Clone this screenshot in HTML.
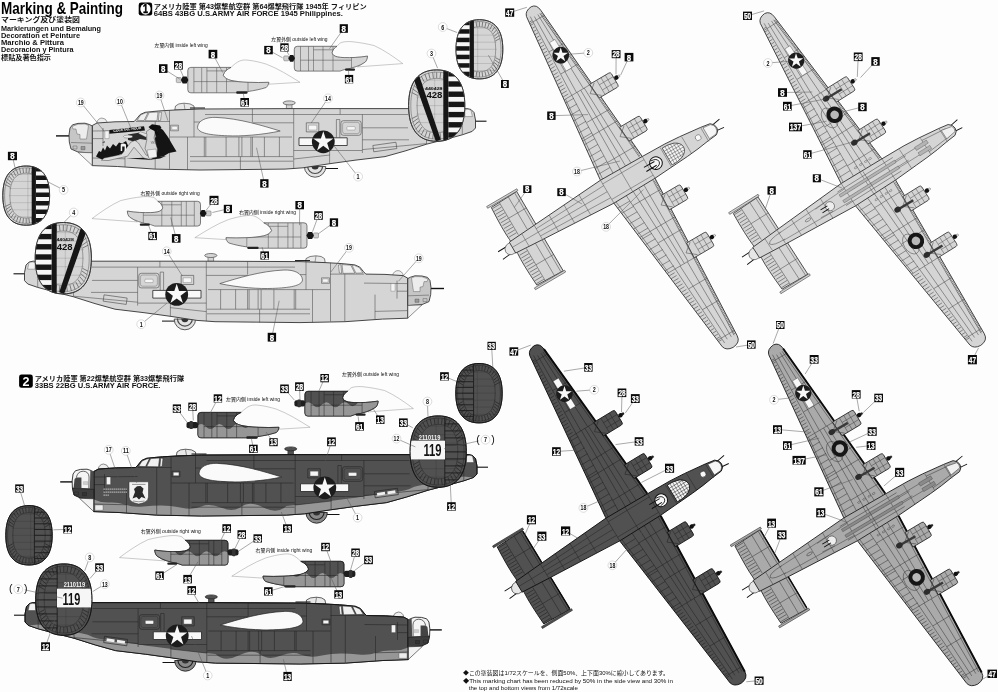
<!DOCTYPE html>
<html><head><meta charset="utf-8"><title>Marking &amp; Painting</title>
<style>html,body{margin:0;padding:0;background:#fdfdfd}svg{display:block;will-change:transform;filter:grayscale(1)}text{font-family:"Liberation Sans","Noto Sans CJK JP",sans-serif}</style>
</head><body>
<svg width="998" height="692" viewBox="0 0 998 692">
<rect width="998" height="692" fill="#fdfdfd"/>
<g transform="matrix(0.86251,-0.50603,0.50603,0.86251,633.10,176.50)" stroke-linejoin="round">
<path d="M94,-4.2L103.5,-5.8M94,2.6L103.3,3.6" stroke="#111" stroke-width="0.9" fill="none"/>
<path d="M-143,-3.6L-154.5,-3.4M-143,4.6L-154.2,5.6" stroke="#111" stroke-width="0.9" fill="none"/>
<path d="M-108,-46 L-108,46 L-138,45 Q-139.5,20 -138.5,8 L-138.5,-8 Q-139.5,-20 -138,-45 Z" fill="#d5d5d3" stroke="#3a3a3a" stroke-width="0.8"/>
<path d="M-141.5,-46.2 L-106.5,-46.2 L-106.5,-48.2 L-141.5,-48.2 Z" fill="#d5d5d3" stroke="#4a4a4a" stroke-width="0.6"/>
<path d="M-141.5,46.2 L-106.5,46.2 L-106.5,48.2 L-141.5,48.2 Z" fill="#d5d5d3" stroke="#4a4a4a" stroke-width="0.6"/>
<path d="M-138,-5.6 L-144,-5 Q-148,-3 -148,0.5 Q-148,4.5 -144,6 L-138,6.4 Z" fill="#e6e6e6" stroke="#4a4a4a" stroke-width="0.6"/>
<path d="M18.0,-13 L4.5,-190 Q4.0,-197.5 -2,-198 Q-9.5,-197.5 -11.0,-192 L-30.0,-14 L-30.0,14 L-9.2,192 Q-7.7,197.5 -0.2,198 Q8.8,197.5 9.2,190 L18.0,13 Z" fill="#d5d5d3" stroke="#3a3a3a" stroke-width="0.85"/>
<path d="M5.0,-13.0L2.6,-101.0M-1.2,-13.0L-1.5,-101.0M-7.5,-13.0L-5.7,-101.0M1.7,-101.0L-0.2,-188.0M-6.3,-101.0L-4.2,-188.0M-15.6,-13.0L-11.8,-101.0M-11.8,-101.0L-7.8,-190.0M-27.6,-13.0L-19.1,-101.0M15.3,-13.0L2.2,-188.0M14.7,-56.0L-25.5,-56.0M11.3,-101.0L-20.7,-101.0M5.0,-184.0L-11.9,-184.0M17.1,-25.0L-15.1,-25.0M13.7,-70.0L-12.7,-70.0M9.5,-125.0L-10.4,-125.0M7.5,-150.0L-9.7,-150.0M-15.3,-19.5L-29.4,-19.5M-15.0,-26.0L-28.7,-26.0M-14.7,-32.5L-28.0,-32.5M-14.3,-39.0L-27.3,-39.0M-14.0,-45.5L-26.6,-45.5M-13.7,-52.0L-25.9,-52.0M-13.3,-58.5L-25.3,-58.5M-13.0,-65.0L-24.6,-65.0M-12.6,-71.5L-23.9,-71.5M-12.3,-78.0L-23.2,-78.0M-12.0,-84.5L-22.5,-84.5M-11.6,-91.0L-21.8,-91.0M-11.3,-97.5L-21.1,-97.5M-118.0,-8.0L-118.0,-45.5M-128.5,-8.0L-128.5,-45.5M-110.5,-8.0L-110.5,-45.5M-108.0,-27.0L-128.5,-27.0M5.0,13.0L4.6,101.0M-1.2,13.0L0.2,101.0M-7.5,13.0L-4.1,101.0M3.6,101.0L3.6,188.0M-4.8,101.0L-1.1,188.0M-15.6,13.0L-10.5,101.0M-10.5,101.0L-5.3,190.0M-27.6,13.0L-18.1,101.0M15.3,13.0L6.8,188.0M15.8,56.0L-25.1,56.0M13.6,101.0L-19.8,101.0M9.4,184.0L-10.1,184.0M17.4,25.0L-14.9,25.0M15.2,70.0L-11.9,70.0M12.4,125.0L-8.8,125.0M11.1,150.0L-7.8,150.0M-15.2,19.5L-29.4,19.5M-14.8,26.0L-28.6,26.0M-14.4,32.5L-27.8,32.5M-13.9,39.0L-27.1,39.0M-13.5,45.5L-26.3,45.5M-13.1,52.0L-25.6,52.0M-12.6,58.5L-24.8,58.5M-12.2,65.0L-24.0,65.0M-11.8,71.5L-23.3,71.5M-11.3,78.0L-22.5,78.0M-10.9,84.5L-21.8,84.5M-10.5,91.0L-21.0,91.0M-10.0,97.5L-20.2,97.5M-118.0,8.0L-118.0,45.5M-128.5,8.0L-128.5,45.5M-110.5,8.0L-110.5,45.5M-108.0,27.0L-128.5,27.0" fill="none" stroke="#4a4a4a" stroke-width="0.5"/>
<path d="M-14.1,-104.0L-20.1,-104.0M-13.9,-107.4L-19.7,-107.4M-13.6,-110.8L-19.4,-110.8M-13.4,-114.2L-19.0,-114.2M-13.2,-117.6L-18.6,-117.6M-12.9,-121.0L-18.3,-121.0M-12.7,-124.4L-17.9,-124.4M-12.4,-127.8L-17.6,-127.8M-12.2,-131.2L-17.2,-131.2M-12.0,-134.6L-16.8,-134.6M-11.7,-138.0L-16.5,-138.0M-11.5,-141.4L-16.1,-141.4M-11.2,-144.8L-15.7,-144.8M-11.0,-148.2L-15.4,-148.2M-10.8,-151.6L-15.0,-151.6M-10.5,-155.0L-14.7,-155.0M-10.3,-158.4L-14.3,-158.4M-10.1,-161.8L-13.9,-161.8M-9.8,-165.2L-13.6,-165.2M-9.6,-168.6L-13.2,-168.6M-9.3,-172.0L-12.8,-172.0M-9.1,-175.4L-12.5,-175.4M-8.9,-178.8L-12.1,-178.8M-8.6,-182.2L-11.8,-182.2M-8.4,-185.6L-11.4,-185.6M17.5,-15.0L15.3,-15.0M17.4,-16.7L15.2,-16.7M17.3,-18.4L15.1,-18.4M17.2,-20.1L15.0,-20.1M17.0,-21.8L14.8,-21.8M16.9,-23.5L14.7,-23.5M16.8,-25.2L14.6,-25.2M16.6,-26.9L14.4,-26.9M16.5,-28.6L14.3,-28.6M16.4,-30.3L14.2,-30.3M16.3,-32.0L14.1,-32.0M16.1,-33.7L13.9,-33.7M16.0,-35.4L13.8,-35.4M15.9,-37.1L13.7,-37.1M15.7,-38.8L13.5,-38.8M15.6,-40.5L13.4,-40.5M15.5,-42.2L13.3,-42.2M15.3,-43.9L13.1,-43.9M15.2,-45.6L13.0,-45.6M15.1,-47.3L12.9,-47.3M15.0,-49.0L12.8,-49.0M14.8,-50.7L12.6,-50.7M14.7,-52.4L12.5,-52.4M14.6,-54.1L12.4,-54.1M14.4,-55.8L12.2,-55.8M14.3,-57.5L12.1,-57.5M14.2,-59.2L12.0,-59.2M14.0,-60.9L11.8,-60.9M13.9,-62.6L11.7,-62.6M13.8,-64.3L11.6,-64.3M13.7,-66.0L11.5,-66.0M13.5,-67.7L11.3,-67.7M13.4,-69.4L11.2,-69.4M13.3,-71.1L11.1,-71.1M13.1,-72.8L10.9,-72.8M13.0,-74.5L10.8,-74.5M12.9,-76.2L10.7,-76.2M12.7,-77.9L10.5,-77.9M12.6,-79.6L10.4,-79.6M12.5,-81.3L10.3,-81.3M12.4,-83.0L10.2,-83.0M12.2,-84.7L10.0,-84.7M12.1,-86.4L9.9,-86.4M12.0,-88.1L9.8,-88.1M11.8,-89.8L9.6,-89.8M11.7,-91.5L9.5,-91.5M11.6,-93.2L9.4,-93.2M11.5,-94.9L9.3,-94.9M11.3,-96.6L9.1,-96.6M11.2,-98.3L9.0,-98.3M11.1,-100.0L8.9,-100.0M10.9,-101.7L8.7,-101.7M10.8,-103.4L8.6,-103.4M10.7,-105.1L8.5,-105.1M10.5,-106.8L8.3,-106.8M10.4,-108.5L8.2,-108.5M10.3,-110.2L8.1,-110.2M10.2,-111.9L8.0,-111.9M10.0,-113.6L7.8,-113.6M9.9,-115.3L7.7,-115.3M9.8,-117.0L7.6,-117.0M9.6,-118.7L7.4,-118.7M9.5,-120.4L7.3,-120.4M9.4,-122.1L7.2,-122.1M9.2,-123.8L7.0,-123.8M9.1,-125.5L6.9,-125.5M9.0,-127.2L6.8,-127.2M8.9,-128.9L6.7,-128.9M8.7,-130.6L6.5,-130.6M8.6,-132.3L6.4,-132.3M8.5,-134.0L6.3,-134.0M8.3,-135.7L6.1,-135.7M8.2,-137.4L6.0,-137.4M8.1,-139.1L5.9,-139.1M7.9,-140.8L5.7,-140.8M7.8,-142.5L5.6,-142.5M7.7,-144.2L5.5,-144.2M7.6,-145.9L5.4,-145.9M7.4,-147.6L5.2,-147.6M7.3,-149.3L5.1,-149.3M7.2,-151.0L5.0,-151.0M7.0,-152.7L4.8,-152.7M6.9,-154.4L4.7,-154.4M6.8,-156.1L4.6,-156.1M6.7,-157.8L4.5,-157.8M6.5,-159.5L4.3,-159.5M6.4,-161.2L4.2,-161.2M6.3,-162.9L4.1,-162.9M6.1,-164.6L3.9,-164.6M6.0,-166.3L3.8,-166.3M5.9,-168.0L3.7,-168.0M5.7,-169.7L3.5,-169.7M5.6,-171.4L3.4,-171.4M5.5,-173.1L3.3,-173.1M5.4,-174.8L3.2,-174.8M5.2,-176.5L3.0,-176.5M5.1,-178.2L2.9,-178.2M5.0,-179.9L2.8,-179.9M4.8,-181.6L2.6,-181.6M4.7,-183.3L2.5,-183.3M4.6,-185.0L2.4,-185.0M4.4,-186.7L2.2,-186.7M-129.0,-10.5L-137.6,-10.5M-129.0,-13.8L-137.6,-13.8M-129.0,-17.1L-137.6,-17.1M-129.0,-20.4L-137.6,-20.4M-129.0,-23.7L-137.6,-23.7M-129.0,-27.0L-137.6,-27.0M-129.0,-30.3L-137.6,-30.3M-129.0,-33.6L-137.6,-33.6M-129.0,-36.9L-137.6,-36.9M-129.0,-40.2L-137.6,-40.2M-129.0,-43.5L-137.6,-43.5M-12.9,104.0L-19.2,104.0M-12.6,107.4L-18.8,107.4M-12.3,110.8L-18.4,110.8M-12.0,114.2L-18.0,114.2M-11.7,117.6L-17.6,117.6M-11.5,121.0L-17.2,121.0M-11.2,124.4L-16.8,124.4M-10.9,127.8L-16.4,127.8M-10.6,131.2L-16.0,131.2M-10.3,134.6L-15.6,134.6M-10.0,138.0L-15.2,138.0M-9.8,141.4L-14.8,141.4M-9.5,144.8L-14.4,144.8M-9.2,148.2L-14.0,148.2M-8.9,151.6L-13.6,151.6M-8.6,155.0L-13.2,155.0M-8.3,158.4L-12.8,158.4M-8.1,161.8L-12.4,161.8M-7.8,165.2L-12.0,165.2M-7.5,168.6L-11.6,168.6M-7.2,172.0L-11.2,172.0M-6.9,175.4L-10.8,175.4M-6.6,178.8L-10.4,178.8M-6.3,182.2L-10.0,182.2M-6.1,185.6L-9.6,185.6M17.6,15.0L15.4,15.0M17.5,16.7L15.3,16.7M17.4,18.4L15.2,18.4M17.3,20.1L15.1,20.1M17.3,21.8L15.1,21.8M17.2,23.5L15.0,23.5M17.1,25.2L14.9,25.2M17.0,26.9L14.8,26.9M16.9,28.6L14.7,28.6M16.8,30.3L14.6,30.3M16.8,32.0L14.6,32.0M16.7,33.7L14.5,33.7M16.6,35.4L14.4,35.4M16.5,37.1L14.3,37.1M16.4,38.8L14.2,38.8M16.3,40.5L14.1,40.5M16.2,42.2L14.0,42.2M16.2,43.9L14.0,43.9M16.1,45.6L13.9,45.6M16.0,47.3L13.8,47.3M15.9,49.0L13.7,49.0M15.8,50.7L13.6,50.7M15.7,52.4L13.5,52.4M15.6,54.1L13.4,54.1M15.6,55.8L13.4,55.8M15.5,57.5L13.3,57.5M15.4,59.2L13.2,59.2M15.3,60.9L13.1,60.9M15.2,62.6L13.0,62.6M15.1,64.3L12.9,64.3M15.0,66.0L12.8,66.0M15.0,67.7L12.8,67.7M14.9,69.4L12.7,69.4M14.8,71.1L12.6,71.1M14.7,72.8L12.5,72.8M14.6,74.5L12.4,74.5M14.5,76.2L12.3,76.2M14.5,77.9L12.3,77.9M14.4,79.6L12.2,79.6M14.3,81.3L12.1,81.3M14.2,83.0L12.0,83.0M14.1,84.7L11.9,84.7M14.0,86.4L11.8,86.4M13.9,88.1L11.7,88.1M13.9,89.8L11.7,89.8M13.8,91.5L11.6,91.5M13.7,93.2L11.5,93.2M13.6,94.9L11.4,94.9M13.5,96.6L11.3,96.6M13.4,98.3L11.2,98.3M13.3,100.0L11.1,100.0M13.3,101.7L11.1,101.7M13.2,103.4L11.0,103.4M13.1,105.1L10.9,105.1M13.0,106.8L10.8,106.8M12.9,108.5L10.7,108.5M12.8,110.2L10.6,110.2M12.8,111.9L10.6,111.9M12.7,113.6L10.5,113.6M12.6,115.3L10.4,115.3M12.5,117.0L10.3,117.0M12.4,118.7L10.2,118.7M12.3,120.4L10.1,120.4M12.2,122.1L10.0,122.1M12.2,123.8L10.0,123.8M12.1,125.5L9.9,125.5M12.0,127.2L9.8,127.2M11.9,128.9L9.7,128.9M11.8,130.6L9.6,130.6M11.7,132.3L9.5,132.3M11.6,134.0L9.4,134.0M11.6,135.7L9.4,135.7M11.5,137.4L9.3,137.4M11.4,139.1L9.2,139.1M11.3,140.8L9.1,140.8M11.2,142.5L9.0,142.5M11.1,144.2L8.9,144.2M11.1,145.9L8.9,145.9M11.0,147.6L8.8,147.6M10.9,149.3L8.7,149.3M10.8,151.0L8.6,151.0M10.7,152.7L8.5,152.7M10.6,154.4L8.4,154.4M10.5,156.1L8.3,156.1M10.5,157.8L8.3,157.8M10.4,159.5L8.2,159.5M10.3,161.2L8.1,161.2M10.2,162.9L8.0,162.9M10.1,164.6L7.9,164.6M10.0,166.3L7.8,166.3M10.0,168.0L7.8,168.0M9.9,169.7L7.7,169.7M9.8,171.4L7.6,171.4M9.7,173.1L7.5,173.1M9.6,174.8L7.4,174.8M9.5,176.5L7.3,176.5M9.4,178.2L7.2,178.2M9.4,179.9L7.2,179.9M9.3,181.6L7.1,181.6M9.2,183.3L7.0,183.3M9.1,185.0L6.9,185.0M9.0,186.7L6.8,186.7M-129.0,10.5L-137.6,10.5M-129.0,13.8L-137.6,13.8M-129.0,17.1L-137.6,17.1M-129.0,20.4L-137.6,20.4M-129.0,23.7L-137.6,23.7M-129.0,27.0L-137.6,27.0M-129.0,30.3L-137.6,30.3M-129.0,33.6L-137.6,33.6M-129.0,36.9L-137.6,36.9M-129.0,40.2L-137.6,40.2M-129.0,43.5L-137.6,43.5" fill="none" stroke="#4a4a4a" stroke-width="0.55"/>
<path d="M9.2,-101.5 L31.3,-101.5 Q33.3,-101.5 33.3,-99.5 L33.3,-86.9 Q33.3,-84.9 31.3,-84.9 L10.5,-84.9 Z" fill="#d5d5d3" stroke="#3a3a3a" stroke-width="0.8"/>
<path d="M27.3,-101.5L27.3,-84.9M22.3,-101.5L22.3,-84.9M17.3,-101.5L17.3,-84.9M17.3,-96.2L33.3,-96.2M17.3,-90.2L33.3,-90.2" fill="none" stroke="#4a4a4a" stroke-width="0.45"/>
<path d="M13.9,-100.5 L4.9,-93.2 L13.9,-85.9" fill="none" stroke="#4a4a4a" stroke-width="0.5"/>
<path d="M35.8,-95.1 L39.3,-94.7 Q40.3,-93.8 39.3,-92.9 L35.8,-92.5Z" fill="#e8e8e8" stroke="#4a4a4a" stroke-width="0.4"/>
<circle cx="35.6" cy="-93.8" r="2.2" fill="#111"/>
<path d="M13.2,-49.3 L34.3,-49.3 Q36.3,-49.3 36.3,-47.3 L36.3,-34.7 Q36.3,-32.7 34.3,-32.7 L14.5,-32.7 Z" fill="#d5d5d3" stroke="#3a3a3a" stroke-width="0.8"/>
<path d="M30.3,-49.3L30.3,-32.7M25.3,-49.3L25.3,-32.7M20.3,-49.3L20.3,-32.7M20.3,-44.0L36.3,-44.0M20.3,-38.0L36.3,-38.0" fill="none" stroke="#4a4a4a" stroke-width="0.45"/>
<path d="M17.9,-48.3 L8.9,-41.0 L17.9,-33.7" fill="none" stroke="#4a4a4a" stroke-width="0.5"/>
<path d="M38.8,-42.9 L42.3,-42.5 Q43.3,-41.6 42.3,-40.7 L38.8,-40.3Z" fill="#e8e8e8" stroke="#4a4a4a" stroke-width="0.4"/>
<circle cx="38.6" cy="-41.6" r="2.2" fill="#111"/>
<path d="M15.1,30.5 L34.5,30.5 Q36.5,30.5 36.5,32.5 L36.5,45.1 Q36.5,47.1 34.5,47.1 L14.3,47.1 Z" fill="#d5d5d3" stroke="#3a3a3a" stroke-width="0.8"/>
<path d="M30.5,30.5L30.5,47.1M25.5,30.5L25.5,47.1M20.5,30.5L20.5,47.1M20.5,35.8L36.5,35.8M20.5,41.8L36.5,41.8" fill="none" stroke="#4a4a4a" stroke-width="0.45"/>
<path d="M18.7,31.5 L9.7,38.8 L18.7,46.1" fill="none" stroke="#4a4a4a" stroke-width="0.5"/>
<path d="M39.0,36.9 L42.5,37.3 Q43.5,38.2 42.5,39.1 L39.0,39.5Z" fill="#e8e8e8" stroke="#4a4a4a" stroke-width="0.4"/>
<circle cx="38.8" cy="38.2" r="2.2" fill="#111"/>
<path d="M12.4,84.4 L33.0,84.4 Q35.0,84.4 35.0,86.4 L35.0,99.0 Q35.0,101.0 33.0,101.0 L11.6,101.0 Z" fill="#d5d5d3" stroke="#3a3a3a" stroke-width="0.8"/>
<path d="M29.0,84.4L29.0,101.0M24.0,84.4L24.0,101.0M19.0,84.4L19.0,101.0M19.0,89.7L35.0,89.7M19.0,95.7L35.0,95.7" fill="none" stroke="#4a4a4a" stroke-width="0.45"/>
<path d="M16.0,85.4 L7.0,92.7 L16.0,100.0" fill="none" stroke="#4a4a4a" stroke-width="0.5"/>
<path d="M37.5,90.8 L41.0,91.2 Q42.0,92.1 41.0,93.0 L37.5,93.4Z" fill="#e8e8e8" stroke="#4a4a4a" stroke-width="0.4"/>
<circle cx="37.3" cy="92.1" r="2.2" fill="#111"/>
<path d="M-140,-6 L-110,-8 L-30,-13.3 L18,-12.6 L44,-12 L60,-10.8 L83,-8.2 L93,-6.6 Q97,-4 97,0 Q97,4 93,6.2 L83,7.2 L70,9 L57,10.2 L44,11 L18,12.6 L-30,13.3 L-110,8.6 L-140,6.6 Z" fill="#d5d5d3" stroke="#3a3a3a" stroke-width="0.85"/>
<path d="M-140.0,0.0L-30.0,0.0M-110.0,-4.0L-30.0,-7.0M-110.0,4.4L-30.0,7.0M-125.0,-7.0L-125.0,7.0M-110.0,-8.0L-110.0,8.0M-92.0,-9.2L-92.0,9.2M-74.0,-10.4L-74.0,10.4M-56.0,-11.6L-56.0,11.6M-30.0,-13.3L-30.0,13.3M-8.0,-13.3L-8.0,13.3M18.0,-13.3L18.0,13.3M38.0,-11.2L38.0,11.2M62.0,-9.6L62.0,9.6M83.0,-8.2L83.0,8.2M-30.0,-9.0L18.0,-9.0M-30.0,9.0L18.0,9.0" fill="none" stroke="#4a4a4a" stroke-width="0.45"/>
<path d="M39.5,-9.8 L39.5,9.8 Q46,10.2 52,8.2 Q58.5,5 58.5,0 Q58.5,-5 52,-8.2 Q46,-10.2 39.5,-9.8 Z" fill="#f4f4f4" stroke="#4a4a4a" stroke-width="0.8"/>
<path d="M42.5,-9.8L42.5,9.8M45.5,-9.9L45.5,9.9M48.5,-9.4L48.5,9.4M51.5,-8.4L51.5,8.4M54.5,-6.6L54.5,6.6M39.5,-6L55.2,-6M39.5,-3L57.6,-3M39.5,0L58.5,0M39.5,3L57.6,3M39.5,6L55.2,6" fill="none" stroke="#4a4a4a" stroke-width="0.45"/>
<circle cx="26.5" cy="0" r="6.4" fill="#f8f8f8" stroke="#111" stroke-width="1"/>
<path d="M26,-2.2L14,-2.4M26,2.2L14,2.4" stroke="#111" stroke-width="1" fill="none"/>
<path d="M23,-4.5Q30,-4 30,0Q30,4 23,4.5" stroke="#111" stroke-width="0.8" fill="none"/>
<circle cx="75.8" cy="-0.6" r="2.9" fill="#fafafa" stroke="#4a4a4a" stroke-width="0.5"/>
<path d="M85,-6.6 L93,-5.6 Q96,-3.5 96,0 Q96,3.5 93,5.4 L85,6 Z" fill="#f6f6f6" stroke="#4a4a4a" stroke-width="0.5"/>
<rect x="-4.4" y="-157.8" width="6.4" height="33" fill="#f8f8f8" stroke="#4a4a4a" stroke-width="0.4"/>
<circle cx="-1" cy="-141.3" r="8.4" fill="#1c1c1c"/>
<polygon points="2.90,-147.94 1.70,-142.48 6.52,-139.65 0.95,-139.10 -0.25,-133.64 -2.49,-138.76 -8.06,-138.22 -3.87,-141.93 -6.11,-147.06 -1.29,-144.23" fill="#f8f8f8"/>
</g>
<g transform="matrix(0.83980,-0.52490,0.54200,0.84040,873.60,178.90)" stroke-linejoin="round">
<path d="M94,-4.2L103.5,-5.8M94,2.6L103.3,3.6" stroke="#111" stroke-width="0.9" fill="none"/>
<path d="M-143,-3.6L-154.5,-3.4M-143,4.6L-154.2,5.6" stroke="#111" stroke-width="0.9" fill="none"/>
<path d="M-108,-46 L-108,46 L-138,45 Q-139.5,20 -138.5,8 L-138.5,-8 Q-139.5,-20 -138,-45 Z" fill="#d5d5d3" stroke="#3a3a3a" stroke-width="0.8"/>
<path d="M-141.5,-46.2 L-106.5,-46.2 L-106.5,-48.2 L-141.5,-48.2 Z" fill="#d5d5d3" stroke="#4a4a4a" stroke-width="0.6"/>
<path d="M-141.5,46.2 L-106.5,46.2 L-106.5,48.2 L-141.5,48.2 Z" fill="#d5d5d3" stroke="#4a4a4a" stroke-width="0.6"/>
<path d="M-138,-5.6 L-144,-5 Q-148,-3 -148,0.5 Q-148,4.5 -144,6 L-138,6.4 Z" fill="#e6e6e6" stroke="#4a4a4a" stroke-width="0.6"/>
<path d="M18.0,-13 L4.5,-190 Q4.0,-197.5 -2,-198 Q-9.5,-197.5 -11.0,-192 L-30.0,-14 L-30.0,14 L-9.2,192 Q-7.7,197.5 -0.2,198 Q8.8,197.5 9.2,190 L18.0,13 Z" fill="#d5d5d3" stroke="#3a3a3a" stroke-width="0.85"/>
<path d="M5.0,-13.0L2.6,-101.0M-1.2,-13.0L-1.5,-101.0M-7.5,-13.0L-5.7,-101.0M1.7,-101.0L-0.2,-188.0M-6.3,-101.0L-4.2,-188.0M-15.6,-13.0L-11.8,-101.0M-11.8,-101.0L-7.8,-190.0M-27.6,-13.0L-19.1,-101.0M15.3,-13.0L2.2,-188.0M14.7,-56.0L-25.5,-56.0M11.3,-101.0L-20.7,-101.0M5.0,-184.0L-11.9,-184.0M17.1,-25.0L-15.1,-25.0M13.7,-70.0L-12.7,-70.0M9.5,-125.0L-10.4,-125.0M7.5,-150.0L-9.7,-150.0M-15.3,-19.5L-29.4,-19.5M-15.0,-26.0L-28.7,-26.0M-14.7,-32.5L-28.0,-32.5M-14.3,-39.0L-27.3,-39.0M-14.0,-45.5L-26.6,-45.5M-13.7,-52.0L-25.9,-52.0M-13.3,-58.5L-25.3,-58.5M-13.0,-65.0L-24.6,-65.0M-12.6,-71.5L-23.9,-71.5M-12.3,-78.0L-23.2,-78.0M-12.0,-84.5L-22.5,-84.5M-11.6,-91.0L-21.8,-91.0M-11.3,-97.5L-21.1,-97.5M-118.0,-8.0L-118.0,-45.5M-128.5,-8.0L-128.5,-45.5M-110.5,-8.0L-110.5,-45.5M-108.0,-27.0L-128.5,-27.0M5.0,13.0L4.6,101.0M-1.2,13.0L0.2,101.0M-7.5,13.0L-4.1,101.0M3.6,101.0L3.6,188.0M-4.8,101.0L-1.1,188.0M-15.6,13.0L-10.5,101.0M-10.5,101.0L-5.3,190.0M-27.6,13.0L-18.1,101.0M15.3,13.0L6.8,188.0M15.8,56.0L-25.1,56.0M13.6,101.0L-19.8,101.0M9.4,184.0L-10.1,184.0M17.4,25.0L-14.9,25.0M15.2,70.0L-11.9,70.0M12.4,125.0L-8.8,125.0M11.1,150.0L-7.8,150.0M-15.2,19.5L-29.4,19.5M-14.8,26.0L-28.6,26.0M-14.4,32.5L-27.8,32.5M-13.9,39.0L-27.1,39.0M-13.5,45.5L-26.3,45.5M-13.1,52.0L-25.6,52.0M-12.6,58.5L-24.8,58.5M-12.2,65.0L-24.0,65.0M-11.8,71.5L-23.3,71.5M-11.3,78.0L-22.5,78.0M-10.9,84.5L-21.8,84.5M-10.5,91.0L-21.0,91.0M-10.0,97.5L-20.2,97.5M-118.0,8.0L-118.0,45.5M-128.5,8.0L-128.5,45.5M-110.5,8.0L-110.5,45.5M-108.0,27.0L-128.5,27.0" fill="none" stroke="#4a4a4a" stroke-width="0.5"/>
<path d="M-14.1,-104.0L-20.1,-104.0M-13.9,-107.4L-19.7,-107.4M-13.6,-110.8L-19.4,-110.8M-13.4,-114.2L-19.0,-114.2M-13.2,-117.6L-18.6,-117.6M-12.9,-121.0L-18.3,-121.0M-12.7,-124.4L-17.9,-124.4M-12.4,-127.8L-17.6,-127.8M-12.2,-131.2L-17.2,-131.2M-12.0,-134.6L-16.8,-134.6M-11.7,-138.0L-16.5,-138.0M-11.5,-141.4L-16.1,-141.4M-11.2,-144.8L-15.7,-144.8M-11.0,-148.2L-15.4,-148.2M-10.8,-151.6L-15.0,-151.6M-10.5,-155.0L-14.7,-155.0M-10.3,-158.4L-14.3,-158.4M-10.1,-161.8L-13.9,-161.8M-9.8,-165.2L-13.6,-165.2M-9.6,-168.6L-13.2,-168.6M-9.3,-172.0L-12.8,-172.0M-9.1,-175.4L-12.5,-175.4M-8.9,-178.8L-12.1,-178.8M-8.6,-182.2L-11.8,-182.2M-8.4,-185.6L-11.4,-185.6M17.5,-15.0L15.3,-15.0M17.4,-16.7L15.2,-16.7M17.3,-18.4L15.1,-18.4M17.2,-20.1L15.0,-20.1M17.0,-21.8L14.8,-21.8M16.9,-23.5L14.7,-23.5M16.8,-25.2L14.6,-25.2M16.6,-26.9L14.4,-26.9M16.5,-28.6L14.3,-28.6M16.4,-30.3L14.2,-30.3M16.3,-32.0L14.1,-32.0M16.1,-33.7L13.9,-33.7M16.0,-35.4L13.8,-35.4M15.9,-37.1L13.7,-37.1M15.7,-38.8L13.5,-38.8M15.6,-40.5L13.4,-40.5M15.5,-42.2L13.3,-42.2M15.3,-43.9L13.1,-43.9M15.2,-45.6L13.0,-45.6M15.1,-47.3L12.9,-47.3M15.0,-49.0L12.8,-49.0M14.8,-50.7L12.6,-50.7M14.7,-52.4L12.5,-52.4M14.6,-54.1L12.4,-54.1M14.4,-55.8L12.2,-55.8M14.3,-57.5L12.1,-57.5M14.2,-59.2L12.0,-59.2M14.0,-60.9L11.8,-60.9M13.9,-62.6L11.7,-62.6M13.8,-64.3L11.6,-64.3M13.7,-66.0L11.5,-66.0M13.5,-67.7L11.3,-67.7M13.4,-69.4L11.2,-69.4M13.3,-71.1L11.1,-71.1M13.1,-72.8L10.9,-72.8M13.0,-74.5L10.8,-74.5M12.9,-76.2L10.7,-76.2M12.7,-77.9L10.5,-77.9M12.6,-79.6L10.4,-79.6M12.5,-81.3L10.3,-81.3M12.4,-83.0L10.2,-83.0M12.2,-84.7L10.0,-84.7M12.1,-86.4L9.9,-86.4M12.0,-88.1L9.8,-88.1M11.8,-89.8L9.6,-89.8M11.7,-91.5L9.5,-91.5M11.6,-93.2L9.4,-93.2M11.5,-94.9L9.3,-94.9M11.3,-96.6L9.1,-96.6M11.2,-98.3L9.0,-98.3M11.1,-100.0L8.9,-100.0M10.9,-101.7L8.7,-101.7M10.8,-103.4L8.6,-103.4M10.7,-105.1L8.5,-105.1M10.5,-106.8L8.3,-106.8M10.4,-108.5L8.2,-108.5M10.3,-110.2L8.1,-110.2M10.2,-111.9L8.0,-111.9M10.0,-113.6L7.8,-113.6M9.9,-115.3L7.7,-115.3M9.8,-117.0L7.6,-117.0M9.6,-118.7L7.4,-118.7M9.5,-120.4L7.3,-120.4M9.4,-122.1L7.2,-122.1M9.2,-123.8L7.0,-123.8M9.1,-125.5L6.9,-125.5M9.0,-127.2L6.8,-127.2M8.9,-128.9L6.7,-128.9M8.7,-130.6L6.5,-130.6M8.6,-132.3L6.4,-132.3M8.5,-134.0L6.3,-134.0M8.3,-135.7L6.1,-135.7M8.2,-137.4L6.0,-137.4M8.1,-139.1L5.9,-139.1M7.9,-140.8L5.7,-140.8M7.8,-142.5L5.6,-142.5M7.7,-144.2L5.5,-144.2M7.6,-145.9L5.4,-145.9M7.4,-147.6L5.2,-147.6M7.3,-149.3L5.1,-149.3M7.2,-151.0L5.0,-151.0M7.0,-152.7L4.8,-152.7M6.9,-154.4L4.7,-154.4M6.8,-156.1L4.6,-156.1M6.7,-157.8L4.5,-157.8M6.5,-159.5L4.3,-159.5M6.4,-161.2L4.2,-161.2M6.3,-162.9L4.1,-162.9M6.1,-164.6L3.9,-164.6M6.0,-166.3L3.8,-166.3M5.9,-168.0L3.7,-168.0M5.7,-169.7L3.5,-169.7M5.6,-171.4L3.4,-171.4M5.5,-173.1L3.3,-173.1M5.4,-174.8L3.2,-174.8M5.2,-176.5L3.0,-176.5M5.1,-178.2L2.9,-178.2M5.0,-179.9L2.8,-179.9M4.8,-181.6L2.6,-181.6M4.7,-183.3L2.5,-183.3M4.6,-185.0L2.4,-185.0M4.4,-186.7L2.2,-186.7M-129.0,-10.5L-137.6,-10.5M-129.0,-13.8L-137.6,-13.8M-129.0,-17.1L-137.6,-17.1M-129.0,-20.4L-137.6,-20.4M-129.0,-23.7L-137.6,-23.7M-129.0,-27.0L-137.6,-27.0M-129.0,-30.3L-137.6,-30.3M-129.0,-33.6L-137.6,-33.6M-129.0,-36.9L-137.6,-36.9M-129.0,-40.2L-137.6,-40.2M-129.0,-43.5L-137.6,-43.5M-12.9,104.0L-19.2,104.0M-12.6,107.4L-18.8,107.4M-12.3,110.8L-18.4,110.8M-12.0,114.2L-18.0,114.2M-11.7,117.6L-17.6,117.6M-11.5,121.0L-17.2,121.0M-11.2,124.4L-16.8,124.4M-10.9,127.8L-16.4,127.8M-10.6,131.2L-16.0,131.2M-10.3,134.6L-15.6,134.6M-10.0,138.0L-15.2,138.0M-9.8,141.4L-14.8,141.4M-9.5,144.8L-14.4,144.8M-9.2,148.2L-14.0,148.2M-8.9,151.6L-13.6,151.6M-8.6,155.0L-13.2,155.0M-8.3,158.4L-12.8,158.4M-8.1,161.8L-12.4,161.8M-7.8,165.2L-12.0,165.2M-7.5,168.6L-11.6,168.6M-7.2,172.0L-11.2,172.0M-6.9,175.4L-10.8,175.4M-6.6,178.8L-10.4,178.8M-6.3,182.2L-10.0,182.2M-6.1,185.6L-9.6,185.6M17.6,15.0L15.4,15.0M17.5,16.7L15.3,16.7M17.4,18.4L15.2,18.4M17.3,20.1L15.1,20.1M17.3,21.8L15.1,21.8M17.2,23.5L15.0,23.5M17.1,25.2L14.9,25.2M17.0,26.9L14.8,26.9M16.9,28.6L14.7,28.6M16.8,30.3L14.6,30.3M16.8,32.0L14.6,32.0M16.7,33.7L14.5,33.7M16.6,35.4L14.4,35.4M16.5,37.1L14.3,37.1M16.4,38.8L14.2,38.8M16.3,40.5L14.1,40.5M16.2,42.2L14.0,42.2M16.2,43.9L14.0,43.9M16.1,45.6L13.9,45.6M16.0,47.3L13.8,47.3M15.9,49.0L13.7,49.0M15.8,50.7L13.6,50.7M15.7,52.4L13.5,52.4M15.6,54.1L13.4,54.1M15.6,55.8L13.4,55.8M15.5,57.5L13.3,57.5M15.4,59.2L13.2,59.2M15.3,60.9L13.1,60.9M15.2,62.6L13.0,62.6M15.1,64.3L12.9,64.3M15.0,66.0L12.8,66.0M15.0,67.7L12.8,67.7M14.9,69.4L12.7,69.4M14.8,71.1L12.6,71.1M14.7,72.8L12.5,72.8M14.6,74.5L12.4,74.5M14.5,76.2L12.3,76.2M14.5,77.9L12.3,77.9M14.4,79.6L12.2,79.6M14.3,81.3L12.1,81.3M14.2,83.0L12.0,83.0M14.1,84.7L11.9,84.7M14.0,86.4L11.8,86.4M13.9,88.1L11.7,88.1M13.9,89.8L11.7,89.8M13.8,91.5L11.6,91.5M13.7,93.2L11.5,93.2M13.6,94.9L11.4,94.9M13.5,96.6L11.3,96.6M13.4,98.3L11.2,98.3M13.3,100.0L11.1,100.0M13.3,101.7L11.1,101.7M13.2,103.4L11.0,103.4M13.1,105.1L10.9,105.1M13.0,106.8L10.8,106.8M12.9,108.5L10.7,108.5M12.8,110.2L10.6,110.2M12.8,111.9L10.6,111.9M12.7,113.6L10.5,113.6M12.6,115.3L10.4,115.3M12.5,117.0L10.3,117.0M12.4,118.7L10.2,118.7M12.3,120.4L10.1,120.4M12.2,122.1L10.0,122.1M12.2,123.8L10.0,123.8M12.1,125.5L9.9,125.5M12.0,127.2L9.8,127.2M11.9,128.9L9.7,128.9M11.8,130.6L9.6,130.6M11.7,132.3L9.5,132.3M11.6,134.0L9.4,134.0M11.6,135.7L9.4,135.7M11.5,137.4L9.3,137.4M11.4,139.1L9.2,139.1M11.3,140.8L9.1,140.8M11.2,142.5L9.0,142.5M11.1,144.2L8.9,144.2M11.1,145.9L8.9,145.9M11.0,147.6L8.8,147.6M10.9,149.3L8.7,149.3M10.8,151.0L8.6,151.0M10.7,152.7L8.5,152.7M10.6,154.4L8.4,154.4M10.5,156.1L8.3,156.1M10.5,157.8L8.3,157.8M10.4,159.5L8.2,159.5M10.3,161.2L8.1,161.2M10.2,162.9L8.0,162.9M10.1,164.6L7.9,164.6M10.0,166.3L7.8,166.3M10.0,168.0L7.8,168.0M9.9,169.7L7.7,169.7M9.8,171.4L7.6,171.4M9.7,173.1L7.5,173.1M9.6,174.8L7.4,174.8M9.5,176.5L7.3,176.5M9.4,178.2L7.2,178.2M9.4,179.9L7.2,179.9M9.3,181.6L7.1,181.6M9.2,183.3L7.0,183.3M9.1,185.0L6.9,185.0M9.0,186.7L6.8,186.7M-129.0,10.5L-137.6,10.5M-129.0,13.8L-137.6,13.8M-129.0,17.1L-137.6,17.1M-129.0,20.4L-137.6,20.4M-129.0,23.7L-137.6,23.7M-129.0,27.0L-137.6,27.0M-129.0,30.3L-137.6,30.3M-129.0,33.6L-137.6,33.6M-129.0,36.9L-137.6,36.9M-129.0,40.2L-137.6,40.2M-129.0,43.5L-137.6,43.5" fill="none" stroke="#4a4a4a" stroke-width="0.55"/>
<path d="M9.2,-101.5 L31.3,-101.5 Q33.3,-101.5 33.3,-99.5 L33.3,-86.9 Q33.3,-84.9 31.3,-84.9 L10.5,-84.9 Z" fill="#d5d5d3" stroke="#3a3a3a" stroke-width="0.8"/>
<path d="M27.3,-101.5L27.3,-84.9M22.3,-101.5L22.3,-84.9M17.3,-101.5L17.3,-84.9M17.3,-96.2L33.3,-96.2M17.3,-90.2L33.3,-90.2" fill="none" stroke="#4a4a4a" stroke-width="0.45"/>
<path d="M13.9,-100.5 L4.9,-93.2 L13.9,-85.9" fill="none" stroke="#4a4a4a" stroke-width="0.5"/>
<path d="M35.8,-95.1 L39.3,-94.7 Q40.3,-93.8 39.3,-92.9 L35.8,-92.5Z" fill="#e8e8e8" stroke="#4a4a4a" stroke-width="0.4"/>
<circle cx="35.6" cy="-93.8" r="2.2" fill="#111"/>
<path d="M13.2,-49.3 L34.3,-49.3 Q36.3,-49.3 36.3,-47.3 L36.3,-34.7 Q36.3,-32.7 34.3,-32.7 L14.5,-32.7 Z" fill="#d5d5d3" stroke="#3a3a3a" stroke-width="0.8"/>
<path d="M30.3,-49.3L30.3,-32.7M25.3,-49.3L25.3,-32.7M20.3,-49.3L20.3,-32.7M20.3,-44.0L36.3,-44.0M20.3,-38.0L36.3,-38.0" fill="none" stroke="#4a4a4a" stroke-width="0.45"/>
<path d="M17.9,-48.3 L8.9,-41.0 L17.9,-33.7" fill="none" stroke="#4a4a4a" stroke-width="0.5"/>
<path d="M38.8,-42.9 L42.3,-42.5 Q43.3,-41.6 42.3,-40.7 L38.8,-40.3Z" fill="#e8e8e8" stroke="#4a4a4a" stroke-width="0.4"/>
<circle cx="38.6" cy="-41.6" r="2.2" fill="#111"/>
<path d="M15.1,30.5 L34.5,30.5 Q36.5,30.5 36.5,32.5 L36.5,45.1 Q36.5,47.1 34.5,47.1 L14.3,47.1 Z" fill="#d5d5d3" stroke="#3a3a3a" stroke-width="0.8"/>
<path d="M30.5,30.5L30.5,47.1M25.5,30.5L25.5,47.1M20.5,30.5L20.5,47.1M20.5,35.8L36.5,35.8M20.5,41.8L36.5,41.8" fill="none" stroke="#4a4a4a" stroke-width="0.45"/>
<path d="M18.7,31.5 L9.7,38.8 L18.7,46.1" fill="none" stroke="#4a4a4a" stroke-width="0.5"/>
<path d="M39.0,36.9 L42.5,37.3 Q43.5,38.2 42.5,39.1 L39.0,39.5Z" fill="#e8e8e8" stroke="#4a4a4a" stroke-width="0.4"/>
<circle cx="38.8" cy="38.2" r="2.2" fill="#111"/>
<path d="M12.4,84.4 L33.0,84.4 Q35.0,84.4 35.0,86.4 L35.0,99.0 Q35.0,101.0 33.0,101.0 L11.6,101.0 Z" fill="#d5d5d3" stroke="#3a3a3a" stroke-width="0.8"/>
<path d="M29.0,84.4L29.0,101.0M24.0,84.4L24.0,101.0M19.0,84.4L19.0,101.0M19.0,89.7L35.0,89.7M19.0,95.7L35.0,95.7" fill="none" stroke="#4a4a4a" stroke-width="0.45"/>
<path d="M16.0,85.4 L7.0,92.7 L16.0,100.0" fill="none" stroke="#4a4a4a" stroke-width="0.5"/>
<path d="M37.5,90.8 L41.0,91.2 Q42.0,92.1 41.0,93.0 L37.5,93.4Z" fill="#e8e8e8" stroke="#4a4a4a" stroke-width="0.4"/>
<circle cx="37.3" cy="92.1" r="2.2" fill="#111"/>
<path d="M-140,-6 L-110,-8 L-30,-13.3 L18,-12.6 L44,-12 L60,-10.8 L83,-8.2 L93,-6.6 Q97,-4 97,0 Q97,4 93,6.2 L83,7.2 L70,9 L57,10.2 L44,11 L18,12.6 L-30,13.3 L-110,8.6 L-140,6.6 Z" fill="#d5d5d3" stroke="#3a3a3a" stroke-width="0.85"/>
<path d="M-110.0,-4.0L-30.0,-7.0M-110.0,4.4L-30.0,7.0M-125.0,-7.0L-125.0,7.0M-110.0,-8.0L-110.0,8.0M-92.0,-9.2L-92.0,9.2M-74.0,-10.4L-74.0,10.4M-56.0,-11.6L-56.0,11.6M-30.0,-13.3L-30.0,13.3M-8.0,-13.3L-8.0,13.3M18.0,-13.3L18.0,13.3M38.0,-11.2L38.0,11.2M62.0,-9.6L62.0,9.6M83.0,-8.2L83.0,8.2M-28.0,-4.0L60.0,-4.0M-28.0,4.0L60.0,4.0M-28.0,-2.6L40.0,-2.6M-28.0,2.6L40.0,2.6" fill="none" stroke="#4a4a4a" stroke-width="0.45"/>
<rect x="-4.2" y="-157.3" width="6.2" height="32" fill="#f8f8f8" stroke="#4a4a4a" stroke-width="0.4"/>
<circle cx="-1" cy="-141.3" r="8.2" fill="#1c1c1c"/>
<polygon points="2.91,-147.70 1.64,-142.40 6.30,-139.56 0.86,-139.12 -0.40,-133.82 -2.49,-138.85 -7.92,-138.42 -3.79,-141.96 -5.88,-146.99 -1.23,-144.16" fill="#f8f8f8"/>
<ellipse cx="-4" cy="-75" rx="7" ry="11" fill="none" stroke="#4a4a4a" stroke-width="0.5"/>
<circle cx="2" cy="-75" r="8.3" fill="#161616"/>
<circle cx="2" cy="-75" r="4.3" fill="#b8b8b8"/>
<ellipse cx="-4" cy="75" rx="7" ry="11" fill="none" stroke="#4a4a4a" stroke-width="0.5"/>
<circle cx="2" cy="75" r="8.3" fill="#161616"/>
<circle cx="2" cy="75" r="4.3" fill="#b8b8b8"/>
<path d="M4,-94.3 L22,-94.10000000000001 L22,-91.7 L4,-91.9Z" fill="#3a3a3a"/>
<ellipse cx="3.5" cy="-93.2" rx="3.4" ry="2.8" fill="#2c2c2c"/>
<path d="M4,-42.1 L22,-41.9 L22,-39.5 L4,-39.7Z" fill="#3a3a3a"/>
<ellipse cx="3.5" cy="-41" rx="3.4" ry="2.8" fill="#2c2c2c"/>
<path d="M4,37.699999999999996 L22,37.9 L22,40.3 L4,40.099999999999994Z" fill="#3a3a3a"/>
<ellipse cx="3.5" cy="38.8" rx="3.4" ry="2.8" fill="#2c2c2c"/>
<path d="M4,91.60000000000001 L22,91.8 L22,94.2 L4,94.0Z" fill="#3a3a3a"/>
<ellipse cx="3.5" cy="92.7" rx="3.4" ry="2.8" fill="#2c2c2c"/>
<rect x="-38" y="-4.8" width="66" height="2.8" fill="#b4b4b2" stroke="#4a4a4a" stroke-width="0.35"/>
<rect x="52" y="-5" width="14" height="3.6" fill="#b4b4b2" stroke="#4a4a4a" stroke-width="0.35"/>
<rect x="-38" y="2" width="66" height="2.8" fill="#b4b4b2" stroke="#4a4a4a" stroke-width="0.35"/>
<rect x="52" y="1.4" width="14" height="3.6" fill="#b4b4b2" stroke="#4a4a4a" stroke-width="0.35"/>
<path d="M-38,-8 L28,-8 M-38,8 L28,8 M-5,-12 L-5,12" fill="none" stroke="#4a4a4a" stroke-width="0.5"/>
<ellipse cx="-78" cy="0" rx="3.2" ry="1.2" fill="none" stroke="#4a4a4a" stroke-width="0.5"/>
<path d="M-108,-4 Q-122,-4 -124,0 Q-122,4 -108,4" fill="none" stroke="#4a4a4a" stroke-width="0.5"/>
<path d="M-52,-6 L-66,-5 M-52,6 L-66,5" fill="none" stroke="#4a4a4a" stroke-width="0.45"/>
<ellipse cx="8" cy="-19" rx="1.5" ry="0.9" fill="none" stroke="#4a4a4a" stroke-width="0.4"/>
<ellipse cx="3" cy="-19" rx="1.5" ry="0.9" fill="none" stroke="#4a4a4a" stroke-width="0.4"/>
<ellipse cx="-3" cy="-19" rx="1.5" ry="0.9" fill="none" stroke="#4a4a4a" stroke-width="0.4"/>
<ellipse cx="-9" cy="-19" rx="1.5" ry="0.9" fill="none" stroke="#4a4a4a" stroke-width="0.4"/>
<ellipse cx="8" cy="19" rx="1.5" ry="0.9" fill="none" stroke="#4a4a4a" stroke-width="0.4"/>
<ellipse cx="3" cy="19" rx="1.5" ry="0.9" fill="none" stroke="#4a4a4a" stroke-width="0.4"/>
<ellipse cx="-3" cy="19" rx="1.5" ry="0.9" fill="none" stroke="#4a4a4a" stroke-width="0.4"/>
<ellipse cx="-9" cy="19" rx="1.5" ry="0.9" fill="none" stroke="#4a4a4a" stroke-width="0.4"/>
<circle cx="-52" cy="0" r="4.6" fill="#eee" stroke="#4a4a4a" stroke-width="0.6"/>
<path d="M-54,-1.6L-62,-1.8M-54,1.6L-62,1.8" stroke="#111" stroke-width="0.9"/>
<path d="M62,-7 L88,-4.5 Q92,0 88,4 L62,6.5" fill="none" stroke="#4a4a4a" stroke-width="0.5"/>
<path d="M84,-5.2 L95,-3 Q97,0 95,3 L84,4.8 Z" fill="#f0f0f0" stroke="#4a4a4a" stroke-width="0.5"/>
</g>
<g transform="matrix(0.85536,-0.51803,0.51803,0.85536,638.55,513.95)" stroke-linejoin="round">
<path d="M94,-4.2L103.5,-5.8M94,2.6L103.3,3.6" stroke="#111" stroke-width="0.9" fill="none"/>
<path d="M-143,-3.6L-154.5,-3.4M-143,4.6L-154.2,5.6" stroke="#111" stroke-width="0.9" fill="none"/>
<path d="M-108,-46 L-108,46 L-138,45 Q-139.5,20 -138.5,8 L-138.5,-8 Q-139.5,-20 -138,-45 Z" fill="#51514e" stroke="#111" stroke-width="0.8"/>
<path d="M-141.5,-46.2 L-106.5,-46.2 L-106.5,-48.2 L-141.5,-48.2 Z" fill="#51514e" stroke="#222" stroke-width="0.6"/>
<path d="M-141.5,46.2 L-106.5,46.2 L-106.5,48.2 L-141.5,48.2 Z" fill="#51514e" stroke="#222" stroke-width="0.6"/>
<path d="M-138,-5.6 L-144,-5 Q-148,-3 -148,0.5 Q-148,4.5 -144,6 L-138,6.4 Z" fill="#e6e6e6" stroke="#222" stroke-width="0.6"/>
<path d="M18.0,-13 L4.5,-190 Q4.0,-197.5 -2,-198 Q-9.5,-197.5 -11.0,-192 L-30.0,-14 L-30.0,14 L-9.2,192 Q-7.7,197.5 -0.2,198 Q8.8,197.5 9.2,190 L18.0,13 Z" fill="#51514e" stroke="#111" stroke-width="0.85"/>
<path d="M5.0,-13.0L2.6,-101.0M-1.2,-13.0L-1.5,-101.0M-7.5,-13.0L-5.7,-101.0M1.7,-101.0L-0.2,-188.0M-6.3,-101.0L-4.2,-188.0M-15.6,-13.0L-11.8,-101.0M-11.8,-101.0L-7.8,-190.0M-27.6,-13.0L-19.1,-101.0M15.3,-13.0L2.2,-188.0M14.7,-56.0L-25.5,-56.0M11.3,-101.0L-20.7,-101.0M5.0,-184.0L-11.9,-184.0M17.1,-25.0L-15.1,-25.0M13.7,-70.0L-12.7,-70.0M9.5,-125.0L-10.4,-125.0M7.5,-150.0L-9.7,-150.0M-15.3,-19.5L-29.4,-19.5M-15.0,-26.0L-28.7,-26.0M-14.7,-32.5L-28.0,-32.5M-14.3,-39.0L-27.3,-39.0M-14.0,-45.5L-26.6,-45.5M-13.7,-52.0L-25.9,-52.0M-13.3,-58.5L-25.3,-58.5M-13.0,-65.0L-24.6,-65.0M-12.6,-71.5L-23.9,-71.5M-12.3,-78.0L-23.2,-78.0M-12.0,-84.5L-22.5,-84.5M-11.6,-91.0L-21.8,-91.0M-11.3,-97.5L-21.1,-97.5M-118.0,-8.0L-118.0,-45.5M-128.5,-8.0L-128.5,-45.5M-110.5,-8.0L-110.5,-45.5M-108.0,-27.0L-128.5,-27.0M5.0,13.0L4.6,101.0M-1.2,13.0L0.2,101.0M-7.5,13.0L-4.1,101.0M3.6,101.0L3.6,188.0M-4.8,101.0L-1.1,188.0M-15.6,13.0L-10.5,101.0M-10.5,101.0L-5.3,190.0M-27.6,13.0L-18.1,101.0M15.3,13.0L6.8,188.0M15.8,56.0L-25.1,56.0M13.6,101.0L-19.8,101.0M9.4,184.0L-10.1,184.0M17.4,25.0L-14.9,25.0M15.2,70.0L-11.9,70.0M12.4,125.0L-8.8,125.0M11.1,150.0L-7.8,150.0M-15.2,19.5L-29.4,19.5M-14.8,26.0L-28.6,26.0M-14.4,32.5L-27.8,32.5M-13.9,39.0L-27.1,39.0M-13.5,45.5L-26.3,45.5M-13.1,52.0L-25.6,52.0M-12.6,58.5L-24.8,58.5M-12.2,65.0L-24.0,65.0M-11.8,71.5L-23.3,71.5M-11.3,78.0L-22.5,78.0M-10.9,84.5L-21.8,84.5M-10.5,91.0L-21.0,91.0M-10.0,97.5L-20.2,97.5M-118.0,8.0L-118.0,45.5M-128.5,8.0L-128.5,45.5M-110.5,8.0L-110.5,45.5M-108.0,27.0L-128.5,27.0" fill="none" stroke="#222" stroke-width="0.5"/>
<path d="M-14.1,-104.0L-20.1,-104.0M-13.9,-107.4L-19.7,-107.4M-13.6,-110.8L-19.4,-110.8M-13.4,-114.2L-19.0,-114.2M-13.2,-117.6L-18.6,-117.6M-12.9,-121.0L-18.3,-121.0M-12.7,-124.4L-17.9,-124.4M-12.4,-127.8L-17.6,-127.8M-12.2,-131.2L-17.2,-131.2M-12.0,-134.6L-16.8,-134.6M-11.7,-138.0L-16.5,-138.0M-11.5,-141.4L-16.1,-141.4M-11.2,-144.8L-15.7,-144.8M-11.0,-148.2L-15.4,-148.2M-10.8,-151.6L-15.0,-151.6M-10.5,-155.0L-14.7,-155.0M-10.3,-158.4L-14.3,-158.4M-10.1,-161.8L-13.9,-161.8M-9.8,-165.2L-13.6,-165.2M-9.6,-168.6L-13.2,-168.6M-9.3,-172.0L-12.8,-172.0M-9.1,-175.4L-12.5,-175.4M-8.9,-178.8L-12.1,-178.8M-8.6,-182.2L-11.8,-182.2M-8.4,-185.6L-11.4,-185.6M-129.0,-10.5L-137.6,-10.5M-129.0,-13.8L-137.6,-13.8M-129.0,-17.1L-137.6,-17.1M-129.0,-20.4L-137.6,-20.4M-129.0,-23.7L-137.6,-23.7M-129.0,-27.0L-137.6,-27.0M-129.0,-30.3L-137.6,-30.3M-129.0,-33.6L-137.6,-33.6M-129.0,-36.9L-137.6,-36.9M-129.0,-40.2L-137.6,-40.2M-129.0,-43.5L-137.6,-43.5M-12.9,104.0L-19.2,104.0M-12.6,107.4L-18.8,107.4M-12.3,110.8L-18.4,110.8M-12.0,114.2L-18.0,114.2M-11.7,117.6L-17.6,117.6M-11.5,121.0L-17.2,121.0M-11.2,124.4L-16.8,124.4M-10.9,127.8L-16.4,127.8M-10.6,131.2L-16.0,131.2M-10.3,134.6L-15.6,134.6M-10.0,138.0L-15.2,138.0M-9.8,141.4L-14.8,141.4M-9.5,144.8L-14.4,144.8M-9.2,148.2L-14.0,148.2M-8.9,151.6L-13.6,151.6M-8.6,155.0L-13.2,155.0M-8.3,158.4L-12.8,158.4M-8.1,161.8L-12.4,161.8M-7.8,165.2L-12.0,165.2M-7.5,168.6L-11.6,168.6M-7.2,172.0L-11.2,172.0M-6.9,175.4L-10.8,175.4M-6.6,178.8L-10.4,178.8M-6.3,182.2L-10.0,182.2M-6.1,185.6L-9.6,185.6M-129.0,10.5L-137.6,10.5M-129.0,13.8L-137.6,13.8M-129.0,17.1L-137.6,17.1M-129.0,20.4L-137.6,20.4M-129.0,23.7L-137.6,23.7M-129.0,27.0L-137.6,27.0M-129.0,30.3L-137.6,30.3M-129.0,33.6L-137.6,33.6M-129.0,36.9L-137.6,36.9M-129.0,40.2L-137.6,40.2M-129.0,43.5L-137.6,43.5" fill="none" stroke="#222" stroke-width="0.55"/>
<path d="M18.0,-13 L4.5,-190 M18.0,13 L9.2,190" stroke="#0c0c0c" stroke-width="1.9" fill="none"/>
<path d="M-108,-45 L-108,-9 M-108,9 L-108,45" stroke="#0c0c0c" stroke-width="1.4" fill="none"/>
<path d="M9.2,-101.5 L31.3,-101.5 Q33.3,-101.5 33.3,-99.5 L33.3,-86.9 Q33.3,-84.9 31.3,-84.9 L10.5,-84.9 Z" fill="#51514e" stroke="#111" stroke-width="0.8"/>
<path d="M27.3,-101.5L27.3,-84.9M22.3,-101.5L22.3,-84.9M17.3,-101.5L17.3,-84.9M17.3,-96.2L33.3,-96.2M17.3,-90.2L33.3,-90.2" fill="none" stroke="#222" stroke-width="0.45"/>
<path d="M13.9,-100.5 L4.9,-93.2 L13.9,-85.9" fill="none" stroke="#222" stroke-width="0.5"/>
<path d="M35.8,-95.1 L39.3,-94.7 Q40.3,-93.8 39.3,-92.9 L35.8,-92.5Z" fill="#222" stroke="#222" stroke-width="0.4"/>
<circle cx="35.6" cy="-93.8" r="2.2" fill="#111"/>
<path d="M13.2,-49.3 L34.3,-49.3 Q36.3,-49.3 36.3,-47.3 L36.3,-34.7 Q36.3,-32.7 34.3,-32.7 L14.5,-32.7 Z" fill="#51514e" stroke="#111" stroke-width="0.8"/>
<path d="M30.3,-49.3L30.3,-32.7M25.3,-49.3L25.3,-32.7M20.3,-49.3L20.3,-32.7M20.3,-44.0L36.3,-44.0M20.3,-38.0L36.3,-38.0" fill="none" stroke="#222" stroke-width="0.45"/>
<path d="M17.9,-48.3 L8.9,-41.0 L17.9,-33.7" fill="none" stroke="#222" stroke-width="0.5"/>
<path d="M38.8,-42.9 L42.3,-42.5 Q43.3,-41.6 42.3,-40.7 L38.8,-40.3Z" fill="#222" stroke="#222" stroke-width="0.4"/>
<circle cx="38.6" cy="-41.6" r="2.2" fill="#111"/>
<path d="M15.1,30.5 L34.5,30.5 Q36.5,30.5 36.5,32.5 L36.5,45.1 Q36.5,47.1 34.5,47.1 L14.3,47.1 Z" fill="#51514e" stroke="#111" stroke-width="0.8"/>
<path d="M30.5,30.5L30.5,47.1M25.5,30.5L25.5,47.1M20.5,30.5L20.5,47.1M20.5,35.8L36.5,35.8M20.5,41.8L36.5,41.8" fill="none" stroke="#222" stroke-width="0.45"/>
<path d="M18.7,31.5 L9.7,38.8 L18.7,46.1" fill="none" stroke="#222" stroke-width="0.5"/>
<path d="M39.0,36.9 L42.5,37.3 Q43.5,38.2 42.5,39.1 L39.0,39.5Z" fill="#222" stroke="#222" stroke-width="0.4"/>
<circle cx="38.8" cy="38.2" r="2.2" fill="#111"/>
<path d="M12.4,84.4 L33.0,84.4 Q35.0,84.4 35.0,86.4 L35.0,99.0 Q35.0,101.0 33.0,101.0 L11.6,101.0 Z" fill="#51514e" stroke="#111" stroke-width="0.8"/>
<path d="M29.0,84.4L29.0,101.0M24.0,84.4L24.0,101.0M19.0,84.4L19.0,101.0M19.0,89.7L35.0,89.7M19.0,95.7L35.0,95.7" fill="none" stroke="#222" stroke-width="0.45"/>
<path d="M16.0,85.4 L7.0,92.7 L16.0,100.0" fill="none" stroke="#222" stroke-width="0.5"/>
<path d="M37.5,90.8 L41.0,91.2 Q42.0,92.1 41.0,93.0 L37.5,93.4Z" fill="#222" stroke="#222" stroke-width="0.4"/>
<circle cx="37.3" cy="92.1" r="2.2" fill="#111"/>
<path d="M-140,-6 L-110,-8 L-30,-13.3 L18,-12.6 L44,-12 L60,-10.8 L83,-8.2 L93,-6.6 Q97,-4 97,0 Q97,4 93,6.2 L83,7.2 L70,9 L57,10.2 L44,11 L18,12.6 L-30,13.3 L-110,8.6 L-140,6.6 Z" fill="#51514e" stroke="#111" stroke-width="0.85"/>
<path d="M-140.0,0.0L-30.0,0.0M-110.0,-4.0L-30.0,-7.0M-110.0,4.4L-30.0,7.0M-125.0,-7.0L-125.0,7.0M-110.0,-8.0L-110.0,8.0M-92.0,-9.2L-92.0,9.2M-74.0,-10.4L-74.0,10.4M-56.0,-11.6L-56.0,11.6M-30.0,-13.3L-30.0,13.3M-8.0,-13.3L-8.0,13.3M18.0,-13.3L18.0,13.3M38.0,-11.2L38.0,11.2M62.0,-9.6L62.0,9.6M83.0,-8.2L83.0,8.2M-30.0,-9.0L18.0,-9.0M-30.0,9.0L18.0,9.0" fill="none" stroke="#222" stroke-width="0.45"/>
<path d="M39.5,-9.8 L39.5,9.8 Q46,10.2 52,8.2 Q58.5,5 58.5,0 Q58.5,-5 52,-8.2 Q46,-10.2 39.5,-9.8 Z" fill="#f4f4f4" stroke="#111" stroke-width="0.8"/>
<path d="M42.5,-9.8L42.5,9.8M45.5,-9.9L45.5,9.9M48.5,-9.4L48.5,9.4M51.5,-8.4L51.5,8.4M54.5,-6.6L54.5,6.6M39.5,-6L55.2,-6M39.5,-3L57.6,-3M39.5,0L58.5,0M39.5,3L57.6,3M39.5,6L55.2,6" fill="none" stroke="#222" stroke-width="0.45"/>
<circle cx="26.5" cy="0" r="6.4" fill="#f8f8f8" stroke="#111" stroke-width="1"/>
<path d="M26,-2.2L14,-2.4M26,2.2L14,2.4" stroke="#111" stroke-width="1" fill="none"/>
<path d="M23,-4.5Q30,-4 30,0Q30,4 23,4.5" stroke="#111" stroke-width="0.8" fill="none"/>
<circle cx="75.8" cy="-0.6" r="2.9" fill="#fafafa" stroke="#222" stroke-width="0.5"/>
<path d="M85,-6.6 L93,-5.6 Q96,-3.5 96,0 Q96,3.5 93,5.4 L85,6 Z" fill="#f6f6f6" stroke="#222" stroke-width="0.5"/>
<rect x="-4.4" y="-157.8" width="6.4" height="33" fill="#f8f8f8" stroke="#222" stroke-width="0.4"/>
<circle cx="-1" cy="-141.3" r="8.4" fill="#1c1c1c"/>
<polygon points="2.99,-147.89 1.71,-142.44 6.50,-139.54 0.92,-139.07 -0.36,-133.63 -2.52,-138.78 -8.10,-138.32 -3.86,-141.97 -6.03,-147.13 -1.25,-144.23" fill="#f8f8f8"/>
</g>
<g transform="matrix(0.85896,-0.51204,0.51204,0.85896,876.50,513.95)" stroke-linejoin="round">
<path d="M94,-4.2L103.5,-5.8M94,2.6L103.3,3.6" stroke="#111" stroke-width="0.9" fill="none"/>
<path d="M-143,-3.6L-154.5,-3.4M-143,4.6L-154.2,5.6" stroke="#111" stroke-width="0.9" fill="none"/>
<path d="M-108,-46 L-108,46 L-138,45 Q-139.5,20 -138.5,8 L-138.5,-8 Q-139.5,-20 -138,-45 Z" fill="#aaaaa6" stroke="#262626" stroke-width="0.8"/>
<path d="M-141.5,-46.2 L-106.5,-46.2 L-106.5,-48.2 L-141.5,-48.2 Z" fill="#aaaaa6" stroke="#3c3c3c" stroke-width="0.6"/>
<path d="M-141.5,46.2 L-106.5,46.2 L-106.5,48.2 L-141.5,48.2 Z" fill="#aaaaa6" stroke="#3c3c3c" stroke-width="0.6"/>
<path d="M-138,-5.6 L-144,-5 Q-148,-3 -148,0.5 Q-148,4.5 -144,6 L-138,6.4 Z" fill="#e6e6e6" stroke="#3c3c3c" stroke-width="0.6"/>
<path d="M18.0,-13 L4.5,-190 Q4.0,-197.5 -2,-198 Q-9.5,-197.5 -11.0,-192 L-30.0,-14 L-30.0,14 L-9.2,192 Q-7.7,197.5 -0.2,198 Q8.8,197.5 9.2,190 L18.0,13 Z" fill="#aaaaa6" stroke="#262626" stroke-width="0.85"/>
<path d="M5.0,-13.0L2.6,-101.0M-1.2,-13.0L-1.5,-101.0M-7.5,-13.0L-5.7,-101.0M1.7,-101.0L-0.2,-188.0M-6.3,-101.0L-4.2,-188.0M-15.6,-13.0L-11.8,-101.0M-11.8,-101.0L-7.8,-190.0M-27.6,-13.0L-19.1,-101.0M15.3,-13.0L2.2,-188.0M14.7,-56.0L-25.5,-56.0M11.3,-101.0L-20.7,-101.0M5.0,-184.0L-11.9,-184.0M17.1,-25.0L-15.1,-25.0M13.7,-70.0L-12.7,-70.0M9.5,-125.0L-10.4,-125.0M7.5,-150.0L-9.7,-150.0M-15.3,-19.5L-29.4,-19.5M-15.0,-26.0L-28.7,-26.0M-14.7,-32.5L-28.0,-32.5M-14.3,-39.0L-27.3,-39.0M-14.0,-45.5L-26.6,-45.5M-13.7,-52.0L-25.9,-52.0M-13.3,-58.5L-25.3,-58.5M-13.0,-65.0L-24.6,-65.0M-12.6,-71.5L-23.9,-71.5M-12.3,-78.0L-23.2,-78.0M-12.0,-84.5L-22.5,-84.5M-11.6,-91.0L-21.8,-91.0M-11.3,-97.5L-21.1,-97.5M-118.0,-8.0L-118.0,-45.5M-128.5,-8.0L-128.5,-45.5M-110.5,-8.0L-110.5,-45.5M-108.0,-27.0L-128.5,-27.0M5.0,13.0L4.6,101.0M-1.2,13.0L0.2,101.0M-7.5,13.0L-4.1,101.0M3.6,101.0L3.6,188.0M-4.8,101.0L-1.1,188.0M-15.6,13.0L-10.5,101.0M-10.5,101.0L-5.3,190.0M-27.6,13.0L-18.1,101.0M15.3,13.0L6.8,188.0M15.8,56.0L-25.1,56.0M13.6,101.0L-19.8,101.0M9.4,184.0L-10.1,184.0M17.4,25.0L-14.9,25.0M15.2,70.0L-11.9,70.0M12.4,125.0L-8.8,125.0M11.1,150.0L-7.8,150.0M-15.2,19.5L-29.4,19.5M-14.8,26.0L-28.6,26.0M-14.4,32.5L-27.8,32.5M-13.9,39.0L-27.1,39.0M-13.5,45.5L-26.3,45.5M-13.1,52.0L-25.6,52.0M-12.6,58.5L-24.8,58.5M-12.2,65.0L-24.0,65.0M-11.8,71.5L-23.3,71.5M-11.3,78.0L-22.5,78.0M-10.9,84.5L-21.8,84.5M-10.5,91.0L-21.0,91.0M-10.0,97.5L-20.2,97.5M-118.0,8.0L-118.0,45.5M-128.5,8.0L-128.5,45.5M-110.5,8.0L-110.5,45.5M-108.0,27.0L-128.5,27.0" fill="none" stroke="#3c3c3c" stroke-width="0.5"/>
<path d="M-14.1,-104.0L-20.1,-104.0M-13.9,-107.4L-19.7,-107.4M-13.6,-110.8L-19.4,-110.8M-13.4,-114.2L-19.0,-114.2M-13.2,-117.6L-18.6,-117.6M-12.9,-121.0L-18.3,-121.0M-12.7,-124.4L-17.9,-124.4M-12.4,-127.8L-17.6,-127.8M-12.2,-131.2L-17.2,-131.2M-12.0,-134.6L-16.8,-134.6M-11.7,-138.0L-16.5,-138.0M-11.5,-141.4L-16.1,-141.4M-11.2,-144.8L-15.7,-144.8M-11.0,-148.2L-15.4,-148.2M-10.8,-151.6L-15.0,-151.6M-10.5,-155.0L-14.7,-155.0M-10.3,-158.4L-14.3,-158.4M-10.1,-161.8L-13.9,-161.8M-9.8,-165.2L-13.6,-165.2M-9.6,-168.6L-13.2,-168.6M-9.3,-172.0L-12.8,-172.0M-9.1,-175.4L-12.5,-175.4M-8.9,-178.8L-12.1,-178.8M-8.6,-182.2L-11.8,-182.2M-8.4,-185.6L-11.4,-185.6M-129.0,-10.5L-137.6,-10.5M-129.0,-13.8L-137.6,-13.8M-129.0,-17.1L-137.6,-17.1M-129.0,-20.4L-137.6,-20.4M-129.0,-23.7L-137.6,-23.7M-129.0,-27.0L-137.6,-27.0M-129.0,-30.3L-137.6,-30.3M-129.0,-33.6L-137.6,-33.6M-129.0,-36.9L-137.6,-36.9M-129.0,-40.2L-137.6,-40.2M-129.0,-43.5L-137.6,-43.5M-12.9,104.0L-19.2,104.0M-12.6,107.4L-18.8,107.4M-12.3,110.8L-18.4,110.8M-12.0,114.2L-18.0,114.2M-11.7,117.6L-17.6,117.6M-11.5,121.0L-17.2,121.0M-11.2,124.4L-16.8,124.4M-10.9,127.8L-16.4,127.8M-10.6,131.2L-16.0,131.2M-10.3,134.6L-15.6,134.6M-10.0,138.0L-15.2,138.0M-9.8,141.4L-14.8,141.4M-9.5,144.8L-14.4,144.8M-9.2,148.2L-14.0,148.2M-8.9,151.6L-13.6,151.6M-8.6,155.0L-13.2,155.0M-8.3,158.4L-12.8,158.4M-8.1,161.8L-12.4,161.8M-7.8,165.2L-12.0,165.2M-7.5,168.6L-11.6,168.6M-7.2,172.0L-11.2,172.0M-6.9,175.4L-10.8,175.4M-6.6,178.8L-10.4,178.8M-6.3,182.2L-10.0,182.2M-6.1,185.6L-9.6,185.6M-129.0,10.5L-137.6,10.5M-129.0,13.8L-137.6,13.8M-129.0,17.1L-137.6,17.1M-129.0,20.4L-137.6,20.4M-129.0,23.7L-137.6,23.7M-129.0,27.0L-137.6,27.0M-129.0,30.3L-137.6,30.3M-129.0,33.6L-137.6,33.6M-129.0,36.9L-137.6,36.9M-129.0,40.2L-137.6,40.2M-129.0,43.5L-137.6,43.5" fill="none" stroke="#3c3c3c" stroke-width="0.55"/>
<path d="M18.0,-13 L4.5,-190 M18.0,13 L9.2,190" stroke="#0c0c0c" stroke-width="1.9" fill="none"/>
<path d="M-108,-45 L-108,-9 M-108,9 L-108,45" stroke="#0c0c0c" stroke-width="1.4" fill="none"/>
<path d="M9.2,-101.5 L31.3,-101.5 Q33.3,-101.5 33.3,-99.5 L33.3,-86.9 Q33.3,-84.9 31.3,-84.9 L10.5,-84.9 Z" fill="#aaaaa6" stroke="#262626" stroke-width="0.8"/>
<path d="M27.3,-101.5L27.3,-84.9M22.3,-101.5L22.3,-84.9M17.3,-101.5L17.3,-84.9M17.3,-96.2L33.3,-96.2M17.3,-90.2L33.3,-90.2" fill="none" stroke="#3c3c3c" stroke-width="0.45"/>
<path d="M13.9,-100.5 L4.9,-93.2 L13.9,-85.9" fill="none" stroke="#3c3c3c" stroke-width="0.5"/>
<path d="M35.8,-95.1 L39.3,-94.7 Q40.3,-93.8 39.3,-92.9 L35.8,-92.5Z" fill="#222" stroke="#3c3c3c" stroke-width="0.4"/>
<circle cx="35.6" cy="-93.8" r="2.2" fill="#111"/>
<path d="M13.2,-49.3 L34.3,-49.3 Q36.3,-49.3 36.3,-47.3 L36.3,-34.7 Q36.3,-32.7 34.3,-32.7 L14.5,-32.7 Z" fill="#aaaaa6" stroke="#262626" stroke-width="0.8"/>
<path d="M30.3,-49.3L30.3,-32.7M25.3,-49.3L25.3,-32.7M20.3,-49.3L20.3,-32.7M20.3,-44.0L36.3,-44.0M20.3,-38.0L36.3,-38.0" fill="none" stroke="#3c3c3c" stroke-width="0.45"/>
<path d="M17.9,-48.3 L8.9,-41.0 L17.9,-33.7" fill="none" stroke="#3c3c3c" stroke-width="0.5"/>
<path d="M38.8,-42.9 L42.3,-42.5 Q43.3,-41.6 42.3,-40.7 L38.8,-40.3Z" fill="#222" stroke="#3c3c3c" stroke-width="0.4"/>
<circle cx="38.6" cy="-41.6" r="2.2" fill="#111"/>
<path d="M15.1,30.5 L34.5,30.5 Q36.5,30.5 36.5,32.5 L36.5,45.1 Q36.5,47.1 34.5,47.1 L14.3,47.1 Z" fill="#aaaaa6" stroke="#262626" stroke-width="0.8"/>
<path d="M30.5,30.5L30.5,47.1M25.5,30.5L25.5,47.1M20.5,30.5L20.5,47.1M20.5,35.8L36.5,35.8M20.5,41.8L36.5,41.8" fill="none" stroke="#3c3c3c" stroke-width="0.45"/>
<path d="M18.7,31.5 L9.7,38.8 L18.7,46.1" fill="none" stroke="#3c3c3c" stroke-width="0.5"/>
<path d="M39.0,36.9 L42.5,37.3 Q43.5,38.2 42.5,39.1 L39.0,39.5Z" fill="#222" stroke="#3c3c3c" stroke-width="0.4"/>
<circle cx="38.8" cy="38.2" r="2.2" fill="#111"/>
<path d="M12.4,84.4 L33.0,84.4 Q35.0,84.4 35.0,86.4 L35.0,99.0 Q35.0,101.0 33.0,101.0 L11.6,101.0 Z" fill="#aaaaa6" stroke="#262626" stroke-width="0.8"/>
<path d="M29.0,84.4L29.0,101.0M24.0,84.4L24.0,101.0M19.0,84.4L19.0,101.0M19.0,89.7L35.0,89.7M19.0,95.7L35.0,95.7" fill="none" stroke="#3c3c3c" stroke-width="0.45"/>
<path d="M16.0,85.4 L7.0,92.7 L16.0,100.0" fill="none" stroke="#3c3c3c" stroke-width="0.5"/>
<path d="M37.5,90.8 L41.0,91.2 Q42.0,92.1 41.0,93.0 L37.5,93.4Z" fill="#222" stroke="#3c3c3c" stroke-width="0.4"/>
<circle cx="37.3" cy="92.1" r="2.2" fill="#111"/>
<path d="M-140,-6 L-110,-8 L-30,-13.3 L18,-12.6 L44,-12 L60,-10.8 L83,-8.2 L93,-6.6 Q97,-4 97,0 Q97,4 93,6.2 L83,7.2 L70,9 L57,10.2 L44,11 L18,12.6 L-30,13.3 L-110,8.6 L-140,6.6 Z" fill="#aaaaa6" stroke="#262626" stroke-width="0.85"/>
<path d="M-110.0,-4.0L-30.0,-7.0M-110.0,4.4L-30.0,7.0M-125.0,-7.0L-125.0,7.0M-110.0,-8.0L-110.0,8.0M-92.0,-9.2L-92.0,9.2M-74.0,-10.4L-74.0,10.4M-56.0,-11.6L-56.0,11.6M-30.0,-13.3L-30.0,13.3M-8.0,-13.3L-8.0,13.3M18.0,-13.3L18.0,13.3M38.0,-11.2L38.0,11.2M62.0,-9.6L62.0,9.6M83.0,-8.2L83.0,8.2M-28.0,-4.0L60.0,-4.0M-28.0,4.0L60.0,4.0M-28.0,-2.6L40.0,-2.6M-28.0,2.6L40.0,2.6" fill="none" stroke="#3c3c3c" stroke-width="0.45"/>
<rect x="-4.2" y="-157.3" width="6.2" height="32" fill="#f8f8f8" stroke="#3c3c3c" stroke-width="0.4"/>
<circle cx="-1" cy="-141.3" r="8.2" fill="#1c1c1c"/>
<polygon points="2.84,-147.74 1.63,-142.43 6.31,-139.64 0.89,-139.14 -0.32,-133.83 -2.47,-138.84 -7.89,-138.35 -3.79,-141.93 -5.94,-146.94 -1.26,-144.15" fill="#f8f8f8"/>
<ellipse cx="-4" cy="-75" rx="7" ry="11" fill="none" stroke="#3c3c3c" stroke-width="0.5"/>
<circle cx="2" cy="-75" r="8.3" fill="#161616"/>
<circle cx="2" cy="-75" r="4.3" fill="#b8b8b8"/>
<ellipse cx="-4" cy="75" rx="7" ry="11" fill="none" stroke="#3c3c3c" stroke-width="0.5"/>
<circle cx="2" cy="75" r="8.3" fill="#161616"/>
<circle cx="2" cy="75" r="4.3" fill="#b8b8b8"/>
<path d="M4,-94.3 L22,-94.10000000000001 L22,-91.7 L4,-91.9Z" fill="#3a3a3a"/>
<ellipse cx="3.5" cy="-93.2" rx="3.4" ry="2.8" fill="#2c2c2c"/>
<path d="M4,-42.1 L22,-41.9 L22,-39.5 L4,-39.7Z" fill="#3a3a3a"/>
<ellipse cx="3.5" cy="-41" rx="3.4" ry="2.8" fill="#2c2c2c"/>
<path d="M4,37.699999999999996 L22,37.9 L22,40.3 L4,40.099999999999994Z" fill="#3a3a3a"/>
<ellipse cx="3.5" cy="38.8" rx="3.4" ry="2.8" fill="#2c2c2c"/>
<path d="M4,91.60000000000001 L22,91.8 L22,94.2 L4,94.0Z" fill="#3a3a3a"/>
<ellipse cx="3.5" cy="92.7" rx="3.4" ry="2.8" fill="#2c2c2c"/>
<rect x="-38" y="-4.8" width="66" height="2.8" fill="#8a8a88" stroke="#3c3c3c" stroke-width="0.35"/>
<rect x="52" y="-5" width="14" height="3.6" fill="#8a8a88" stroke="#3c3c3c" stroke-width="0.35"/>
<rect x="-38" y="2" width="66" height="2.8" fill="#8a8a88" stroke="#3c3c3c" stroke-width="0.35"/>
<rect x="52" y="1.4" width="14" height="3.6" fill="#8a8a88" stroke="#3c3c3c" stroke-width="0.35"/>
<path d="M-38,-8 L28,-8 M-38,8 L28,8 M-5,-12 L-5,12" fill="none" stroke="#3c3c3c" stroke-width="0.5"/>
<ellipse cx="-78" cy="0" rx="3.2" ry="1.2" fill="none" stroke="#3c3c3c" stroke-width="0.5"/>
<path d="M-108,-4 Q-122,-4 -124,0 Q-122,4 -108,4" fill="none" stroke="#3c3c3c" stroke-width="0.5"/>
<path d="M-52,-6 L-66,-5 M-52,6 L-66,5" fill="none" stroke="#3c3c3c" stroke-width="0.45"/>
<ellipse cx="8" cy="-19" rx="1.5" ry="0.9" fill="none" stroke="#3c3c3c" stroke-width="0.4"/>
<ellipse cx="3" cy="-19" rx="1.5" ry="0.9" fill="none" stroke="#3c3c3c" stroke-width="0.4"/>
<ellipse cx="-3" cy="-19" rx="1.5" ry="0.9" fill="none" stroke="#3c3c3c" stroke-width="0.4"/>
<ellipse cx="-9" cy="-19" rx="1.5" ry="0.9" fill="none" stroke="#3c3c3c" stroke-width="0.4"/>
<ellipse cx="8" cy="19" rx="1.5" ry="0.9" fill="none" stroke="#3c3c3c" stroke-width="0.4"/>
<ellipse cx="3" cy="19" rx="1.5" ry="0.9" fill="none" stroke="#3c3c3c" stroke-width="0.4"/>
<ellipse cx="-3" cy="19" rx="1.5" ry="0.9" fill="none" stroke="#3c3c3c" stroke-width="0.4"/>
<ellipse cx="-9" cy="19" rx="1.5" ry="0.9" fill="none" stroke="#3c3c3c" stroke-width="0.4"/>
<circle cx="-52" cy="0" r="4.6" fill="#eee" stroke="#3c3c3c" stroke-width="0.6"/>
<path d="M-54,-1.6L-62,-1.8M-54,1.6L-62,1.8" stroke="#111" stroke-width="0.9"/>
<path d="M62,-7 L88,-4.5 Q92,0 88,4 L62,6.5" fill="none" stroke="#3c3c3c" stroke-width="0.5"/>
<path d="M84,-5.2 L95,-3 Q97,0 95,3 L84,4.8 Z" fill="#f0f0f0" stroke="#3c3c3c" stroke-width="0.5"/>
</g>
<g transform="translate(0,0)" stroke-linejoin="round">
<line x1="56" y1="135.9" x2="72" y2="135.9" stroke="#111" stroke-width="1.4"/>
<line x1="475" y1="121.2" x2="486.5" y2="121.2" stroke="#111" stroke-width="1.1"/>
<line x1="325" y1="168.5" x2="338" y2="168.5" stroke="#111" stroke-width="1"/>
<path d="M304.4,166.5 A10.7,10.7 0 0 0 325.8,166.5 Z" fill="#e2e2e2" stroke="#4a4a4a" stroke-width="0.9"/>
<path d="M307.6,166 A7.5,7.5 0 0 0 322.6,166" fill="none" stroke="#4a4a4a" stroke-width="1.2"/>
<path d="M311.5,166 A3.6,3.6 0 0 0 318.7,166" fill="#333" stroke="none"/>
<rect x="286.4" y="104" width="5.6" height="4.8" fill="#d5d5d3" stroke="#4a4a4a" stroke-width="0.6"/>
<ellipse cx="289.2" cy="102.9" rx="6.1" ry="2" fill="#d5d5d3" stroke="#4a4a4a" stroke-width="0.7"/>
<path d="M174.8,110 L175.5,106 Q178,103.2 184,103.2 Q191,103.2 194,106 L194.3,109.5 Z" fill="#e8e8e8" stroke="#4a4a4a" stroke-width="0.7"/>
<line x1="184" y1="103.4" x2="185" y2="109.6" stroke="#4a4a4a" stroke-width="0.5"/>
<line x1="190" y1="108" x2="205" y2="108" stroke="#111" stroke-width="1"/>
<path d="M96.6,122.8 Q98,118.2 102,118 Q106,118.2 107.4,122.4" fill="#eee" stroke="#4a4a4a" stroke-width="0.5"/>
<path d="M92.3,125.5 L97,123 L115,121.8 L134.2,121.5 L136.5,119 L140.2,114.5 L145.2,112.3 L155,111.3 L161,110.8 L175,110 L200,109 L290,108.6 L408,108.6 L462,109 Q467,107.8 471,109.5 L474,112.5 L475.5,120 L475.5,128 L472.2,131.4 L462.3,134.8 L445,139.5 L426.5,144.2 L405,151 L385,156.6 L355,160.2 L329,163.8 L303,167.8 L285,169.1 L200,170 L155,169.1 L117.6,166.5 L92.3,165.6 Z" fill="#d5d5d3" stroke="#333" stroke-width="0.9"/>
<path d="M69,135 L70,128 L72.5,124.8 L78,123.4 L85,123.2 L89.6,124.6 L92.3,126 L92.3,153 L78,152 L71,149 L69.3,142 Z" fill="#c6c6c4" stroke="#333" stroke-width="0.85"/>
<path d="M72,126.5 L78,124.2 L85,124 L88.5,125.5 L86.5,139 L80,139 L80,134.5 L77,134 L76,129 L73,129 Z" fill="#ededed" stroke="#4a4a4a" stroke-width="0.4"/>
<line x1="71" y1="142.5" x2="92" y2="143.2" stroke="#4a4a4a" stroke-width="0.5"/>
<rect x="73" y="146" width="4" height="3" fill="none" stroke="#4a4a4a" stroke-width="0.4"/>
<rect x="81" y="146.5" width="4" height="3.2" fill="#999" stroke="#4a4a4a" stroke-width="0.4"/>
<path d="M78,152.3 L92.3,165.6 L92.3,152.8 Z" fill="#f2f2f2" stroke="#4a4a4a" stroke-width="0.6"/>
<path d="M197.5,127.3 C198,120.5 206,117 216,117.4 C240,118.5 262,125.5 280.2,131 C262,135 240,136.4 227.6,135.8 C211,135.2 198,133.4 197.5,127.3 Z" fill="#fafafa" stroke="#4a4a4a" stroke-width="0.7"/>
<path d="M137.2,120.3 L140.6,115 L145.4,112.9 L148,112.6 L144,120.6 Z" fill="#f0f0f0" stroke="#4a4a4a" stroke-width="0.5"/>
<path d="M145.2,120.6 L149.2,112.6 L158,112 L157,120.8 Z" fill="#f0f0f0" stroke="#4a4a4a" stroke-width="0.5"/>
<path d="M158.4,120.8 L159.2,112 L161.5,112.4 L160.6,120.4 Z" fill="#f0f0f0" stroke="#4a4a4a" stroke-width="0.5"/>
<path d="M92.3,125.5L92.3,165.6M205,114.5L408,114.5M169.5,110.2L169.5,168.8M136,121.5L170,121.5M187.5,137L187.5,170M170,137L292,137M190,156.6L293,156.6M190,161.2L293,161.2M204.3,137L204.3,156.6M205.8,137L205.8,156.6M226.1,137L226.1,156.6M238.9,137L238.9,156.6M241.9,137L241.9,156.6M250.9,137L250.9,156.6M252.4,137L252.4,156.6M264.4,137L264.4,156.6M279.4,137L279.4,156.6M240.4,156.6L240.4,170M293.7,108.6L293.7,168.4M252.4,108.6L252.4,122M252.4,122.8L293.7,122.8M194,109L194,137M194,122L200,122M340.1,108.6L340.1,114.5M362.4,114.5L362.4,153M362.4,127.8L408,127.8M362.4,139.8L409,139.8M329.6,137.8L329.6,163.8M293.7,150.5L362,150.5M362.4,149.6L426.5,143.6M336.4,119.5L336.4,137.6M339.8,119.5L339.8,137.6M336.4,119.5L339.8,119.5M293.7,159L330,155M426.5,144.2L426.5,139M462.3,134.8L462.3,109M92.3,138.6L103,138.6M92.3,158L125,158.8M125,142L125,166.9M103,128L103,146M155.2,121.5L155.2,168.9M92.3,131L136,130.5" fill="none" stroke="#4a4a4a" stroke-width="0.55"/>
<rect x="373.2" y="143.8" width="23.3" height="6.4" fill="none" stroke="#4a4a4a" stroke-width="0.6" transform="rotate(-8 385 147)"/>
<rect x="170.5" y="125.2" width="8" height="5.6" fill="none" stroke="#4a4a4a" stroke-width="0.5"/>
<rect x="171.8" y="126.3" width="5.6" height="3.4" fill="#f6f6f6" stroke="#4a4a4a" stroke-width="0.3"/>
<rect x="306.3" y="122.8" width="12.5" height="9.1" fill="none" stroke="#4a4a4a" stroke-width="0.6"/>
<rect x="308.6" y="125.2" width="8.2" height="4.8" fill="#f6f6f6" stroke="#4a4a4a" stroke-width="0.3"/>
<rect x="340.9" y="120.7" width="20.3" height="14.6" rx="2.5" fill="none" stroke="#4a4a4a" stroke-width="0.6"/>
<rect x="342.6" y="122.4" width="17" height="11.2" rx="2.2" fill="none" stroke="#4a4a4a" stroke-width="0.35"/>
<rect x="346.9" y="126.6" width="8.3" height="3.4" rx="0.8" fill="#f6f6f6" stroke="#4a4a4a" stroke-width="0.3"/>
<rect x="104.9" y="131" width="4.2" height="7.6" fill="#f4f4f4" stroke="#4a4a4a" stroke-width="0.3"/>
<path d="M464.8,110 Q467.5,108.6 471,110 L472.4,116.6 L465,116.6 Z" fill="#f0f0f0" stroke="#4a4a4a" stroke-width="0.4"/>
<path d="M96,156.5 L99,151 L101,152 L103,147.5 L105,150.5 L107,145.5 L110,148.5 L113,144 L116,146.5 L119,142.5 L122,143.5 L126,141 L128.5,146.5 L124,153 L112,157.6 L103,160 Z" fill="#141414"/>
<path d="M152,127 L158,126.5 L163,130 L168,137 L172,144 L176.5,151.5 L169,153 L164,156 L157,157.6 L156,148 L155,138 L158,134 L157,129.5 Z" fill="#141414"/>
<path d="M128,134.5 L140,132.6 L146,134 L146.5,140 L140,139 L134,141.5 L128,140 Z" fill="#2a2a2a"/>
<path d="M126,158.4 L150,159.8 L160,158.6 L166,156 L150,157.4 Z" fill="#141414"/>
<polygon points="109.4,130 144,126.3 145,130.5 109.4,133.8" fill="#141414"/>
<text x="113.5" y="131.9" font-size="3.2" font-weight="bold" fill="#f2f2f2" textLength="28" lengthAdjust="spacingAndGlyphs" transform="rotate(-6 113.5 131.9)">COCKTAIL HOUR</text>
<path d="M101.5,160.2 L104,158 L121.5,154.5 L131,142 L135,140.4 L138.5,143 L146,155 L153,158 L150.5,159.6 L143.5,158 L134,147.2 L127.5,156.2 L108,160.6 Z" fill="#dcdcdc" stroke="#222" stroke-width="0.4"/>
<path d="M146.5,131.5 L151.5,128 L155.5,130.5 L154,138 L157.5,149 L156.5,157 L149,158 L145,148.5 L146.8,140 Z" fill="#d6d6d6" stroke="#222" stroke-width="0.4"/>
<path d="M147,150 L156,149 L157,157 L149,158.4 Z" fill="#f0f0f0" stroke="#333" stroke-width="0.3"/>
<path d="M147,134 L140,131.6 L138.5,133.4 L146.5,137.4 Z" fill="#e4e4e4" stroke="#222" stroke-width="0.3"/>
<path d="M148.5,127 L152,124.2 L160,125.4 L161.5,128 L157.5,129.6 L158.5,134.5 L156,137 L154.5,131 L150.5,129 Z" fill="#101010"/>
<path d="M120.7,144.4 Q123.4,142.8 126,144.4 L126,151 L124.6,151 L124.6,146.6 L122.2,146.6 L122.2,151 L120.7,151 Z" fill="#f4f4f4"/>
<ellipse cx="128" cy="136.6" rx="4.6" ry="1.5" fill="#e8e8e8" stroke="#222" stroke-width="0.3"/>
<path d="M104.6,141.2 l-2.6,1.2 l2.8,0.2 z" fill="#111"/>
<text x="150.5" y="143.8" font-size="2.6" fill="#555" textLength="6" lengthAdjust="spacingAndGlyphs">YES</text>
<rect x="299" y="137.8" width="48.2" height="7.7" fill="#f8f8f8" stroke="#222" stroke-width="0.8"/>
<circle cx="323.3" cy="141.8" r="11.4" fill="#1c1c1c"/>
<polygon points="323.30,131.20 325.68,138.52 333.38,138.52 327.15,143.05 329.53,150.38 323.30,145.85 317.07,150.38 319.45,143.05 313.22,138.52 320.92,138.52" fill="#f8f8f8"/>
<clipPath id="fc283"><path d="M408.6,105.6 C408.6,82.0 418.2,69.9 436.7,69.9 C455.2,69.9 464.8,82.0 464.8,105.6 C464.8,129.2 455.2,141.3 436.7,141.3 C418.2,141.3 408.6,129.2 408.6,105.6Z"/></clipPath>
<path d="M408.6,105.6 C408.6,82.0 418.2,69.9 436.7,69.9 C455.2,69.9 464.8,82.0 464.8,105.6 C464.8,129.2 455.2,141.3 436.7,141.3 C418.2,141.3 408.6,129.2 408.6,105.6Z" fill="#d5d5d3" stroke="#4a4a4a" stroke-width="0.8"/>
<g clip-path="url(#fc283)">
<path d="M410.8,105.6 C410.8,83.5 419.6,72.1 436.7,72.1 C453.8,72.1 462.6,83.5 462.6,105.6 C462.6,127.7 453.8,139.1 436.7,139.1 C419.6,139.1 410.8,127.7 410.8,105.6Z" fill="none" stroke="#4a4a4a" stroke-width="0.45"/>
<path d="M417.1,105.6 C417.1,87.6 423.8,78.4 436.7,78.4 C449.6,78.4 456.3,87.6 456.3,105.6 C456.3,123.6 449.6,132.8 436.7,132.8 C423.8,132.8 417.1,123.6 417.1,105.6Z" fill="none" stroke="#4a4a4a" stroke-width="0.45"/>
<path d="M461.5,118.6L455.9,115.7M460.7,122.2L455.4,118.5M459.5,125.8L454.5,121.4M457.7,129.3L453.3,124.3M455.2,132.5L451.5,127.1M452.2,135.1L449.2,129.4M448.6,137.1L446.4,131.3M444.8,138.3L443.3,132.4M440.7,138.8L440.0,132.9M436.7,138.9L436.7,133.0M432.7,138.8L433.4,132.9M428.6,138.3L430.1,132.4M424.8,137.1L427.0,131.3M421.2,135.1L424.2,129.4M418.2,132.5L421.9,127.1M415.7,129.3L420.1,124.3M413.9,125.8L418.9,121.4M412.7,122.2L418.0,118.5M411.9,118.6L417.5,115.7M411.9,92.6L417.5,95.5M412.7,89.0L418.0,92.7M413.9,85.4L418.9,89.8M415.7,81.9L420.1,86.9M418.2,78.7L421.9,84.1M421.2,76.1L424.2,81.8M424.8,74.1L427.0,79.9M428.6,72.9L430.1,78.8M432.7,72.4L433.4,78.3M436.7,72.3L436.7,78.2M440.7,72.4L440.0,78.3M444.8,72.9L443.3,78.8M448.6,74.1L446.4,79.9M452.2,76.1L449.2,81.8M455.2,78.7L451.5,84.1M457.7,81.9L453.3,86.9M459.5,85.4L454.5,89.8M460.7,89.0L455.4,92.7M461.5,92.6L455.9,95.5" fill="none" stroke="#4a4a4a" stroke-width="0.65"/>
<path d="M416.1,80.1L457.3,80.1M416.1,88.6L457.3,88.6M416.1,97.1L457.3,97.1M416.1,105.6L457.3,105.6M416.1,114.1L457.3,114.1M416.1,122.6L457.3,122.6M416.1,131.1L457.3,131.1M434.7,69.9L434.7,141.3" fill="none" stroke="#4a4a4a" stroke-width="0.3" opacity="0.6"/>
<rect x="448.3" y="69.9" width="17.5" height="71.4" fill="#f6f6f6"/>
<rect x="448.3" y="71.1" width="17.5" height="5.4" fill="#161616"/>
<rect x="448.3" y="81.3" width="17.5" height="5.4" fill="#161616"/>
<rect x="448.3" y="91.5" width="17.5" height="5.4" fill="#161616"/>
<rect x="448.3" y="101.7" width="17.5" height="5.4" fill="#161616"/>
<rect x="448.3" y="111.9" width="17.5" height="5.4" fill="#161616"/>
<rect x="448.3" y="122.1" width="17.5" height="5.4" fill="#161616"/>
<rect x="448.3" y="132.3" width="17.5" height="5.4" fill="#161616"/>
<rect x="443.3" y="69.9" width="5.0" height="71.4" fill="#161616"/>
<polygon points="413.5,78.5 419.3,76.0 440.8,139.7 435.9,141.4" fill="#161616"/>
</g>
<path d="M408.6,105.6 C408.6,82.0 418.2,69.9 436.7,69.9 C455.2,69.9 464.8,82.0 464.8,105.6 C464.8,129.2 455.2,141.3 436.7,141.3 C418.2,141.3 408.6,129.2 408.6,105.6Z" fill="none" stroke="#333" stroke-width="0.95"/>
</g>
<g transform="translate(500,152.6) scale(-1,1)" stroke-linejoin="round">
<line x1="56" y1="135.9" x2="72" y2="135.9" stroke="#111" stroke-width="1.4"/>
<line x1="475" y1="121.2" x2="486.5" y2="121.2" stroke="#111" stroke-width="1.1"/>
<line x1="325" y1="168.5" x2="338" y2="168.5" stroke="#111" stroke-width="1"/>
<path d="M304.4,166.5 A10.7,10.7 0 0 0 325.8,166.5 Z" fill="#e2e2e2" stroke="#4a4a4a" stroke-width="0.9"/>
<path d="M307.6,166 A7.5,7.5 0 0 0 322.6,166" fill="none" stroke="#4a4a4a" stroke-width="1.2"/>
<path d="M311.5,166 A3.6,3.6 0 0 0 318.7,166" fill="#333" stroke="none"/>
<rect x="286.4" y="104" width="5.6" height="4.8" fill="#d5d5d3" stroke="#4a4a4a" stroke-width="0.6"/>
<ellipse cx="289.2" cy="102.9" rx="6.1" ry="2" fill="#d5d5d3" stroke="#4a4a4a" stroke-width="0.7"/>
<path d="M174.8,110 L175.5,106 Q178,103.2 184,103.2 Q191,103.2 194,106 L194.3,109.5 Z" fill="#e8e8e8" stroke="#4a4a4a" stroke-width="0.7"/>
<line x1="184" y1="103.4" x2="185" y2="109.6" stroke="#4a4a4a" stroke-width="0.5"/>
<line x1="190" y1="108" x2="205" y2="108" stroke="#111" stroke-width="1"/>
<path d="M96.6,122.8 Q98,118.2 102,118 Q106,118.2 107.4,122.4" fill="#eee" stroke="#4a4a4a" stroke-width="0.5"/>
<path d="M92.3,125.5 L97,123 L115,121.8 L134.2,121.5 L136.5,119 L140.2,114.5 L145.2,112.3 L155,111.3 L161,110.8 L175,110 L200,109 L290,108.6 L408,108.6 L462,109 Q467,107.8 471,109.5 L474,112.5 L475.5,120 L475.5,128 L472.2,131.4 L462.3,134.8 L445,139.5 L426.5,144.2 L405,151 L385,156.6 L355,160.2 L329,163.8 L303,167.8 L285,169.1 L200,170 L155,169.1 L117.6,166.5 L92.3,165.6 Z" fill="#d5d5d3" stroke="#333" stroke-width="0.9"/>
<path d="M69,135 L70,128 L72.5,124.8 L78,123.4 L85,123.2 L89.6,124.6 L92.3,126 L92.3,153 L78,152 L71,149 L69.3,142 Z" fill="#c6c6c4" stroke="#333" stroke-width="0.85"/>
<path d="M72,126.5 L78,124.2 L85,124 L88.5,125.5 L86.5,139 L80,139 L80,134.5 L77,134 L76,129 L73,129 Z" fill="#ededed" stroke="#4a4a4a" stroke-width="0.4"/>
<line x1="71" y1="142.5" x2="92" y2="143.2" stroke="#4a4a4a" stroke-width="0.5"/>
<rect x="73" y="146" width="4" height="3" fill="none" stroke="#4a4a4a" stroke-width="0.4"/>
<rect x="81" y="146.5" width="4" height="3.2" fill="#999" stroke="#4a4a4a" stroke-width="0.4"/>
<path d="M78,152.3 L92.3,165.6 L92.3,152.8 Z" fill="#f2f2f2" stroke="#4a4a4a" stroke-width="0.6"/>
<path d="M197.5,127.3 C198,120.5 206,117 216,117.4 C240,118.5 262,125.5 280.2,131 C262,135 240,136.4 227.6,135.8 C211,135.2 198,133.4 197.5,127.3 Z" fill="#fafafa" stroke="#4a4a4a" stroke-width="0.7"/>
<path d="M137.2,120.3 L140.6,115 L145.4,112.9 L148,112.6 L144,120.6 Z" fill="#f0f0f0" stroke="#4a4a4a" stroke-width="0.5"/>
<path d="M145.2,120.6 L149.2,112.6 L158,112 L157,120.8 Z" fill="#f0f0f0" stroke="#4a4a4a" stroke-width="0.5"/>
<path d="M158.4,120.8 L159.2,112 L161.5,112.4 L160.6,120.4 Z" fill="#f0f0f0" stroke="#4a4a4a" stroke-width="0.5"/>
<path d="M92.3,125.5L92.3,165.6M205,114.5L408,114.5M169.5,110.2L169.5,168.8M136,121.5L170,121.5M187.5,137L187.5,170M170,137L292,137M190,156.6L293,156.6M190,161.2L293,161.2M204.3,137L204.3,156.6M205.8,137L205.8,156.6M226.1,137L226.1,156.6M238.9,137L238.9,156.6M241.9,137L241.9,156.6M250.9,137L250.9,156.6M252.4,137L252.4,156.6M264.4,137L264.4,156.6M279.4,137L279.4,156.6M240.4,156.6L240.4,170M293.7,108.6L293.7,168.4M252.4,108.6L252.4,122M252.4,122.8L293.7,122.8M194,109L194,137M194,122L200,122M340.1,108.6L340.1,114.5M362.4,114.5L362.4,153M362.4,127.8L408,127.8M362.4,139.8L409,139.8M329.6,137.8L329.6,163.8M293.7,150.5L362,150.5M362.4,149.6L426.5,143.6M336.4,119.5L336.4,137.6M339.8,119.5L339.8,137.6M336.4,119.5L339.8,119.5M293.7,159L330,155M426.5,144.2L426.5,139M462.3,134.8L462.3,109M92.3,138.6L103,138.6M92.3,158L125,158.8M125,142L125,166.9M103,128L103,146M155.2,121.5L155.2,168.9M92.3,131L136,130.5" fill="none" stroke="#4a4a4a" stroke-width="0.55"/>
<rect x="373.2" y="143.8" width="23.3" height="6.4" fill="none" stroke="#4a4a4a" stroke-width="0.6" transform="rotate(-8 385 147)"/>
<rect x="170.5" y="125.2" width="8" height="5.6" fill="none" stroke="#4a4a4a" stroke-width="0.5"/>
<rect x="171.8" y="126.3" width="5.6" height="3.4" fill="#f6f6f6" stroke="#4a4a4a" stroke-width="0.3"/>
<rect x="306.3" y="122.8" width="12.5" height="9.1" fill="none" stroke="#4a4a4a" stroke-width="0.6"/>
<rect x="308.6" y="125.2" width="8.2" height="4.8" fill="#f6f6f6" stroke="#4a4a4a" stroke-width="0.3"/>
<rect x="340.9" y="120.7" width="20.3" height="14.6" rx="2.5" fill="none" stroke="#4a4a4a" stroke-width="0.6"/>
<rect x="342.6" y="122.4" width="17" height="11.2" rx="2.2" fill="none" stroke="#4a4a4a" stroke-width="0.35"/>
<rect x="346.9" y="126.6" width="8.3" height="3.4" rx="0.8" fill="#f6f6f6" stroke="#4a4a4a" stroke-width="0.3"/>
<rect x="104.9" y="131" width="4.2" height="7.6" fill="#f4f4f4" stroke="#4a4a4a" stroke-width="0.3"/>
<path d="M464.8,110 Q467.5,108.6 471,110 L472.4,116.6 L465,116.6 Z" fill="#f0f0f0" stroke="#4a4a4a" stroke-width="0.4"/>
<rect x="299" y="137.8" width="48.2" height="7.7" fill="#f8f8f8" stroke="#222" stroke-width="0.8"/>
<circle cx="323.3" cy="141.8" r="11.4" fill="#1c1c1c"/>
<polygon points="323.30,131.20 325.68,138.52 333.38,138.52 327.15,143.05 329.53,150.38 323.30,145.85 317.07,150.38 319.45,143.05 313.22,138.52 320.92,138.52" fill="#f8f8f8"/>
<clipPath id="fc341"><path d="M408.6,105.6 C408.6,82.0 418.2,69.9 436.7,69.9 C455.2,69.9 464.8,82.0 464.8,105.6 C464.8,129.2 455.2,141.3 436.7,141.3 C418.2,141.3 408.6,129.2 408.6,105.6Z"/></clipPath>
<path d="M408.6,105.6 C408.6,82.0 418.2,69.9 436.7,69.9 C455.2,69.9 464.8,82.0 464.8,105.6 C464.8,129.2 455.2,141.3 436.7,141.3 C418.2,141.3 408.6,129.2 408.6,105.6Z" fill="#d5d5d3" stroke="#4a4a4a" stroke-width="0.8"/>
<g clip-path="url(#fc341)">
<path d="M410.8,105.6 C410.8,83.5 419.6,72.1 436.7,72.1 C453.8,72.1 462.6,83.5 462.6,105.6 C462.6,127.7 453.8,139.1 436.7,139.1 C419.6,139.1 410.8,127.7 410.8,105.6Z" fill="none" stroke="#4a4a4a" stroke-width="0.45"/>
<path d="M417.1,105.6 C417.1,87.6 423.8,78.4 436.7,78.4 C449.6,78.4 456.3,87.6 456.3,105.6 C456.3,123.6 449.6,132.8 436.7,132.8 C423.8,132.8 417.1,123.6 417.1,105.6Z" fill="none" stroke="#4a4a4a" stroke-width="0.45"/>
<path d="M461.5,118.6L455.9,115.7M460.7,122.2L455.4,118.5M459.5,125.8L454.5,121.4M457.7,129.3L453.3,124.3M455.2,132.5L451.5,127.1M452.2,135.1L449.2,129.4M448.6,137.1L446.4,131.3M444.8,138.3L443.3,132.4M440.7,138.8L440.0,132.9M436.7,138.9L436.7,133.0M432.7,138.8L433.4,132.9M428.6,138.3L430.1,132.4M424.8,137.1L427.0,131.3M421.2,135.1L424.2,129.4M418.2,132.5L421.9,127.1M415.7,129.3L420.1,124.3M413.9,125.8L418.9,121.4M412.7,122.2L418.0,118.5M411.9,118.6L417.5,115.7M411.9,92.6L417.5,95.5M412.7,89.0L418.0,92.7M413.9,85.4L418.9,89.8M415.7,81.9L420.1,86.9M418.2,78.7L421.9,84.1M421.2,76.1L424.2,81.8M424.8,74.1L427.0,79.9M428.6,72.9L430.1,78.8M432.7,72.4L433.4,78.3M436.7,72.3L436.7,78.2M440.7,72.4L440.0,78.3M444.8,72.9L443.3,78.8M448.6,74.1L446.4,79.9M452.2,76.1L449.2,81.8M455.2,78.7L451.5,84.1M457.7,81.9L453.3,86.9M459.5,85.4L454.5,89.8M460.7,89.0L455.4,92.7M461.5,92.6L455.9,95.5" fill="none" stroke="#4a4a4a" stroke-width="0.65"/>
<path d="M416.1,80.1L457.3,80.1M416.1,88.6L457.3,88.6M416.1,97.1L457.3,97.1M416.1,105.6L457.3,105.6M416.1,114.1L457.3,114.1M416.1,122.6L457.3,122.6M416.1,131.1L457.3,131.1M434.7,69.9L434.7,141.3" fill="none" stroke="#4a4a4a" stroke-width="0.3" opacity="0.6"/>
<rect x="448.3" y="69.9" width="17.5" height="71.4" fill="#f6f6f6"/>
<rect x="448.3" y="71.1" width="17.5" height="5.4" fill="#161616"/>
<rect x="448.3" y="81.3" width="17.5" height="5.4" fill="#161616"/>
<rect x="448.3" y="91.5" width="17.5" height="5.4" fill="#161616"/>
<rect x="448.3" y="101.7" width="17.5" height="5.4" fill="#161616"/>
<rect x="448.3" y="111.9" width="17.5" height="5.4" fill="#161616"/>
<rect x="448.3" y="122.1" width="17.5" height="5.4" fill="#161616"/>
<rect x="448.3" y="132.3" width="17.5" height="5.4" fill="#161616"/>
<rect x="443.3" y="69.9" width="5.0" height="71.4" fill="#161616"/>
<polygon points="413.5,78.5 419.3,76.0 440.8,139.7 435.9,141.4" fill="#161616"/>
</g>
<path d="M408.6,105.6 C408.6,82.0 418.2,69.9 436.7,69.9 C455.2,69.9 464.8,82.0 464.8,105.6 C464.8,129.2 455.2,141.3 436.7,141.3 C418.2,141.3 408.6,129.2 408.6,105.6Z" fill="none" stroke="#333" stroke-width="0.95"/>
</g>
<g transform="translate(1.5,346)" stroke-linejoin="round">
<line x1="58.7" y1="135.9" x2="72" y2="135.9" stroke="#111" stroke-width="1.4"/>
<line x1="475" y1="121.2" x2="486.5" y2="121.2" stroke="#111" stroke-width="1.1"/>
<line x1="325" y1="168.5" x2="338" y2="168.5" stroke="#111" stroke-width="1"/>
<path d="M304.4,166.5 A10.7,10.7 0 0 0 325.8,166.5 Z" fill="#8a8a8a" stroke="#222" stroke-width="0.9"/>
<path d="M307.6,166 A7.5,7.5 0 0 0 322.6,166" fill="none" stroke="#222" stroke-width="1.2"/>
<path d="M311.5,166 A3.6,3.6 0 0 0 318.7,166" fill="#333" stroke="none"/>
<rect x="286.4" y="104" width="5.6" height="4.8" fill="#51514e" stroke="#222" stroke-width="0.6"/>
<ellipse cx="289.2" cy="102.9" rx="6.1" ry="2" fill="#51514e" stroke="#222" stroke-width="0.7"/>
<path d="M174.8,110 L175.5,106 Q178,103.2 184,103.2 Q191,103.2 194,106 L194.3,109.5 Z" fill="#e8e8e8" stroke="#222" stroke-width="0.7"/>
<line x1="184" y1="103.4" x2="185" y2="109.6" stroke="#222" stroke-width="0.5"/>
<line x1="190" y1="108" x2="205" y2="108" stroke="#111" stroke-width="1"/>
<path d="M96.6,122.8 Q98,118.2 102,118 Q106,118.2 107.4,122.4" fill="#eee" stroke="#222" stroke-width="0.5"/>
<path d="M92.3,125.5 L97,123 L115,121.8 L134.2,121.5 L136.5,119 L140.2,114.5 L145.2,112.3 L155,111.3 L161,110.8 L175,110 L200,109 L290,108.6 L408,108.6 L462,109 Q467,107.8 471,109.5 L474,112.5 L475.5,120 L475.5,128 L472.2,131.4 L462.3,134.8 L445,139.5 L426.5,144.2 L405,151 L385,156.6 L355,160.2 L329,163.8 L303,167.8 L285,169.1 L200,170 L155,169.1 L117.6,166.5 L92.3,165.6 Z" fill="#51514e" stroke="#141414" stroke-width="0.9"/>
<path d="M92.3,153.5 Q100,157 108,156.5 T124,158.8 T142,160.5 T160,159.5 T180,161.8 T200,160.5 T220,161.8 T240,160.5 T262,161.5 T285,160 Q300,158.5 312,157 T340,153.5 T365,150 T390,146.5 T410,142 T430,137.5 T450,133 L462,130.5 L472.2,131.4 L462.3,134.8 L445,139.5 L426.5,144.2 L405,151 L385,156.6 L355,160.2 L329,163.8 L303,167.8 L285,169.1 L200,170 L155,169.1 L117.6,166.5 L92.3,165.6 Z" fill="#969694" stroke="none"/>
<path d="M92.3,125.5 L97,123 L115,121.8 L134.2,121.5 L136.5,119 L140.2,114.5 L145.2,112.3 L155,111.3 L161,110.8 L175,110 L200,109 L290,108.6 L408,108.6 L462,109 Q467,107.8 471,109.5 L474,112.5 L475.5,120 L475.5,128 L472.2,131.4 L462.3,134.8 L445,139.5 L426.5,144.2 L405,151 L385,156.6 L355,160.2 L329,163.8 L303,167.8 L285,169.1 L200,170 L155,169.1 L117.6,166.5 L92.3,165.6 Z" fill="none" stroke="#141414" stroke-width="0.9"/>
<g transform="translate(92.3,0) scale(0.93,1) translate(-92.3,0)">
<path d="M69,135 L70,128 L72.5,124.8 L78,123.4 L85,123.2 L89.6,124.6 L92.3,126 L92.3,153 L78,152 L71,149 L69.3,142 Z" fill="#f4f4f4" stroke="#141414" stroke-width="0.85"/>
<path d="M69.3,142 L92.3,143 L92.3,153 L78,152 L71,149 Z" fill="#3e3e3c" stroke="#141414" stroke-width="0.6"/>
<path d="M88.6,124.6 L92.3,126 L92.3,143 L88,143 Z" fill="#4a4a48"/>
<path d="M71.6,133 L73.5,131.5 L79,131.5 L79,143 L70.5,142.6 Z" fill="#444"/>
<path d="M73.5,131.5 Q75,125.2 81,125.2 Q87,125.6 87.2,131 L87,142.6" fill="none" stroke="#222" stroke-width="0.7"/>
<rect x="81" y="135.6" width="5" height="3" fill="#cfcfcf" stroke="#999" stroke-width="0.3"/>
</g>
<line x1="71" y1="142.5" x2="92" y2="143.2" stroke="#222" stroke-width="0.5"/>
<rect x="73" y="146" width="4" height="3" fill="none" stroke="#222" stroke-width="0.4"/>
<rect x="81" y="146.5" width="4" height="3.2" fill="#333" stroke="#222" stroke-width="0.4"/>
<path d="M78,152.3 L92.3,165.6 L92.3,152.8 Z" fill="#f2f2f2" stroke="#222" stroke-width="0.6"/>
<path d="M197.5,127.3 C198,120.5 206,117 216,117.4 C240,118.5 262,125.5 280.2,131 C262,135 240,136.4 227.6,135.8 C211,135.2 198,133.4 197.5,127.3 Z" fill="#fafafa" stroke="#222" stroke-width="0.7"/>
<path d="M137.2,120.3 L140.6,115 L145.4,112.9 L148,112.6 L144,120.6 Z" fill="#f0f0f0" stroke="#222" stroke-width="0.5"/>
<path d="M145.2,120.6 L149.2,112.6 L158,112 L157,120.8 Z" fill="#f0f0f0" stroke="#222" stroke-width="0.5"/>
<path d="M158.4,120.8 L159.2,112 L161.5,112.4 L160.6,120.4 Z" fill="#f0f0f0" stroke="#222" stroke-width="0.5"/>
<path d="M92.3,125.5L92.3,165.6M205,114.5L408,114.5M169.5,110.2L169.5,168.8M136,121.5L170,121.5M187.5,137L187.5,170M170,137L292,137M190,156.6L293,156.6M190,161.2L293,161.2M204.3,137L204.3,156.6M205.8,137L205.8,156.6M226.1,137L226.1,156.6M238.9,137L238.9,156.6M241.9,137L241.9,156.6M250.9,137L250.9,156.6M252.4,137L252.4,156.6M264.4,137L264.4,156.6M279.4,137L279.4,156.6M240.4,156.6L240.4,170M293.7,108.6L293.7,168.4M252.4,108.6L252.4,122M252.4,122.8L293.7,122.8M194,109L194,137M194,122L200,122M340.1,108.6L340.1,114.5M362.4,114.5L362.4,153M362.4,127.8L408,127.8M362.4,139.8L409,139.8M329.6,137.8L329.6,163.8M293.7,150.5L362,150.5M362.4,149.6L426.5,143.6M336.4,119.5L336.4,137.6M339.8,119.5L339.8,137.6M336.4,119.5L339.8,119.5M293.7,159L330,155M426.5,144.2L426.5,139M462.3,134.8L462.3,109M92.3,138.6L103,138.6M92.3,158L125,158.8M125,142L125,166.9M103,128L103,146M155.2,121.5L155.2,168.9M92.3,131L136,130.5" fill="none" stroke="#222" stroke-width="0.55"/>
<rect x="373.2" y="143.8" width="23.3" height="6.4" fill="none" stroke="#222" stroke-width="0.6" transform="rotate(-8 385 147)"/>
<rect x="375.5" y="145.6" width="8" height="2.8" fill="#f0f0f0" transform="rotate(-8 385 147)"/>
<rect x="386" y="145.6" width="8" height="2.8" fill="#f0f0f0" transform="rotate(-8 385 147)"/>
<rect x="170.5" y="125.2" width="8" height="5.6" fill="none" stroke="#222" stroke-width="0.5"/>
<rect x="171.8" y="126.3" width="5.6" height="3.4" fill="#f6f6f6" stroke="#222" stroke-width="0.3"/>
<rect x="306.3" y="122.8" width="12.5" height="9.1" fill="none" stroke="#222" stroke-width="0.6"/>
<rect x="308.6" y="125.2" width="8.2" height="4.8" fill="#f6f6f6" stroke="#222" stroke-width="0.3"/>
<rect x="340.9" y="120.7" width="20.3" height="14.6" rx="2.5" fill="none" stroke="#222" stroke-width="0.6"/>
<rect x="342.6" y="122.4" width="17" height="11.2" rx="2.2" fill="none" stroke="#222" stroke-width="0.35"/>
<rect x="346.9" y="126.6" width="8.3" height="3.4" rx="0.8" fill="#f6f6f6" stroke="#222" stroke-width="0.3"/>
<rect x="104.9" y="131" width="4.2" height="7.6" fill="#f4f4f4" stroke="#222" stroke-width="0.3"/>
<path d="M464.8,110 Q467.5,108.6 471,110 L472.4,116.6 L465,116.6 Z" fill="#f0f0f0" stroke="#222" stroke-width="0.4"/>
<path d="M127.5,135.8 L147,135.8 L147,151 Q146.5,156.5 137.2,158 Q128,156.5 127.5,151 Z" fill="#f2f2f2" stroke="#222" stroke-width="0.5"/>
<path d="M131,152.5 L133.5,146 L132.5,143 L135.5,140.2 L139,140 L142,142.5 L141,146.5 L144,152.5 L140,151 L137.5,153.5 L135,151 Z" fill="#2a2a2a"/>
<path d="M130.5,138.4 L144,138.4 M131.5,155 Q137,156.6 143,155" stroke="#555" stroke-width="0.6" fill="none"/>
<path d="M102,143.2 h24 M102,146.2 h24 M102,149.2 h6" stroke="#b4b4b4" stroke-width="1.3" stroke-dasharray="1.4 0.6" fill="none"/>
<rect x="93.5" y="159" width="8" height="5.3" fill="#ededed" stroke="#333" stroke-width="0.3"/>
<rect x="299" y="137.8" width="48.2" height="7.7" fill="#f8f8f8" stroke="#222" stroke-width="0.8"/>
<circle cx="323.3" cy="141.8" r="11.4" fill="#1c1c1c"/>
<polygon points="323.30,131.20 325.68,138.52 333.38,138.52 327.15,143.05 329.53,150.38 323.30,145.85 317.07,150.38 319.45,143.05 313.22,138.52 320.92,138.52" fill="#f8f8f8"/>
<clipPath id="fc414"><path d="M408.6,105.6 C408.6,82.0 418.2,69.9 436.7,69.9 C455.2,69.9 464.8,82.0 464.8,105.6 C464.8,129.2 455.2,141.3 436.7,141.3 C418.2,141.3 408.6,129.2 408.6,105.6Z"/></clipPath>
<path d="M408.6,105.6 C408.6,82.0 418.2,69.9 436.7,69.9 C455.2,69.9 464.8,82.0 464.8,105.6 C464.8,129.2 455.2,141.3 436.7,141.3 C418.2,141.3 408.6,129.2 408.6,105.6Z" fill="#51514e" stroke="#222" stroke-width="0.8"/>
<g clip-path="url(#fc414)">
<path d="M410.8,105.6 C410.8,83.5 419.6,72.1 436.7,72.1 C453.8,72.1 462.6,83.5 462.6,105.6 C462.6,127.7 453.8,139.1 436.7,139.1 C419.6,139.1 410.8,127.7 410.8,105.6Z" fill="none" stroke="#222" stroke-width="0.45"/>
<path d="M417.1,105.6 C417.1,87.6 423.8,78.4 436.7,78.4 C449.6,78.4 456.3,87.6 456.3,105.6 C456.3,123.6 449.6,132.8 436.7,132.8 C423.8,132.8 417.1,123.6 417.1,105.6Z" fill="none" stroke="#222" stroke-width="0.45"/>
<path d="M461.5,118.6L455.9,115.7M460.7,122.2L455.4,118.5M459.5,125.8L454.5,121.4M457.7,129.3L453.3,124.3M455.2,132.5L451.5,127.1M452.2,135.1L449.2,129.4M448.6,137.1L446.4,131.3M444.8,138.3L443.3,132.4M440.7,138.8L440.0,132.9M436.7,138.9L436.7,133.0M432.7,138.8L433.4,132.9M428.6,138.3L430.1,132.4M424.8,137.1L427.0,131.3M421.2,135.1L424.2,129.4M418.2,132.5L421.9,127.1M415.7,129.3L420.1,124.3M413.9,125.8L418.9,121.4M412.7,122.2L418.0,118.5M411.9,118.6L417.5,115.7M411.9,92.6L417.5,95.5M412.7,89.0L418.0,92.7M413.9,85.4L418.9,89.8M415.7,81.9L420.1,86.9M418.2,78.7L421.9,84.1M421.2,76.1L424.2,81.8M424.8,74.1L427.0,79.9M428.6,72.9L430.1,78.8M432.7,72.4L433.4,78.3M436.7,72.3L436.7,78.2M440.7,72.4L440.0,78.3M444.8,72.9L443.3,78.8M448.6,74.1L446.4,79.9M452.2,76.1L449.2,81.8M455.2,78.7L451.5,84.1M457.7,81.9L453.3,86.9M459.5,85.4L454.5,89.8M460.7,89.0L455.4,92.7M461.5,92.6L455.9,95.5" fill="none" stroke="#222" stroke-width="0.65"/>
<path d="M416.1,80.1L457.3,80.1M416.1,88.6L457.3,88.6M416.1,97.1L457.3,97.1M416.1,105.6L457.3,105.6M416.1,114.1L457.3,114.1M416.1,122.6L457.3,122.6M416.1,131.1L457.3,131.1M434.7,69.9L434.7,141.3" fill="none" stroke="#222" stroke-width="0.3" opacity="0.6"/>
<path d="M443.3,77.9L464.8,77.9M443.3,84.9L464.8,84.9M443.3,91.9L464.8,91.9M443.3,98.9L464.8,98.9M443.3,105.9L464.8,105.9M443.3,112.9L464.8,112.9M443.3,119.9L464.8,119.9M443.3,126.9L464.8,126.9M443.3,133.9L464.8,133.9M443.3,69.9L443.3,141.3" fill="none" stroke="#1c1c1c" stroke-width="0.9"/>
<rect x="407.6" y="94.7" width="35.9" height="18.7" fill="#f6f6f6"/>
</g>
<path d="M408.6,105.6 C408.6,82.0 418.2,69.9 436.7,69.9 C455.2,69.9 464.8,82.0 464.8,105.6 C464.8,129.2 455.2,141.3 436.7,141.3 C418.2,141.3 408.6,129.2 408.6,105.6Z" fill="none" stroke="#141414" stroke-width="0.95"/>
</g>
<g transform="translate(500.5,494) scale(-1,1)" stroke-linejoin="round">
<line x1="58.7" y1="135.9" x2="72" y2="135.9" stroke="#111" stroke-width="1.4"/>
<line x1="475" y1="121.2" x2="486.5" y2="121.2" stroke="#111" stroke-width="1.1"/>
<line x1="325" y1="168.5" x2="338" y2="168.5" stroke="#111" stroke-width="1"/>
<path d="M304.4,166.5 A10.7,10.7 0 0 0 325.8,166.5 Z" fill="#8a8a8a" stroke="#222" stroke-width="0.9"/>
<path d="M307.6,166 A7.5,7.5 0 0 0 322.6,166" fill="none" stroke="#222" stroke-width="1.2"/>
<path d="M311.5,166 A3.6,3.6 0 0 0 318.7,166" fill="#333" stroke="none"/>
<rect x="286.4" y="104" width="5.6" height="4.8" fill="#51514e" stroke="#222" stroke-width="0.6"/>
<ellipse cx="289.2" cy="102.9" rx="6.1" ry="2" fill="#51514e" stroke="#222" stroke-width="0.7"/>
<path d="M174.8,110 L175.5,106 Q178,103.2 184,103.2 Q191,103.2 194,106 L194.3,109.5 Z" fill="#e8e8e8" stroke="#222" stroke-width="0.7"/>
<line x1="184" y1="103.4" x2="185" y2="109.6" stroke="#222" stroke-width="0.5"/>
<line x1="190" y1="108" x2="205" y2="108" stroke="#111" stroke-width="1"/>
<path d="M96.6,122.8 Q98,118.2 102,118 Q106,118.2 107.4,122.4" fill="#eee" stroke="#222" stroke-width="0.5"/>
<path d="M92.3,125.5 L97,123 L115,121.8 L134.2,121.5 L136.5,119 L140.2,114.5 L145.2,112.3 L155,111.3 L161,110.8 L175,110 L200,109 L290,108.6 L408,108.6 L462,109 Q467,107.8 471,109.5 L474,112.5 L475.5,120 L475.5,128 L472.2,131.4 L462.3,134.8 L445,139.5 L426.5,144.2 L405,151 L385,156.6 L355,160.2 L329,163.8 L303,167.8 L285,169.1 L200,170 L155,169.1 L117.6,166.5 L92.3,165.6 Z" fill="#51514e" stroke="#141414" stroke-width="0.9"/>
<path d="M92.3,153.5 Q100,157 108,156.5 T124,158.8 T142,160.5 T160,159.5 T180,161.8 T200,160.5 T220,161.8 T240,160.5 T262,161.5 T285,160 Q300,158.5 312,157 T340,153.5 T365,150 T390,146.5 T410,142 T430,137.5 T450,133 L462,130.5 L472.2,131.4 L462.3,134.8 L445,139.5 L426.5,144.2 L405,151 L385,156.6 L355,160.2 L329,163.8 L303,167.8 L285,169.1 L200,170 L155,169.1 L117.6,166.5 L92.3,165.6 Z" fill="#969694" stroke="none"/>
<path d="M92.3,125.5 L97,123 L115,121.8 L134.2,121.5 L136.5,119 L140.2,114.5 L145.2,112.3 L155,111.3 L161,110.8 L175,110 L200,109 L290,108.6 L408,108.6 L462,109 Q467,107.8 471,109.5 L474,112.5 L475.5,120 L475.5,128 L472.2,131.4 L462.3,134.8 L445,139.5 L426.5,144.2 L405,151 L385,156.6 L355,160.2 L329,163.8 L303,167.8 L285,169.1 L200,170 L155,169.1 L117.6,166.5 L92.3,165.6 Z" fill="none" stroke="#141414" stroke-width="0.9"/>
<g transform="translate(92.3,0) scale(0.93,1) translate(-92.3,0)">
<path d="M69,135 L70,128 L72.5,124.8 L78,123.4 L85,123.2 L89.6,124.6 L92.3,126 L92.3,153 L78,152 L71,149 L69.3,142 Z" fill="#f4f4f4" stroke="#141414" stroke-width="0.85"/>
<path d="M69.3,142 L92.3,143 L92.3,153 L78,152 L71,149 Z" fill="#3e3e3c" stroke="#141414" stroke-width="0.6"/>
<path d="M88.6,124.6 L92.3,126 L92.3,143 L88,143 Z" fill="#4a4a48"/>
<path d="M71.6,133 L73.5,131.5 L79,131.5 L79,143 L70.5,142.6 Z" fill="#444"/>
<path d="M73.5,131.5 Q75,125.2 81,125.2 Q87,125.6 87.2,131 L87,142.6" fill="none" stroke="#222" stroke-width="0.7"/>
<rect x="81" y="135.6" width="5" height="3" fill="#cfcfcf" stroke="#999" stroke-width="0.3"/>
</g>
<line x1="71" y1="142.5" x2="92" y2="143.2" stroke="#222" stroke-width="0.5"/>
<rect x="73" y="146" width="4" height="3" fill="none" stroke="#222" stroke-width="0.4"/>
<rect x="81" y="146.5" width="4" height="3.2" fill="#333" stroke="#222" stroke-width="0.4"/>
<path d="M78,152.3 L92.3,165.6 L92.3,152.8 Z" fill="#f2f2f2" stroke="#222" stroke-width="0.6"/>
<path d="M197.5,127.3 C198,120.5 206,117 216,117.4 C240,118.5 262,125.5 280.2,131 C262,135 240,136.4 227.6,135.8 C211,135.2 198,133.4 197.5,127.3 Z" fill="#fafafa" stroke="#222" stroke-width="0.7"/>
<path d="M137.2,120.3 L140.6,115 L145.4,112.9 L148,112.6 L144,120.6 Z" fill="#f0f0f0" stroke="#222" stroke-width="0.5"/>
<path d="M145.2,120.6 L149.2,112.6 L158,112 L157,120.8 Z" fill="#f0f0f0" stroke="#222" stroke-width="0.5"/>
<path d="M158.4,120.8 L159.2,112 L161.5,112.4 L160.6,120.4 Z" fill="#f0f0f0" stroke="#222" stroke-width="0.5"/>
<path d="M92.3,125.5L92.3,165.6M205,114.5L408,114.5M169.5,110.2L169.5,168.8M136,121.5L170,121.5M187.5,137L187.5,170M170,137L292,137M190,156.6L293,156.6M190,161.2L293,161.2M204.3,137L204.3,156.6M205.8,137L205.8,156.6M226.1,137L226.1,156.6M238.9,137L238.9,156.6M241.9,137L241.9,156.6M250.9,137L250.9,156.6M252.4,137L252.4,156.6M264.4,137L264.4,156.6M279.4,137L279.4,156.6M240.4,156.6L240.4,170M293.7,108.6L293.7,168.4M252.4,108.6L252.4,122M252.4,122.8L293.7,122.8M194,109L194,137M194,122L200,122M340.1,108.6L340.1,114.5M362.4,114.5L362.4,153M362.4,127.8L408,127.8M362.4,139.8L409,139.8M329.6,137.8L329.6,163.8M293.7,150.5L362,150.5M362.4,149.6L426.5,143.6M336.4,119.5L336.4,137.6M339.8,119.5L339.8,137.6M336.4,119.5L339.8,119.5M293.7,159L330,155M426.5,144.2L426.5,139M462.3,134.8L462.3,109M92.3,138.6L103,138.6M92.3,158L125,158.8M125,142L125,166.9M103,128L103,146M155.2,121.5L155.2,168.9M92.3,131L136,130.5" fill="none" stroke="#222" stroke-width="0.55"/>
<rect x="373.2" y="143.8" width="23.3" height="6.4" fill="none" stroke="#222" stroke-width="0.6" transform="rotate(-8 385 147)"/>
<rect x="375.5" y="145.6" width="8" height="2.8" fill="#f0f0f0" transform="rotate(-8 385 147)"/>
<rect x="386" y="145.6" width="8" height="2.8" fill="#f0f0f0" transform="rotate(-8 385 147)"/>
<rect x="170.5" y="125.2" width="8" height="5.6" fill="none" stroke="#222" stroke-width="0.5"/>
<rect x="171.8" y="126.3" width="5.6" height="3.4" fill="#f6f6f6" stroke="#222" stroke-width="0.3"/>
<rect x="306.3" y="122.8" width="12.5" height="9.1" fill="none" stroke="#222" stroke-width="0.6"/>
<rect x="308.6" y="125.2" width="8.2" height="4.8" fill="#f6f6f6" stroke="#222" stroke-width="0.3"/>
<rect x="340.9" y="120.7" width="20.3" height="14.6" rx="2.5" fill="none" stroke="#222" stroke-width="0.6"/>
<rect x="342.6" y="122.4" width="17" height="11.2" rx="2.2" fill="none" stroke="#222" stroke-width="0.35"/>
<rect x="346.9" y="126.6" width="8.3" height="3.4" rx="0.8" fill="#f6f6f6" stroke="#222" stroke-width="0.3"/>
<rect x="104.9" y="131" width="4.2" height="7.6" fill="#f4f4f4" stroke="#222" stroke-width="0.3"/>
<path d="M464.8,110 Q467.5,108.6 471,110 L472.4,116.6 L465,116.6 Z" fill="#f0f0f0" stroke="#222" stroke-width="0.4"/>
<rect x="93.5" y="159" width="8" height="5.3" fill="#ededed" stroke="#333" stroke-width="0.3"/>
<rect x="299" y="137.8" width="48.2" height="7.7" fill="#f8f8f8" stroke="#222" stroke-width="0.8"/>
<circle cx="323.3" cy="141.8" r="11.4" fill="#1c1c1c"/>
<polygon points="323.30,131.20 325.68,138.52 333.38,138.52 327.15,143.05 329.53,150.38 323.30,145.85 317.07,150.38 319.45,143.05 313.22,138.52 320.92,138.52" fill="#f8f8f8"/>
<clipPath id="fc475"><path d="M408.6,105.6 C408.6,82.0 418.2,69.9 436.7,69.9 C455.2,69.9 464.8,82.0 464.8,105.6 C464.8,129.2 455.2,141.3 436.7,141.3 C418.2,141.3 408.6,129.2 408.6,105.6Z"/></clipPath>
<path d="M408.6,105.6 C408.6,82.0 418.2,69.9 436.7,69.9 C455.2,69.9 464.8,82.0 464.8,105.6 C464.8,129.2 455.2,141.3 436.7,141.3 C418.2,141.3 408.6,129.2 408.6,105.6Z" fill="#51514e" stroke="#222" stroke-width="0.8"/>
<g clip-path="url(#fc475)">
<path d="M410.8,105.6 C410.8,83.5 419.6,72.1 436.7,72.1 C453.8,72.1 462.6,83.5 462.6,105.6 C462.6,127.7 453.8,139.1 436.7,139.1 C419.6,139.1 410.8,127.7 410.8,105.6Z" fill="none" stroke="#222" stroke-width="0.45"/>
<path d="M417.1,105.6 C417.1,87.6 423.8,78.4 436.7,78.4 C449.6,78.4 456.3,87.6 456.3,105.6 C456.3,123.6 449.6,132.8 436.7,132.8 C423.8,132.8 417.1,123.6 417.1,105.6Z" fill="none" stroke="#222" stroke-width="0.45"/>
<path d="M461.5,118.6L455.9,115.7M460.7,122.2L455.4,118.5M459.5,125.8L454.5,121.4M457.7,129.3L453.3,124.3M455.2,132.5L451.5,127.1M452.2,135.1L449.2,129.4M448.6,137.1L446.4,131.3M444.8,138.3L443.3,132.4M440.7,138.8L440.0,132.9M436.7,138.9L436.7,133.0M432.7,138.8L433.4,132.9M428.6,138.3L430.1,132.4M424.8,137.1L427.0,131.3M421.2,135.1L424.2,129.4M418.2,132.5L421.9,127.1M415.7,129.3L420.1,124.3M413.9,125.8L418.9,121.4M412.7,122.2L418.0,118.5M411.9,118.6L417.5,115.7M411.9,92.6L417.5,95.5M412.7,89.0L418.0,92.7M413.9,85.4L418.9,89.8M415.7,81.9L420.1,86.9M418.2,78.7L421.9,84.1M421.2,76.1L424.2,81.8M424.8,74.1L427.0,79.9M428.6,72.9L430.1,78.8M432.7,72.4L433.4,78.3M436.7,72.3L436.7,78.2M440.7,72.4L440.0,78.3M444.8,72.9L443.3,78.8M448.6,74.1L446.4,79.9M452.2,76.1L449.2,81.8M455.2,78.7L451.5,84.1M457.7,81.9L453.3,86.9M459.5,85.4L454.5,89.8M460.7,89.0L455.4,92.7M461.5,92.6L455.9,95.5" fill="none" stroke="#222" stroke-width="0.65"/>
<path d="M416.1,80.1L457.3,80.1M416.1,88.6L457.3,88.6M416.1,97.1L457.3,97.1M416.1,105.6L457.3,105.6M416.1,114.1L457.3,114.1M416.1,122.6L457.3,122.6M416.1,131.1L457.3,131.1M434.7,69.9L434.7,141.3" fill="none" stroke="#222" stroke-width="0.3" opacity="0.6"/>
<path d="M443.3,77.9L464.8,77.9M443.3,84.9L464.8,84.9M443.3,91.9L464.8,91.9M443.3,98.9L464.8,98.9M443.3,105.9L464.8,105.9M443.3,112.9L464.8,112.9M443.3,119.9L464.8,119.9M443.3,126.9L464.8,126.9M443.3,133.9L464.8,133.9M443.3,69.9L443.3,141.3" fill="none" stroke="#1c1c1c" stroke-width="0.9"/>
<rect x="407.6" y="94.7" width="35.9" height="18.7" fill="#f6f6f6"/>
</g>
<path d="M408.6,105.6 C408.6,82.0 418.2,69.9 436.7,69.9 C455.2,69.9 464.8,82.0 464.8,105.6 C464.8,129.2 455.2,141.3 436.7,141.3 C418.2,141.3 408.6,129.2 408.6,105.6Z" fill="none" stroke="#141414" stroke-width="0.95"/>
</g>
<g transform="translate(0,0)" stroke-linejoin="round">
<path d="M223.2,75.2 C224.5,71 227.5,69 231,67.4 C234,64.5 237,62 240.1,60.8 C243,59.8 245.5,59.9 248,60.2 C254,60.8 260,62.2 266.2,64.1 C278,68.5 289,75.5 300,82.3 L268.8,84.2 L268.8,82.3 C262,82.6 255,82.6 248,82.3 C241,82 236,81.5 231,80.4 C227.5,79.5 224.5,78 223.2,75.2 Z" fill="#fcfcfc" stroke="#8a8a8a" stroke-width="0.45"/>
<clipPath id="wc489"><path d="M190.8,67.4 L231,67.4 C227.5,69 224.5,71 223.2,75.2 C224.5,78 227.5,79.5 231,80.4 C236,81.5 241,82 248,82.3 C255,82.6 262,82.6 268.8,82.3 C268.6,84.5 267.6,86.2 266.2,87.5 C260,89.5 254,90.6 248,91.5 L246,92.8 L190.8,92.8 Q187.8,92.8 187.8,89.8 L187.8,70.4 Q187.8,67.4 190.8,67.4 Z"/></clipPath>
<path d="M190.8,67.4 L231,67.4 C227.5,69 224.5,71 223.2,75.2 C224.5,78 227.5,79.5 231,80.4 C236,81.5 241,82 248,82.3 C255,82.6 262,82.6 268.8,82.3 C268.6,84.5 267.6,86.2 266.2,87.5 C260,89.5 254,90.6 248,91.5 L246,92.8 L190.8,92.8 Q187.8,92.8 187.8,89.8 L187.8,70.4 Q187.8,67.4 190.8,67.4 Z" fill="#d5d5d3" stroke="#4a4a4a" stroke-width="0.7"/>
<path d="M193.9,67.4L193.9,92.8M201.7,67.4L201.7,92.8M206.9,67.4L206.9,92.8M216.7,67.4L216.7,92.8M226.5,67.4L226.5,92.8M248,67.4L248,92.8M193.9,81.6L248,81.6M206.9,70.9L226.5,70.9" fill="none" stroke="#4a4a4a" stroke-width="0.5" clip-path="url(#wc489)"/>
<rect x="236.2" y="91.3" width="11.3" height="2.4" rx="1" fill="#222"/>
<rect x="176.3" y="77.5" width="5" height="5.1" rx="1" fill="#cfcfcf" stroke="#4a4a4a" stroke-width="0.4"/>
<polygon points="180.9,80.0 182.7,76.5 186.6,76.5 188.4,80.0 186.6,83.6 182.7,83.6" fill="#151515"/>
</g>
<g transform="translate(0,0)" stroke-linejoin="round">
<path d="M332.1,52.3 C333.2,49 335,47.4 337,46.3 C338.5,44.3 339.8,43.2 341.2,42.5 C345,41.4 349,41.4 353.2,41.8 C360,42.6 367,43.8 374.2,45.6 C384,50 394,57 402.8,63.6 L357.5,66.9 L362,64 C366,61.5 367.3,58.5 367.5,56.1 C359,57.5 351,57.8 344.2,57.6 C339,57.4 335.5,56.8 333.7,55.3 C332.6,54.4 332.1,53.4 332.1,52.3 Z" fill="#fcfcfc" stroke="#8a8a8a" stroke-width="0.45"/>
<clipPath id="wc498"><path d="M297.3,46.3 L337,46.3 C335,47.4 333.2,49 332.1,52.3 C332.1,53.4 332.6,54.4 333.7,55.3 C335.5,56.8 339,57.4 344.2,57.6 C351,57.8 359,57.5 367.5,56.1 C367.3,59 366.5,60.8 365.2,62.1 C362.5,64 359.5,65.5 356.2,66.6 C352,68 348,69 344.2,69.6 L340,71.1 L297.3,71.1 Q294.3,71.1 294.3,68.1 L294.3,49.3 Q294.3,46.3 297.3,46.3 Z"/></clipPath>
<path d="M297.3,46.3 L337,46.3 C335,47.4 333.2,49 332.1,52.3 C332.1,53.4 332.6,54.4 333.7,55.3 C335.5,56.8 339,57.4 344.2,57.6 C351,57.8 359,57.5 367.5,56.1 C367.3,59 366.5,60.8 365.2,62.1 C362.5,64 359.5,65.5 356.2,66.6 C352,68 348,69 344.2,69.6 L340,71.1 L297.3,71.1 Q294.3,71.1 294.3,68.1 L294.3,49.3 Q294.3,46.3 297.3,46.3 Z" fill="#d5d5d3" stroke="#4a4a4a" stroke-width="0.7"/>
<path d="M300.5,46.3L300.5,71.1M308.5,46.3L308.5,71.1M313.5,46.3L313.5,71.1M323,46.3L323,71.1M333,46.3L333,71.1M351.5,46.3L351.5,71.1M300.5,60.199999999999996L351.5,60.199999999999996M313.5,49.8L333,49.8" fill="none" stroke="#4a4a4a" stroke-width="0.5" clip-path="url(#wc498)"/>
<rect x="345" y="68.6" width="10" height="2.2" rx="1" fill="#222"/>
<rect x="283.7" y="55.9" width="5" height="4.9" rx="1" fill="#cfcfcf" stroke="#4a4a4a" stroke-width="0.4"/>
<polygon points="288.3,58.3 290.1,54.9 293.2,54.9 295.0,58.3 293.2,61.8 290.1,61.8" fill="#151515"/>
</g>
<g transform="translate(494.8,155) scale(-1,1)" stroke-linejoin="round">
<path d="M332.1,52.3 C333.2,49 335,47.4 337,46.3 C338.5,44.3 339.8,43.2 341.2,42.5 C345,41.4 349,41.4 353.2,41.8 C360,42.6 367,43.8 374.2,45.6 C384,50 394,57 402.8,63.6 L357.5,66.9 L362,64 C366,61.5 367.3,58.5 367.5,56.1 C359,57.5 351,57.8 344.2,57.6 C339,57.4 335.5,56.8 333.7,55.3 C332.6,54.4 332.1,53.4 332.1,52.3 Z" fill="#fcfcfc" stroke="#8a8a8a" stroke-width="0.45"/>
<clipPath id="wc507"><path d="M297.3,46.3 L337,46.3 C335,47.4 333.2,49 332.1,52.3 C332.1,53.4 332.6,54.4 333.7,55.3 C335.5,56.8 339,57.4 344.2,57.6 C351,57.8 359,57.5 367.5,56.1 C367.3,59 366.5,60.8 365.2,62.1 C362.5,64 359.5,65.5 356.2,66.6 C352,68 348,69 344.2,69.6 L340,71.1 L297.3,71.1 Q294.3,71.1 294.3,68.1 L294.3,49.3 Q294.3,46.3 297.3,46.3 Z"/></clipPath>
<path d="M297.3,46.3 L337,46.3 C335,47.4 333.2,49 332.1,52.3 C332.1,53.4 332.6,54.4 333.7,55.3 C335.5,56.8 339,57.4 344.2,57.6 C351,57.8 359,57.5 367.5,56.1 C367.3,59 366.5,60.8 365.2,62.1 C362.5,64 359.5,65.5 356.2,66.6 C352,68 348,69 344.2,69.6 L340,71.1 L297.3,71.1 Q294.3,71.1 294.3,68.1 L294.3,49.3 Q294.3,46.3 297.3,46.3 Z" fill="#d5d5d3" stroke="#4a4a4a" stroke-width="0.7"/>
<path d="M300.5,46.3L300.5,71.1M308.5,46.3L308.5,71.1M313.5,46.3L313.5,71.1M323,46.3L323,71.1M333,46.3L333,71.1M351.5,46.3L351.5,71.1M300.5,60.199999999999996L351.5,60.199999999999996M313.5,49.8L333,49.8" fill="none" stroke="#4a4a4a" stroke-width="0.5" clip-path="url(#wc507)"/>
<rect x="345" y="68.6" width="10" height="2.2" rx="1" fill="#222"/>
<rect x="283.7" y="55.9" width="5" height="4.9" rx="1" fill="#cfcfcf" stroke="#4a4a4a" stroke-width="0.4"/>
<polygon points="288.3,58.3 290.1,54.9 293.2,54.9 295.0,58.3 293.2,61.8 290.1,61.8" fill="#151515"/>
</g>
<g transform="translate(494.8,155.4) scale(-1,1)" stroke-linejoin="round">
<path d="M223.2,75.2 C224.5,71 227.5,69 231,67.4 C234,64.5 237,62 240.1,60.8 C243,59.8 245.5,59.9 248,60.2 C254,60.8 260,62.2 266.2,64.1 C278,68.5 289,75.5 300,82.3 L268.8,84.2 L268.8,82.3 C262,82.6 255,82.6 248,82.3 C241,82 236,81.5 231,80.4 C227.5,79.5 224.5,78 223.2,75.2 Z" fill="#fcfcfc" stroke="#8a8a8a" stroke-width="0.45"/>
<clipPath id="wc516"><path d="M190.8,67.4 L231,67.4 C227.5,69 224.5,71 223.2,75.2 C224.5,78 227.5,79.5 231,80.4 C236,81.5 241,82 248,82.3 C255,82.6 262,82.6 268.8,82.3 C268.6,84.5 267.6,86.2 266.2,87.5 C260,89.5 254,90.6 248,91.5 L246,92.8 L190.8,92.8 Q187.8,92.8 187.8,89.8 L187.8,70.4 Q187.8,67.4 190.8,67.4 Z"/></clipPath>
<path d="M190.8,67.4 L231,67.4 C227.5,69 224.5,71 223.2,75.2 C224.5,78 227.5,79.5 231,80.4 C236,81.5 241,82 248,82.3 C255,82.6 262,82.6 268.8,82.3 C268.6,84.5 267.6,86.2 266.2,87.5 C260,89.5 254,90.6 248,91.5 L246,92.8 L190.8,92.8 Q187.8,92.8 187.8,89.8 L187.8,70.4 Q187.8,67.4 190.8,67.4 Z" fill="#d5d5d3" stroke="#4a4a4a" stroke-width="0.7"/>
<path d="M193.9,67.4L193.9,92.8M201.7,67.4L201.7,92.8M206.9,67.4L206.9,92.8M216.7,67.4L216.7,92.8M226.5,67.4L226.5,92.8M248,67.4L248,92.8M193.9,81.6L248,81.6M206.9,70.9L226.5,70.9" fill="none" stroke="#4a4a4a" stroke-width="0.5" clip-path="url(#wc516)"/>
<rect x="236.2" y="91.3" width="11.3" height="2.4" rx="1" fill="#222"/>
<rect x="176.3" y="77.5" width="5" height="5.1" rx="1" fill="#cfcfcf" stroke="#4a4a4a" stroke-width="0.4"/>
<polygon points="180.9,80.0 182.7,76.5 186.6,76.5 188.4,80.0 186.6,83.6 182.7,83.6" fill="#151515"/>
</g>
<g transform="translate(10.1,345)" stroke-linejoin="round">
<path d="M223.2,75.2 C224.5,71 227.5,69 231,67.4 C234,64.5 237,62 240.1,60.8 C243,59.8 245.5,59.9 248,60.2 C254,60.8 260,62.2 266.2,64.1 C278,68.5 289,75.5 300,82.3 L268.8,84.2 L268.8,82.3 C262,82.6 255,82.6 248,82.3 C241,82 236,81.5 231,80.4 C227.5,79.5 224.5,78 223.2,75.2 Z" fill="#fcfcfc" stroke="#8a8a8a" stroke-width="0.45"/>
<clipPath id="wc525"><path d="M190.8,67.4 L231,67.4 C227.5,69 224.5,71 223.2,75.2 C224.5,78 227.5,79.5 231,80.4 C236,81.5 241,82 248,82.3 C255,82.6 262,82.6 268.8,82.3 C268.6,84.5 267.6,86.2 266.2,87.5 C260,89.5 254,90.6 248,91.5 L246,92.8 L190.8,92.8 Q187.8,92.8 187.8,89.8 L187.8,70.4 Q187.8,67.4 190.8,67.4 Z"/></clipPath>
<path d="M190.8,67.4 L231,67.4 C227.5,69 224.5,71 223.2,75.2 C224.5,78 227.5,79.5 231,80.4 C236,81.5 241,82 248,82.3 C255,82.6 262,82.6 268.8,82.3 C268.6,84.5 267.6,86.2 266.2,87.5 C260,89.5 254,90.6 248,91.5 L246,92.8 L190.8,92.8 Q187.8,92.8 187.8,89.8 L187.8,70.4 Q187.8,67.4 190.8,67.4 Z" fill="#51514e" stroke="#222" stroke-width="0.7"/>
<path d="M186.8,81.5 q4.5,-5 9,0 t9,0 t9,0 t9,0 t9,-0.5 t9,-1.5 t9,-2 t9,-2.5 t9,-2.5 t9,-2.5 L279.8,94.8 L186.8,94.8 Z" fill="#969694" clip-path="url(#wc525)"/>
<path d="M190.8,67.4 L231,67.4 C227.5,69 224.5,71 223.2,75.2 C224.5,78 227.5,79.5 231,80.4 C236,81.5 241,82 248,82.3 C255,82.6 262,82.6 268.8,82.3 C268.6,84.5 267.6,86.2 266.2,87.5 C260,89.5 254,90.6 248,91.5 L246,92.8 L190.8,92.8 Q187.8,92.8 187.8,89.8 L187.8,70.4 Q187.8,67.4 190.8,67.4 Z" fill="none" stroke="#222" stroke-width="0.7"/>
<path d="M193.9,67.4L193.9,92.8M201.7,67.4L201.7,92.8M206.9,67.4L206.9,92.8M216.7,67.4L216.7,92.8M226.5,67.4L226.5,92.8M248,67.4L248,92.8M193.9,81.6L248,81.6M206.9,70.9L226.5,70.9" fill="none" stroke="#222" stroke-width="0.5" clip-path="url(#wc525)"/>
<rect x="236.2" y="91.3" width="11.3" height="2.4" rx="1" fill="#222"/>
<rect x="176.4" y="76.9" width="11.5" height="6.3" rx="2" fill="#1e1e1e"/>
<rect x="179.4" y="76.1" width="3.4" height="7.9" rx="1" fill="#333"/>
</g>
<g transform="translate(10.6,345)" stroke-linejoin="round">
<path d="M332.1,52.3 C333.2,49 335,47.4 337,46.3 C338.5,44.3 339.8,43.2 341.2,42.5 C345,41.4 349,41.4 353.2,41.8 C360,42.6 367,43.8 374.2,45.6 C384,50 394,57 402.8,63.6 L357.5,66.9 L362,64 C366,61.5 367.3,58.5 367.5,56.1 C359,57.5 351,57.8 344.2,57.6 C339,57.4 335.5,56.8 333.7,55.3 C332.6,54.4 332.1,53.4 332.1,52.3 Z" fill="#fcfcfc" stroke="#8a8a8a" stroke-width="0.45"/>
<clipPath id="wc536"><path d="M297.3,46.3 L337,46.3 C335,47.4 333.2,49 332.1,52.3 C332.1,53.4 332.6,54.4 333.7,55.3 C335.5,56.8 339,57.4 344.2,57.6 C351,57.8 359,57.5 367.5,56.1 C367.3,59 366.5,60.8 365.2,62.1 C362.5,64 359.5,65.5 356.2,66.6 C352,68 348,69 344.2,69.6 L340,71.1 L297.3,71.1 Q294.3,71.1 294.3,68.1 L294.3,49.3 Q294.3,46.3 297.3,46.3 Z"/></clipPath>
<path d="M297.3,46.3 L337,46.3 C335,47.4 333.2,49 332.1,52.3 C332.1,53.4 332.6,54.4 333.7,55.3 C335.5,56.8 339,57.4 344.2,57.6 C351,57.8 359,57.5 367.5,56.1 C367.3,59 366.5,60.8 365.2,62.1 C362.5,64 359.5,65.5 356.2,66.6 C352,68 348,69 344.2,69.6 L340,71.1 L297.3,71.1 Q294.3,71.1 294.3,68.1 L294.3,49.3 Q294.3,46.3 297.3,46.3 Z" fill="#51514e" stroke="#222" stroke-width="0.7"/>
<path d="M293.3,59.8 q4.5,-5 9,0 t9,0 t9,0 t9,0 t9,-0.5 t9,-1.5 t9,-2 t9,-2.5 t9,-2.5 t9,-2.5 L386.3,73.1 L293.3,73.1 Z" fill="#969694" clip-path="url(#wc536)"/>
<path d="M297.3,46.3 L337,46.3 C335,47.4 333.2,49 332.1,52.3 C332.1,53.4 332.6,54.4 333.7,55.3 C335.5,56.8 339,57.4 344.2,57.6 C351,57.8 359,57.5 367.5,56.1 C367.3,59 366.5,60.8 365.2,62.1 C362.5,64 359.5,65.5 356.2,66.6 C352,68 348,69 344.2,69.6 L340,71.1 L297.3,71.1 Q294.3,71.1 294.3,68.1 L294.3,49.3 Q294.3,46.3 297.3,46.3 Z" fill="none" stroke="#222" stroke-width="0.7"/>
<path d="M300.5,46.3L300.5,71.1M308.5,46.3L308.5,71.1M313.5,46.3L313.5,71.1M323,46.3L323,71.1M333,46.3L333,71.1M351.5,46.3L351.5,71.1M300.5,60.199999999999996L351.5,60.199999999999996M313.5,49.8L333,49.8" fill="none" stroke="#222" stroke-width="0.5" clip-path="url(#wc536)"/>
<rect x="345" y="68.6" width="10" height="2.2" rx="1" fill="#222"/>
<rect x="283.8" y="55.3" width="10.7" height="6.1" rx="2" fill="#1e1e1e"/>
<rect x="286.8" y="54.5" width="3.4" height="7.7" rx="1" fill="#333"/>
</g>
<g transform="translate(522.3,494) scale(-1,1)" stroke-linejoin="round">
<path d="M332.1,52.3 C333.2,49 335,47.4 337,46.3 C338.5,44.3 339.8,43.2 341.2,42.5 C345,41.4 349,41.4 353.2,41.8 C360,42.6 367,43.8 374.2,45.6 C384,50 394,57 402.8,63.6 L357.5,66.9 L362,64 C366,61.5 367.3,58.5 367.5,56.1 C359,57.5 351,57.8 344.2,57.6 C339,57.4 335.5,56.8 333.7,55.3 C332.6,54.4 332.1,53.4 332.1,52.3 Z" fill="#fcfcfc" stroke="#8a8a8a" stroke-width="0.45"/>
<clipPath id="wc547"><path d="M297.3,46.3 L337,46.3 C335,47.4 333.2,49 332.1,52.3 C332.1,53.4 332.6,54.4 333.7,55.3 C335.5,56.8 339,57.4 344.2,57.6 C351,57.8 359,57.5 367.5,56.1 C367.3,59 366.5,60.8 365.2,62.1 C362.5,64 359.5,65.5 356.2,66.6 C352,68 348,69 344.2,69.6 L340,71.1 L297.3,71.1 Q294.3,71.1 294.3,68.1 L294.3,49.3 Q294.3,46.3 297.3,46.3 Z"/></clipPath>
<path d="M297.3,46.3 L337,46.3 C335,47.4 333.2,49 332.1,52.3 C332.1,53.4 332.6,54.4 333.7,55.3 C335.5,56.8 339,57.4 344.2,57.6 C351,57.8 359,57.5 367.5,56.1 C367.3,59 366.5,60.8 365.2,62.1 C362.5,64 359.5,65.5 356.2,66.6 C352,68 348,69 344.2,69.6 L340,71.1 L297.3,71.1 Q294.3,71.1 294.3,68.1 L294.3,49.3 Q294.3,46.3 297.3,46.3 Z" fill="#51514e" stroke="#222" stroke-width="0.7"/>
<path d="M293.3,59.8 q4.5,-5 9,0 t9,0 t9,0 t9,0 t9,-0.5 t9,-1.5 t9,-2 t9,-2.5 t9,-2.5 t9,-2.5 L386.3,73.1 L293.3,73.1 Z" fill="#969694" clip-path="url(#wc547)"/>
<path d="M297.3,46.3 L337,46.3 C335,47.4 333.2,49 332.1,52.3 C332.1,53.4 332.6,54.4 333.7,55.3 C335.5,56.8 339,57.4 344.2,57.6 C351,57.8 359,57.5 367.5,56.1 C367.3,59 366.5,60.8 365.2,62.1 C362.5,64 359.5,65.5 356.2,66.6 C352,68 348,69 344.2,69.6 L340,71.1 L297.3,71.1 Q294.3,71.1 294.3,68.1 L294.3,49.3 Q294.3,46.3 297.3,46.3 Z" fill="none" stroke="#222" stroke-width="0.7"/>
<path d="M300.5,46.3L300.5,71.1M308.5,46.3L308.5,71.1M313.5,46.3L313.5,71.1M323,46.3L323,71.1M333,46.3L333,71.1M351.5,46.3L351.5,71.1M300.5,60.199999999999996L351.5,60.199999999999996M313.5,49.8L333,49.8" fill="none" stroke="#222" stroke-width="0.5" clip-path="url(#wc547)"/>
<rect x="345" y="68.6" width="10" height="2.2" rx="1" fill="#222"/>
<rect x="283.8" y="55.3" width="10.7" height="6.1" rx="2" fill="#1e1e1e"/>
<rect x="286.8" y="54.5" width="3.4" height="7.7" rx="1" fill="#333"/>
</g>
<g transform="translate(531.8,493.9) scale(-1,1)" stroke-linejoin="round">
<path d="M223.2,75.2 C224.5,71 227.5,69 231,67.4 C234,64.5 237,62 240.1,60.8 C243,59.8 245.5,59.9 248,60.2 C254,60.8 260,62.2 266.2,64.1 C278,68.5 289,75.5 300,82.3 L268.8,84.2 L268.8,82.3 C262,82.6 255,82.6 248,82.3 C241,82 236,81.5 231,80.4 C227.5,79.5 224.5,78 223.2,75.2 Z" fill="#fcfcfc" stroke="#8a8a8a" stroke-width="0.45"/>
<clipPath id="wc558"><path d="M190.8,67.4 L231,67.4 C227.5,69 224.5,71 223.2,75.2 C224.5,78 227.5,79.5 231,80.4 C236,81.5 241,82 248,82.3 C255,82.6 262,82.6 268.8,82.3 C268.6,84.5 267.6,86.2 266.2,87.5 C260,89.5 254,90.6 248,91.5 L246,92.8 L190.8,92.8 Q187.8,92.8 187.8,89.8 L187.8,70.4 Q187.8,67.4 190.8,67.4 Z"/></clipPath>
<path d="M190.8,67.4 L231,67.4 C227.5,69 224.5,71 223.2,75.2 C224.5,78 227.5,79.5 231,80.4 C236,81.5 241,82 248,82.3 C255,82.6 262,82.6 268.8,82.3 C268.6,84.5 267.6,86.2 266.2,87.5 C260,89.5 254,90.6 248,91.5 L246,92.8 L190.8,92.8 Q187.8,92.8 187.8,89.8 L187.8,70.4 Q187.8,67.4 190.8,67.4 Z" fill="#51514e" stroke="#222" stroke-width="0.7"/>
<path d="M186.8,81.5 q4.5,-5 9,0 t9,0 t9,0 t9,0 t9,-0.5 t9,-1.5 t9,-2 t9,-2.5 t9,-2.5 t9,-2.5 L279.8,94.8 L186.8,94.8 Z" fill="#969694" clip-path="url(#wc558)"/>
<path d="M190.8,67.4 L231,67.4 C227.5,69 224.5,71 223.2,75.2 C224.5,78 227.5,79.5 231,80.4 C236,81.5 241,82 248,82.3 C255,82.6 262,82.6 268.8,82.3 C268.6,84.5 267.6,86.2 266.2,87.5 C260,89.5 254,90.6 248,91.5 L246,92.8 L190.8,92.8 Q187.8,92.8 187.8,89.8 L187.8,70.4 Q187.8,67.4 190.8,67.4 Z" fill="none" stroke="#222" stroke-width="0.7"/>
<path d="M193.9,67.4L193.9,92.8M201.7,67.4L201.7,92.8M206.9,67.4L206.9,92.8M216.7,67.4L216.7,92.8M226.5,67.4L226.5,92.8M248,67.4L248,92.8M193.9,81.6L248,81.6M206.9,70.9L226.5,70.9" fill="none" stroke="#222" stroke-width="0.5" clip-path="url(#wc558)"/>
<rect x="236.2" y="91.3" width="11.3" height="2.4" rx="1" fill="#222"/>
<rect x="176.4" y="76.9" width="11.5" height="6.3" rx="2" fill="#1e1e1e"/>
<rect x="179.4" y="76.1" width="3.4" height="7.9" rx="1" fill="#333"/>
</g>
<clipPath id="fc567"><path d="M456.0,49.3 C456.0,29.8 464.0,19.7 479.4,19.7 C494.8,19.7 502.8,29.8 502.8,49.3 C502.8,68.8 494.8,78.9 479.4,78.9 C464.0,78.9 456.0,68.8 456.0,49.3Z"/></clipPath>
<path d="M456.0,49.3 C456.0,29.8 464.0,19.7 479.4,19.7 C494.8,19.7 502.8,29.8 502.8,49.3 C502.8,68.8 494.8,78.9 479.4,78.9 C464.0,78.9 456.0,68.8 456.0,49.3Z" fill="#d5d5d3" stroke="#4a4a4a" stroke-width="0.8"/>
<g clip-path="url(#fc567)">
<path d="M457.8,49.3 C457.8,31.0 465.2,21.5 479.4,21.5 C493.6,21.5 501.0,31.0 501.0,49.3 C501.0,67.6 493.6,77.1 479.4,77.1 C465.2,77.1 457.8,67.6 457.8,49.3Z" fill="none" stroke="#4a4a4a" stroke-width="0.45"/>
<path d="M463.1,49.3 C463.1,34.4 468.6,26.8 479.4,26.8 C490.2,26.8 495.7,34.4 495.7,49.3 C495.7,64.2 490.2,71.8 479.4,71.8 C468.6,71.8 463.1,64.2 463.1,49.3Z" fill="none" stroke="#4a4a4a" stroke-width="0.45"/>
<path d="M500.1,60.1L495.4,57.7M499.4,63.1L494.9,60.0M498.3,66.1L494.2,62.4M496.8,69.0L493.2,64.8M494.8,71.6L491.7,67.1M492.3,73.8L489.8,69.1M489.3,75.4L487.5,70.6M486.1,76.4L484.9,71.5M482.7,76.8L482.1,71.9M479.4,76.9L479.4,72.0M476.1,76.8L476.7,71.9M472.7,76.4L473.9,71.5M469.5,75.4L471.3,70.6M466.5,73.8L469.0,69.1M464.0,71.6L467.1,67.1M462.0,69.0L465.6,64.8M460.5,66.1L464.6,62.4M459.4,63.1L463.9,60.0M458.7,60.1L463.4,57.7M458.7,38.5L463.4,40.9M459.4,35.5L463.9,38.6M460.5,32.5L464.6,36.2M462.0,29.6L465.6,33.8M464.0,27.0L467.1,31.5M466.5,24.8L469.0,29.5M469.5,23.2L471.3,28.0M472.7,22.2L473.9,27.1M476.1,21.8L476.7,26.7M479.4,21.7L479.4,26.6M482.7,21.8L482.1,26.7M486.1,22.2L484.9,27.1M489.3,23.2L487.5,28.0M492.3,24.8L489.8,29.5M494.8,27.0L491.7,31.5M496.8,29.6L493.2,33.8M498.3,32.5L494.2,36.2M499.4,35.5L494.9,38.6M500.1,38.5L495.4,40.9" fill="none" stroke="#4a4a4a" stroke-width="0.65"/>
<path d="M462.2,28.1L496.6,28.1M462.2,35.1L496.6,35.1M462.2,42.2L496.6,42.2M462.2,49.3L496.6,49.3M462.2,56.4L496.6,56.4M462.2,63.5L496.6,63.5M462.2,70.5L496.6,70.5M477.7,19.7L477.7,78.9" fill="none" stroke="#4a4a4a" stroke-width="0.3" opacity="0.6"/>
<rect x="455.0" y="19.7" width="14.7" height="59.2" fill="#f6f6f6"/>
<rect x="455.0" y="20.7" width="14.7" height="4.5" fill="#161616"/>
<rect x="455.0" y="29.2" width="14.7" height="4.5" fill="#161616"/>
<rect x="455.0" y="37.7" width="14.7" height="4.5" fill="#161616"/>
<rect x="455.0" y="46.2" width="14.7" height="4.5" fill="#161616"/>
<rect x="455.0" y="54.7" width="14.7" height="4.5" fill="#161616"/>
<rect x="455.0" y="63.2" width="14.7" height="4.5" fill="#161616"/>
<rect x="455.0" y="71.7" width="14.7" height="4.5" fill="#161616"/>
<rect x="469.7" y="19.7" width="4.2" height="59.2" fill="#161616"/>
</g>
<path d="M456.0,49.3 C456.0,29.8 464.0,19.7 479.4,19.7 C494.8,19.7 502.8,29.8 502.8,49.3 C502.8,68.8 494.8,78.9 479.4,78.9 C464.0,78.9 456.0,68.8 456.0,49.3Z" fill="none" stroke="#333" stroke-width="0.95"/>
<g transform="translate(52.4,0) scale(-1,1)">
<clipPath id="fc586"><path d="M2.8,195.6 C2.8,176.1 10.8,166.0 26.2,166.0 C41.6,166.0 49.6,176.1 49.6,195.6 C49.6,215.1 41.6,225.2 26.2,225.2 C10.8,225.2 2.8,215.1 2.8,195.6Z"/></clipPath>
<path d="M2.8,195.6 C2.8,176.1 10.8,166.0 26.2,166.0 C41.6,166.0 49.6,176.1 49.6,195.6 C49.6,215.1 41.6,225.2 26.2,225.2 C10.8,225.2 2.8,215.1 2.8,195.6Z" fill="#d5d5d3" stroke="#4a4a4a" stroke-width="0.8"/>
<g clip-path="url(#fc586)">
<path d="M4.6,195.6 C4.6,177.3 12.0,167.8 26.2,167.8 C40.4,167.8 47.8,177.3 47.8,195.6 C47.8,213.9 40.4,223.4 26.2,223.4 C12.0,223.4 4.6,213.9 4.6,195.6Z" fill="none" stroke="#4a4a4a" stroke-width="0.45"/>
<path d="M9.9,195.6 C9.9,180.7 15.4,173.1 26.2,173.1 C37.0,173.1 42.5,180.7 42.5,195.6 C42.5,210.5 37.0,218.1 26.2,218.1 C15.4,218.1 9.9,210.5 9.9,195.6Z" fill="none" stroke="#4a4a4a" stroke-width="0.45"/>
<path d="M46.9,206.4L42.2,204.0M46.2,209.4L41.7,206.3M45.1,212.4L41.0,208.7M43.6,215.3L40.0,211.1M41.6,217.9L38.5,213.4M39.1,220.1L36.6,215.4M36.1,221.7L34.3,216.9M32.9,222.7L31.7,217.8M29.5,223.1L28.9,218.2M26.2,223.2L26.2,218.3M22.9,223.1L23.5,218.2M19.5,222.7L20.7,217.8M16.3,221.7L18.1,216.9M13.3,220.1L15.8,215.4M10.8,217.9L13.9,213.4M8.8,215.3L12.4,211.1M7.3,212.4L11.4,208.7M6.2,209.4L10.7,206.3M5.5,206.4L10.2,204.0M5.5,184.8L10.2,187.2M6.2,181.8L10.7,184.9M7.3,178.8L11.4,182.5M8.8,175.9L12.4,180.1M10.8,173.3L13.9,177.8M13.3,171.1L15.8,175.8M16.3,169.5L18.1,174.3M19.5,168.5L20.7,173.4M22.9,168.1L23.5,173.0M26.2,168.0L26.2,172.9M29.5,168.1L28.9,173.0M32.9,168.5L31.7,173.4M36.1,169.5L34.3,174.3M39.1,171.1L36.6,175.8M41.6,173.3L38.5,177.8M43.6,175.9L40.0,180.1M45.1,178.8L41.0,182.5M46.2,181.8L41.7,184.9M46.9,184.8L42.2,187.2" fill="none" stroke="#4a4a4a" stroke-width="0.65"/>
<path d="M9.0,174.4L43.4,174.4M9.0,181.4L43.4,181.4M9.0,188.5L43.4,188.5M9.0,195.6L43.4,195.6M9.0,202.7L43.4,202.7M9.0,209.8L43.4,209.8M9.0,216.8L43.4,216.8M24.5,166.0L24.5,225.2" fill="none" stroke="#4a4a4a" stroke-width="0.3" opacity="0.6"/>
<rect x="1.8" y="166.0" width="14.7" height="59.2" fill="#f6f6f6"/>
<rect x="1.8" y="167.0" width="14.7" height="4.5" fill="#161616"/>
<rect x="1.8" y="175.5" width="14.7" height="4.5" fill="#161616"/>
<rect x="1.8" y="184.0" width="14.7" height="4.5" fill="#161616"/>
<rect x="1.8" y="192.5" width="14.7" height="4.5" fill="#161616"/>
<rect x="1.8" y="201.0" width="14.7" height="4.5" fill="#161616"/>
<rect x="1.8" y="209.5" width="14.7" height="4.5" fill="#161616"/>
<rect x="1.8" y="218.0" width="14.7" height="4.5" fill="#161616"/>
<rect x="16.5" y="166.0" width="4.2" height="59.2" fill="#161616"/>
</g>
<path d="M2.8,195.6 C2.8,176.1 10.8,166.0 26.2,166.0 C41.6,166.0 49.6,176.1 49.6,195.6 C49.6,215.1 41.6,225.2 26.2,225.2 C10.8,225.2 2.8,215.1 2.8,195.6Z" fill="none" stroke="#333" stroke-width="0.95"/>
</g>
<clipPath id="fc605"><path d="M455.8,393.2 C455.8,373.6 463.7,363.5 479.0,363.5 C494.3,363.5 502.2,373.6 502.2,393.2 C502.2,412.8 494.3,422.9 479.0,422.9 C463.7,422.9 455.8,412.8 455.8,393.2Z"/></clipPath>
<path d="M455.8,393.2 C455.8,373.6 463.7,363.5 479.0,363.5 C494.3,363.5 502.2,373.6 502.2,393.2 C502.2,412.8 494.3,422.9 479.0,422.9 C463.7,422.9 455.8,412.8 455.8,393.2Z" fill="#51514e" stroke="#222" stroke-width="0.8"/>
<g clip-path="url(#fc605)">
<path d="M457.6,393.2 C457.6,374.8 464.9,365.3 479.0,365.3 C493.1,365.3 500.4,374.8 500.4,393.2 C500.4,411.6 493.1,421.1 479.0,421.1 C464.9,421.1 457.6,411.6 457.6,393.2Z" fill="none" stroke="#222" stroke-width="0.45"/>
<path d="M462.8,393.2 C462.8,378.2 468.3,370.5 479.0,370.5 C489.7,370.5 495.2,378.2 495.2,393.2 C495.2,408.2 489.7,415.9 479.0,415.9 C468.3,415.9 462.8,408.2 462.8,393.2Z" fill="none" stroke="#222" stroke-width="0.45"/>
<path d="M499.5,404.0L494.9,401.5M498.8,406.9L494.4,403.9M497.8,409.9L493.8,406.3M496.4,412.8L492.7,408.7M494.4,415.5L491.3,411.0M491.9,417.7L489.4,413.0M488.9,419.4L487.1,414.6M485.7,420.4L484.5,415.5M482.4,420.8L481.8,416.0M479.0,420.9L479.0,416.0M475.6,420.8L476.2,416.0M472.3,420.4L473.5,415.5M469.1,419.4L470.9,414.6M466.1,417.7L468.6,413.0M463.6,415.5L466.7,411.0M461.6,412.8L465.3,408.7M460.2,409.9L464.2,406.3M459.2,406.9L463.6,403.9M458.5,404.0L463.1,401.5M458.5,382.4L463.1,384.9M459.2,379.5L463.6,382.5M460.2,376.5L464.2,380.1M461.6,373.6L465.3,377.7M463.6,370.9L466.7,375.4M466.1,368.7L468.6,373.4M469.1,367.0L470.9,371.8M472.3,366.0L473.5,370.9M475.6,365.6L476.2,370.4M479.0,365.5L479.0,370.4M482.4,365.6L481.8,370.4M485.7,366.0L484.5,370.9M488.9,367.0L487.1,371.8M491.9,368.7L489.4,373.4M494.4,370.9L491.3,375.4M496.4,373.6L492.7,377.7M497.8,376.5L493.8,380.1M498.8,379.5L494.4,382.5M499.5,382.4L494.9,384.9" fill="none" stroke="#222" stroke-width="0.65"/>
<path d="M462.0,372.1L496.0,372.1M462.0,379.2L496.0,379.2M462.0,386.2L496.0,386.2M462.0,393.2L496.0,393.2M462.0,400.2L496.0,400.2M462.0,407.2L496.0,407.2M462.0,414.3L496.0,414.3M477.3,363.5L477.3,422.9" fill="none" stroke="#222" stroke-width="0.3" opacity="0.6"/>
<path d="M455.8,370.1L473.6,370.1M455.8,375.9L473.6,375.9M455.8,381.7L473.6,381.7M455.8,387.4L473.6,387.4M455.8,393.2L473.6,393.2M455.8,399.0L473.6,399.0M455.8,404.8L473.6,404.8M455.8,410.6L473.6,410.6M455.8,416.3L473.6,416.3M473.6,363.5L473.6,422.9" fill="none" stroke="#1c1c1c" stroke-width="0.9"/>
</g>
<path d="M455.8,393.2 C455.8,373.6 463.7,363.5 479.0,363.5 C494.3,363.5 502.2,373.6 502.2,393.2 C502.2,412.8 494.3,422.9 479.0,422.9 C463.7,422.9 455.8,412.8 455.8,393.2Z" fill="none" stroke="#141414" stroke-width="0.95"/>
<g transform="translate(58,0) scale(-1,1)">
<clipPath id="fc616"><path d="M5.8,535.3 C5.8,515.7 13.7,505.6 29.0,505.6 C44.3,505.6 52.2,515.7 52.2,535.3 C52.2,554.9 44.3,565.0 29.0,565.0 C13.7,565.0 5.8,554.9 5.8,535.3Z"/></clipPath>
<path d="M5.8,535.3 C5.8,515.7 13.7,505.6 29.0,505.6 C44.3,505.6 52.2,515.7 52.2,535.3 C52.2,554.9 44.3,565.0 29.0,565.0 C13.7,565.0 5.8,554.9 5.8,535.3Z" fill="#51514e" stroke="#222" stroke-width="0.8"/>
<g clip-path="url(#fc616)">
<path d="M7.6,535.3 C7.6,516.9 14.9,507.4 29.0,507.4 C43.1,507.4 50.4,516.9 50.4,535.3 C50.4,553.7 43.1,563.2 29.0,563.2 C14.9,563.2 7.6,553.7 7.6,535.3Z" fill="none" stroke="#222" stroke-width="0.45"/>
<path d="M12.8,535.3 C12.8,520.3 18.3,512.6 29.0,512.6 C39.7,512.6 45.2,520.3 45.2,535.3 C45.2,550.3 39.7,558.0 29.0,558.0 C18.3,558.0 12.8,550.3 12.8,535.3Z" fill="none" stroke="#222" stroke-width="0.45"/>
<path d="M49.5,546.1L44.9,543.6M48.8,549.0L44.4,546.0M47.8,552.0L43.8,548.4M46.4,554.9L42.7,550.8M44.4,557.6L41.3,553.1M41.9,559.8L39.4,555.1M38.9,561.5L37.1,556.7M35.7,562.5L34.5,557.6M32.4,562.9L31.8,558.1M29.0,563.0L29.0,558.1M25.6,562.9L26.2,558.1M22.3,562.5L23.5,557.6M19.1,561.5L20.9,556.7M16.1,559.8L18.6,555.1M13.6,557.6L16.7,553.1M11.6,554.9L15.3,550.8M10.2,552.0L14.2,548.4M9.2,549.0L13.6,546.0M8.5,546.1L13.1,543.6M8.5,524.5L13.1,527.0M9.2,521.6L13.6,524.6M10.2,518.6L14.2,522.2M11.6,515.7L15.3,519.8M13.6,513.0L16.7,517.5M16.1,510.8L18.6,515.5M19.1,509.1L20.9,513.9M22.3,508.1L23.5,513.0M25.6,507.7L26.2,512.5M29.0,507.6L29.0,512.5M32.4,507.7L31.8,512.5M35.7,508.1L34.5,513.0M38.9,509.1L37.1,513.9M41.9,510.8L39.4,515.5M44.4,513.0L41.3,517.5M46.4,515.7L42.7,519.8M47.8,518.6L43.8,522.2M48.8,521.6L44.4,524.6M49.5,524.5L44.9,527.0" fill="none" stroke="#222" stroke-width="0.65"/>
<path d="M12.0,514.2L46.0,514.2M12.0,521.3L46.0,521.3M12.0,528.3L46.0,528.3M12.0,535.3L46.0,535.3M12.0,542.3L46.0,542.3M12.0,549.3L46.0,549.3M12.0,556.4L46.0,556.4M27.3,505.6L27.3,565.0" fill="none" stroke="#222" stroke-width="0.3" opacity="0.6"/>
<path d="M5.8,512.2L23.6,512.2M5.8,518.0L23.6,518.0M5.8,523.8L23.6,523.8M5.8,529.5L23.6,529.5M5.8,535.3L23.6,535.3M5.8,541.1L23.6,541.1M5.8,546.9L23.6,546.9M5.8,552.7L23.6,552.7M5.8,558.4L23.6,558.4M23.6,505.6L23.6,565.0" fill="none" stroke="#1c1c1c" stroke-width="0.9"/>
</g>
<path d="M5.8,535.3 C5.8,515.7 13.7,505.6 29.0,505.6 C44.3,505.6 52.2,515.7 52.2,535.3 C52.2,554.9 44.3,565.0 29.0,565.0 C13.7,565.0 5.8,554.9 5.8,535.3Z" fill="none" stroke="#141414" stroke-width="0.95"/>
</g>
<text x="425.0" y="89.5" font-size="3.6" font-weight="bold" fill="#111" text-anchor="start" textLength="17.5" lengthAdjust="spacingAndGlyphs">440428</text>
<text x="426.4" y="98.0" font-size="8.7" font-weight="bold" fill="#111" text-anchor="start" textLength="16.1" lengthAdjust="spacingAndGlyphs">428</text>
<text x="56.4" y="241.0" font-size="3.6" font-weight="bold" fill="#111" text-anchor="start" textLength="17.4" lengthAdjust="spacingAndGlyphs">440428</text>
<text x="56.7" y="250.0" font-size="8.7" font-weight="bold" fill="#111" text-anchor="start" textLength="15.9" lengthAdjust="spacingAndGlyphs">428</text>
<text x="418.8" y="439.7" font-size="7.4" font-weight="bold" fill="#f4f4f4" text-anchor="start" textLength="21.5" lengthAdjust="spacingAndGlyphs">2110119</text>
<text x="423.5" y="456.2" font-size="17" font-weight="bold" fill="#111" text-anchor="start" textLength="18.1" lengthAdjust="spacingAndGlyphs">119</text>
<text x="63.7" y="586.9" font-size="7.4" font-weight="bold" fill="#f4f4f4" text-anchor="start" textLength="21.5" lengthAdjust="spacingAndGlyphs">2110119</text>
<text x="62.6" y="604.6" font-size="17" font-weight="bold" fill="#111" text-anchor="start" textLength="17.7" lengthAdjust="spacingAndGlyphs">119</text>
<text x="1.0" y="13.6" font-size="17" font-weight="bold" fill="#000" text-anchor="start" textLength="122.0" lengthAdjust="spacingAndGlyphs">Marking &amp; Painting</text>
<text x="1.0" y="22.3" font-size="6.6" font-weight="bold" fill="#111" text-anchor="start" textLength="79.0" lengthAdjust="spacingAndGlyphs">マーキング及び塗装図</text>
<text x="1.0" y="30.8" font-size="6.8" font-weight="bold" fill="#111" text-anchor="start" textLength="100.0" lengthAdjust="spacingAndGlyphs">Markierungen und Bemalung</text>
<text x="1.0" y="37.8" font-size="6.8" font-weight="bold" fill="#111" text-anchor="start" textLength="79.0" lengthAdjust="spacingAndGlyphs">Decoration et Peinture</text>
<text x="1.0" y="44.9" font-size="6.8" font-weight="bold" fill="#111" text-anchor="start" textLength="63.0" lengthAdjust="spacingAndGlyphs">Marchio &amp; Pittura</text>
<text x="1.0" y="52.0" font-size="6.8" font-weight="bold" fill="#111" text-anchor="start" textLength="72.5" lengthAdjust="spacingAndGlyphs">Decoracion y Pintura</text>
<text x="1.0" y="59.8" font-size="6.6" font-weight="bold" fill="#111" text-anchor="start" textLength="50.0" lengthAdjust="spacingAndGlyphs">標貼及著色指示</text>
<rect x="138.7" y="2.6" width="13.5" height="13" rx="2.4" fill="#000"/>
<ellipse cx="145.5" cy="9.1" rx="5.2" ry="5.6" fill="#fff"/>
<text x="145.5" y="13.4" font-size="12.5" font-weight="bold" fill="#000" text-anchor="middle" textLength="5.0" lengthAdjust="spacingAndGlyphs" stroke="#000" stroke-width="0.5">1</text>
<text x="153.8" y="8.6" font-size="7" font-weight="bold" fill="#111" text-anchor="start" textLength="213.0" lengthAdjust="spacingAndGlyphs">アメリカ陸軍 第43爆撃航空群 第64爆撃飛行隊 1945年 フィリピン</text>
<text x="153.8" y="15.6" font-size="7.2" font-weight="bold" fill="#111" text-anchor="start" textLength="189.0" lengthAdjust="spacingAndGlyphs">64BS 43BG U.S.ARMY AIR FORCE 1945 Philippines.</text>
<rect x="19.1" y="374.5" width="13.7" height="13.3" rx="2.4" fill="#000"/>
<text x="26.0" y="385.6" font-size="12.5" font-weight="bold" fill="#fff" text-anchor="middle" textLength="7.0" lengthAdjust="spacingAndGlyphs">2</text>
<text x="34.7" y="381.0" font-size="7" font-weight="bold" fill="#111" text-anchor="start" textLength="149.5" lengthAdjust="spacingAndGlyphs">アメリカ陸軍 第22爆撃航空群 第33爆撃飛行隊</text>
<text x="34.7" y="388.2" font-size="7.2" font-weight="bold" fill="#111" text-anchor="start" textLength="125.7" lengthAdjust="spacingAndGlyphs">33BS 22BG U.S.ARMY AIR FORCE.</text>
<text x="463.0" y="674.5" font-size="5.6" font-weight="normal" fill="#111" text-anchor="start" textLength="206.0" lengthAdjust="spacingAndGlyphs">◆この塗装図は1/72スケールを、側面50%、上下面30%に縮小してあります。</text>
<text x="463.0" y="682.8" font-size="5.8" font-weight="normal" fill="#111" text-anchor="start" textLength="210.0" lengthAdjust="spacingAndGlyphs">◆This marking chart has been reduced by 50% in the side view and 30% in</text>
<text x="468.8" y="690.2" font-size="5.8" font-weight="normal" fill="#111" text-anchor="start" textLength="109.0" lengthAdjust="spacingAndGlyphs">the top and bottom views from 1/72scale</text>
<text x="154.5" y="47.0" font-size="5" font-weight="normal" fill="#111" text-anchor="start" textLength="53.2" lengthAdjust="spacingAndGlyphs">左翼内側 inside left wing</text>
<text x="271.3" y="41.0" font-size="5" font-weight="normal" fill="#111" text-anchor="start" textLength="56.3" lengthAdjust="spacingAndGlyphs">左翼外側 outside left wing</text>
<text x="140.4" y="194.6" font-size="5" font-weight="normal" fill="#111" text-anchor="start" textLength="59.3" lengthAdjust="spacingAndGlyphs">右翼外側 outside right wing</text>
<text x="238.9" y="213.6" font-size="5" font-weight="normal" fill="#111" text-anchor="start" textLength="57.1" lengthAdjust="spacingAndGlyphs">右翼内側 inside right wing</text>
<text x="226.1" y="401.4" font-size="5" font-weight="normal" fill="#111" text-anchor="start" textLength="53.9" lengthAdjust="spacingAndGlyphs">左翼内側 inside left wing</text>
<text x="342.1" y="376.3" font-size="5" font-weight="normal" fill="#111" text-anchor="start" textLength="56.9" lengthAdjust="spacingAndGlyphs">左翼外側 outside left wing</text>
<text x="140.8" y="533.1" font-size="5" font-weight="normal" fill="#111" text-anchor="start" textLength="60.1" lengthAdjust="spacingAndGlyphs">右翼外側 outside right wing</text>
<text x="255.5" y="551.8" font-size="5" font-weight="normal" fill="#111" text-anchor="start" textLength="56.7" lengthAdjust="spacingAndGlyphs">右翼内側 inside right wing</text>
<line x1="244.7" y1="102.3" x2="243.4" y2="93.7" stroke="#555" stroke-width="0.5"/>
<line x1="264.4" y1="183.4" x2="256.5" y2="147.7" stroke="#555" stroke-width="0.5"/>
<line x1="163.2" y1="68.6" x2="179.8" y2="79.1" stroke="#555" stroke-width="0.5"/>
<line x1="178.4" y1="65.3" x2="183.5" y2="77.0" stroke="#555" stroke-width="0.5"/>
<line x1="212.9" y1="54.1" x2="222.8" y2="72.6" stroke="#555" stroke-width="0.5"/>
<line x1="268.5" y1="50.1" x2="282.6" y2="57.8" stroke="#555" stroke-width="0.5"/>
<line x1="284.5" y1="47.5" x2="289.1" y2="55.2" stroke="#555" stroke-width="0.5"/>
<line x1="343.8" y1="28.5" x2="329.5" y2="48.7" stroke="#555" stroke-width="0.5"/>
<line x1="349.0" y1="79.2" x2="348.5" y2="70.8" stroke="#555" stroke-width="0.5"/>
<line x1="214.0" y1="200.3" x2="205.8" y2="210.7" stroke="#555" stroke-width="0.5"/>
<line x1="227.9" y1="208.9" x2="212.4" y2="212.5" stroke="#555" stroke-width="0.5"/>
<line x1="152.6" y1="236.0" x2="148.5" y2="225.2" stroke="#555" stroke-width="0.5"/>
<line x1="176.2" y1="238.4" x2="170.7" y2="217.4" stroke="#555" stroke-width="0.5"/>
<line x1="299.7" y1="205.2" x2="299.5" y2="225.2" stroke="#555" stroke-width="0.5"/>
<line x1="318.5" y1="215.5" x2="312.5" y2="231.7" stroke="#555" stroke-width="0.5"/>
<line x1="334.0" y1="222.4" x2="318.3" y2="233.8" stroke="#555" stroke-width="0.5"/>
<line x1="264.7" y1="255.5" x2="262.0" y2="247.0" stroke="#555" stroke-width="0.5"/>
<line x1="271.9" y1="337.2" x2="279.2" y2="300.7" stroke="#555" stroke-width="0.5"/>
<line x1="12.4" y1="156.0" x2="15.6" y2="170.3" stroke="#555" stroke-width="0.5"/>
<line x1="504.9" y1="84.0" x2="488.4" y2="55.2" stroke="#555" stroke-width="0.5"/>
<line x1="509.7" y1="12.6" x2="526.9" y2="7.3" stroke="#555" stroke-width="0.5"/>
<line x1="616.1" y1="54.2" x2="616.0" y2="74.3" stroke="#555" stroke-width="0.5"/>
<line x1="629.0" y1="57.1" x2="620.7" y2="75.0" stroke="#555" stroke-width="0.5"/>
<line x1="527.3" y1="189.2" x2="514.4" y2="207.3" stroke="#555" stroke-width="0.5"/>
<line x1="561.5" y1="192.1" x2="582.0" y2="204.0" stroke="#555" stroke-width="0.5"/>
<line x1="551.4" y1="115.7" x2="588.1" y2="114.6" stroke="#555" stroke-width="0.5"/>
<line x1="747.5" y1="15.8" x2="764.1" y2="10.9" stroke="#555" stroke-width="0.5"/>
<line x1="858.2" y1="56.8" x2="857.3" y2="76.9" stroke="#555" stroke-width="0.5"/>
<line x1="875.5" y1="61.4" x2="860.5" y2="77.6" stroke="#555" stroke-width="0.5"/>
<line x1="782.5" y1="92.5" x2="812.3" y2="92.0" stroke="#555" stroke-width="0.5"/>
<line x1="787.4" y1="106.2" x2="825.3" y2="99.0" stroke="#555" stroke-width="0.5"/>
<line x1="795.5" y1="127.0" x2="826.6" y2="121.2" stroke="#555" stroke-width="0.5"/>
<line x1="862.5" y1="106.9" x2="842.2" y2="112.0" stroke="#555" stroke-width="0.5"/>
<line x1="807.4" y1="154.4" x2="852.6" y2="142.0" stroke="#555" stroke-width="0.5"/>
<line x1="816.8" y1="178.3" x2="842.0" y2="188.0" stroke="#555" stroke-width="0.5"/>
<line x1="771.6" y1="190.4" x2="765.0" y2="209.8" stroke="#555" stroke-width="0.5"/>
<line x1="972.4" y1="359.6" x2="978.6" y2="347.8" stroke="#555" stroke-width="0.5"/>
<line x1="176.9" y1="408.6" x2="187.6" y2="423.0" stroke="#555" stroke-width="0.5"/>
<line x1="192.6" y1="406.7" x2="193.3" y2="420.4" stroke="#555" stroke-width="0.5"/>
<line x1="217.9" y1="398.5" x2="208.4" y2="416.5" stroke="#555" stroke-width="0.5"/>
<line x1="253.4" y1="448.8" x2="251.4" y2="438.6" stroke="#555" stroke-width="0.5"/>
<line x1="273.5" y1="442.2" x2="266.0" y2="432.0" stroke="#555" stroke-width="0.5"/>
<line x1="284.5" y1="388.8" x2="294.3" y2="400.0" stroke="#555" stroke-width="0.5"/>
<line x1="299.5" y1="386.6" x2="300.0" y2="400.0" stroke="#555" stroke-width="0.5"/>
<line x1="324.6" y1="378.1" x2="319.0" y2="390.8" stroke="#555" stroke-width="0.5"/>
<line x1="359.5" y1="426.4" x2="358.1" y2="416.4" stroke="#555" stroke-width="0.5"/>
<line x1="380.2" y1="419.6" x2="372.5" y2="407.8" stroke="#555" stroke-width="0.5"/>
<line x1="403.4" y1="422.6" x2="412.8" y2="427.8" stroke="#555" stroke-width="0.5"/>
<line x1="331.5" y1="441.8" x2="324.3" y2="463.8" stroke="#555" stroke-width="0.5"/>
<line x1="451.4" y1="506.5" x2="450.1" y2="480.7" stroke="#555" stroke-width="0.5"/>
<line x1="226.7" y1="528.5" x2="220.2" y2="541.5" stroke="#555" stroke-width="0.5"/>
<line x1="241.8" y1="534.5" x2="234.5" y2="549.4" stroke="#555" stroke-width="0.5"/>
<line x1="257.8" y1="538.4" x2="238.4" y2="551.3" stroke="#555" stroke-width="0.5"/>
<line x1="159.6" y1="575.6" x2="177.2" y2="564.3" stroke="#555" stroke-width="0.5"/>
<line x1="187.6" y1="579.1" x2="198.0" y2="561.7" stroke="#555" stroke-width="0.5"/>
<line x1="191.7" y1="590.4" x2="200.6" y2="606.0" stroke="#555" stroke-width="0.5"/>
<line x1="287.5" y1="528.5" x2="281.3" y2="512.0" stroke="#555" stroke-width="0.5"/>
<line x1="325.5" y1="547.0" x2="332.9" y2="566.9" stroke="#555" stroke-width="0.5"/>
<line x1="355.6" y1="552.6" x2="350.3" y2="570.8" stroke="#555" stroke-width="0.5"/>
<line x1="368.5" y1="560.0" x2="354.2" y2="570.8" stroke="#555" stroke-width="0.5"/>
<line x1="268.4" y1="591.4" x2="285.2" y2="586.4" stroke="#555" stroke-width="0.5"/>
<line x1="338.6" y1="594.4" x2="330.8" y2="577.3" stroke="#555" stroke-width="0.5"/>
<line x1="287.5" y1="676.5" x2="283.4" y2="659.4" stroke="#555" stroke-width="0.5"/>
<line x1="99.6" y1="567.4" x2="89.9" y2="578.6" stroke="#555" stroke-width="0.5"/>
<line x1="45.5" y1="646.6" x2="56.0" y2="616.4" stroke="#555" stroke-width="0.5"/>
<line x1="491.6" y1="345.9" x2="492.8" y2="367.2" stroke="#555" stroke-width="0.5"/>
<line x1="513.9" y1="351.5" x2="530.8" y2="345.1" stroke="#555" stroke-width="0.5"/>
<line x1="444.5" y1="376.4" x2="457.1" y2="381.7" stroke="#555" stroke-width="0.5"/>
<line x1="19.5" y1="488.5" x2="24.8" y2="506.4" stroke="#555" stroke-width="0.5"/>
<line x1="67.7" y1="529.4" x2="53.4" y2="529.8" stroke="#555" stroke-width="0.5"/>
<line x1="588.4" y1="367.4" x2="563.9" y2="371.2" stroke="#555" stroke-width="0.5"/>
<line x1="622.0" y1="392.8" x2="621.5" y2="412.1" stroke="#555" stroke-width="0.5"/>
<line x1="635.3" y1="398.6" x2="625.4" y2="412.9" stroke="#555" stroke-width="0.5"/>
<line x1="639.1" y1="441.4" x2="615.5" y2="444.6" stroke="#555" stroke-width="0.5"/>
<line x1="556.4" y1="451.5" x2="589.4" y2="449.3" stroke="#555" stroke-width="0.5"/>
<line x1="669.5" y1="468.2" x2="641.5" y2="482.4" stroke="#555" stroke-width="0.5"/>
<line x1="531.5" y1="519.8" x2="524.3" y2="536.0" stroke="#555" stroke-width="0.5"/>
<line x1="541.8" y1="536.2" x2="533.4" y2="548.3" stroke="#555" stroke-width="0.5"/>
<line x1="565.6" y1="531.0" x2="589.4" y2="545.1" stroke="#555" stroke-width="0.5"/>
<line x1="759.1" y1="680.6" x2="746.3" y2="681.8" stroke="#555" stroke-width="0.5"/>
<line x1="780.2" y1="325.0" x2="773.1" y2="343.6" stroke="#555" stroke-width="0.5"/>
<line x1="751.3" y1="344.5" x2="736.0" y2="347.0" stroke="#555" stroke-width="0.5"/>
<line x1="814.2" y1="359.4" x2="805.1" y2="374.1" stroke="#555" stroke-width="0.5"/>
<line x1="856.2" y1="394.4" x2="859.2" y2="411.2" stroke="#555" stroke-width="0.5"/>
<line x1="878.6" y1="397.9" x2="863.2" y2="412.6" stroke="#555" stroke-width="0.5"/>
<line x1="777.5" y1="429.5" x2="809.1" y2="432.2" stroke="#555" stroke-width="0.5"/>
<line x1="787.4" y1="445.5" x2="819.2" y2="438.2" stroke="#555" stroke-width="0.5"/>
<line x1="872.2" y1="431.5" x2="849.2" y2="442.2" stroke="#555" stroke-width="0.5"/>
<line x1="871.1" y1="445.5" x2="856.2" y2="447.3" stroke="#555" stroke-width="0.5"/>
<line x1="799.1" y1="460.2" x2="826.6" y2="454.8" stroke="#555" stroke-width="0.5"/>
<line x1="899.7" y1="472.4" x2="883.9" y2="486.0" stroke="#555" stroke-width="0.5"/>
<line x1="818.9" y1="491.9" x2="852.6" y2="479.5" stroke="#555" stroke-width="0.5"/>
<line x1="820.8" y1="512.8" x2="847.4" y2="522.5" stroke="#555" stroke-width="0.5"/>
<line x1="771.6" y1="523.2" x2="762.8" y2="539.4" stroke="#555" stroke-width="0.5"/>
<line x1="781.8" y1="534.8" x2="774.5" y2="553.8" stroke="#555" stroke-width="0.5"/>
<line x1="992.2" y1="673.8" x2="982.2" y2="679.4" stroke="#555" stroke-width="0.5"/>
<rect x="240.4" y="98.0" width="8.6" height="8.6" fill="#0a0a0a"/>
<text x="244.7" y="105.7" font-size="9.1" font-weight="bold" fill="#fff" stroke="#fff" stroke-width="0.25" text-anchor="middle" textLength="7.2" lengthAdjust="spacingAndGlyphs">61</text>
<rect x="260.2" y="179.2" width="8.3" height="8.4" fill="#0a0a0a"/>
<text x="264.4" y="186.7" font-size="8.9" font-weight="bold" fill="#fff" stroke="#fff" stroke-width="0.25" text-anchor="middle" textLength="4.4" lengthAdjust="spacingAndGlyphs">8</text>
<rect x="159.0" y="64.2" width="8.5" height="8.7" fill="#0a0a0a"/>
<text x="163.2" y="71.9" font-size="9.2" font-weight="bold" fill="#fff" stroke="#fff" stroke-width="0.25" text-anchor="middle" textLength="4.4" lengthAdjust="spacingAndGlyphs">8</text>
<rect x="174.0" y="61.1" width="8.8" height="8.5" fill="#0a0a0a"/>
<text x="178.4" y="68.7" font-size="9.0" font-weight="bold" fill="#fff" stroke="#fff" stroke-width="0.25" text-anchor="middle" textLength="7.2" lengthAdjust="spacingAndGlyphs">28</text>
<rect x="208.6" y="49.8" width="8.7" height="8.6" fill="#0a0a0a"/>
<text x="212.9" y="57.5" font-size="9.1" font-weight="bold" fill="#fff" stroke="#fff" stroke-width="0.25" text-anchor="middle" textLength="4.4" lengthAdjust="spacingAndGlyphs">8</text>
<rect x="264.2" y="45.9" width="8.6" height="8.4" fill="#0a0a0a"/>
<text x="268.5" y="53.4" font-size="8.9" font-weight="bold" fill="#fff" stroke="#fff" stroke-width="0.25" text-anchor="middle" textLength="4.4" lengthAdjust="spacingAndGlyphs">8</text>
<rect x="280.3" y="43.3" width="8.3" height="8.3" fill="#0a0a0a"/>
<text x="284.5" y="50.7" font-size="8.8" font-weight="bold" fill="#fff" stroke="#fff" stroke-width="0.25" text-anchor="middle" textLength="7.2" lengthAdjust="spacingAndGlyphs">28</text>
<rect x="339.7" y="24.2" width="8.2" height="8.6" fill="#0a0a0a"/>
<text x="343.8" y="31.9" font-size="9.1" font-weight="bold" fill="#fff" stroke="#fff" stroke-width="0.25" text-anchor="middle" textLength="4.4" lengthAdjust="spacingAndGlyphs">8</text>
<rect x="344.9" y="74.9" width="8.3" height="8.5" fill="#0a0a0a"/>
<text x="349.0" y="82.5" font-size="9.0" font-weight="bold" fill="#fff" stroke="#fff" stroke-width="0.25" text-anchor="middle" textLength="7.2" lengthAdjust="spacingAndGlyphs">61</text>
<rect x="209.5" y="195.8" width="9.0" height="9.0" fill="#0a0a0a"/>
<text x="214.0" y="203.8" font-size="9.5" font-weight="bold" fill="#fff" stroke="#fff" stroke-width="0.25" text-anchor="middle" textLength="7.2" lengthAdjust="spacingAndGlyphs">28</text>
<rect x="223.8" y="204.8" width="8.2" height="8.3" fill="#0a0a0a"/>
<text x="227.9" y="212.2" font-size="8.8" font-weight="bold" fill="#fff" stroke="#fff" stroke-width="0.25" text-anchor="middle" textLength="4.4" lengthAdjust="spacingAndGlyphs">8</text>
<rect x="148.3" y="231.9" width="8.6" height="8.2" fill="#0a0a0a"/>
<text x="152.6" y="239.2" font-size="8.7" font-weight="bold" fill="#fff" stroke="#fff" stroke-width="0.25" text-anchor="middle" textLength="7.2" lengthAdjust="spacingAndGlyphs">61</text>
<rect x="171.9" y="234.1" width="8.6" height="8.6" fill="#0a0a0a"/>
<text x="176.2" y="241.8" font-size="9.1" font-weight="bold" fill="#fff" stroke="#fff" stroke-width="0.25" text-anchor="middle" textLength="4.4" lengthAdjust="spacingAndGlyphs">8</text>
<rect x="295.4" y="201.0" width="8.6" height="8.3" fill="#0a0a0a"/>
<text x="299.7" y="208.4" font-size="8.8" font-weight="bold" fill="#fff" stroke="#fff" stroke-width="0.25" text-anchor="middle" textLength="4.4" lengthAdjust="spacingAndGlyphs">8</text>
<rect x="314.2" y="211.2" width="8.6" height="8.6" fill="#0a0a0a"/>
<text x="318.5" y="218.9" font-size="9.1" font-weight="bold" fill="#fff" stroke="#fff" stroke-width="0.25" text-anchor="middle" textLength="7.2" lengthAdjust="spacingAndGlyphs">28</text>
<rect x="329.8" y="218.3" width="8.3" height="8.3" fill="#0a0a0a"/>
<text x="334.0" y="225.7" font-size="8.8" font-weight="bold" fill="#fff" stroke="#fff" stroke-width="0.25" text-anchor="middle" textLength="4.4" lengthAdjust="spacingAndGlyphs">8</text>
<rect x="260.4" y="251.4" width="8.6" height="8.2" fill="#0a0a0a"/>
<text x="264.7" y="258.7" font-size="8.7" font-weight="bold" fill="#fff" stroke="#fff" stroke-width="0.25" text-anchor="middle" textLength="7.2" lengthAdjust="spacingAndGlyphs">61</text>
<rect x="267.7" y="332.8" width="8.4" height="8.8" fill="#0a0a0a"/>
<text x="271.9" y="340.6" font-size="9.3" font-weight="bold" fill="#fff" stroke="#fff" stroke-width="0.25" text-anchor="middle" textLength="4.4" lengthAdjust="spacingAndGlyphs">8</text>
<rect x="7.9" y="151.8" width="9.1" height="8.4" fill="#0a0a0a"/>
<text x="12.4" y="159.3" font-size="8.9" font-weight="bold" fill="#fff" stroke="#fff" stroke-width="0.25" text-anchor="middle" textLength="4.4" lengthAdjust="spacingAndGlyphs">8</text>
<rect x="501.0" y="80.0" width="7.8" height="8.0" fill="#0a0a0a"/>
<text x="504.9" y="87.1" font-size="8.5" font-weight="bold" fill="#fff" stroke="#fff" stroke-width="0.25" text-anchor="middle" textLength="4.4" lengthAdjust="spacingAndGlyphs">8</text>
<rect x="505.2" y="8.4" width="9.0" height="8.4" fill="#0a0a0a"/>
<text x="509.7" y="15.9" font-size="8.9" font-weight="bold" fill="#fff" stroke="#fff" stroke-width="0.25" text-anchor="middle" textLength="7.2" lengthAdjust="spacingAndGlyphs">47</text>
<rect x="611.7" y="50.1" width="8.8" height="8.1" fill="#0a0a0a"/>
<text x="616.1" y="57.3" font-size="8.6" font-weight="bold" fill="#fff" stroke="#fff" stroke-width="0.25" text-anchor="middle" textLength="7.2" lengthAdjust="spacingAndGlyphs">28</text>
<rect x="624.6" y="52.9" width="8.8" height="8.5" fill="#0a0a0a"/>
<text x="629.0" y="60.5" font-size="9.0" font-weight="bold" fill="#fff" stroke="#fff" stroke-width="0.25" text-anchor="middle" textLength="4.4" lengthAdjust="spacingAndGlyphs">8</text>
<rect x="523.2" y="185.3" width="8.2" height="7.7" fill="#0a0a0a"/>
<text x="527.3" y="192.2" font-size="8.2" font-weight="bold" fill="#fff" stroke="#fff" stroke-width="0.25" text-anchor="middle" textLength="4.4" lengthAdjust="spacingAndGlyphs">8</text>
<rect x="557.3" y="188.2" width="8.5" height="7.9" fill="#0a0a0a"/>
<text x="561.5" y="195.2" font-size="8.4" font-weight="bold" fill="#fff" stroke="#fff" stroke-width="0.25" text-anchor="middle" textLength="4.4" lengthAdjust="spacingAndGlyphs">8</text>
<rect x="547.2" y="111.5" width="8.4" height="8.4" fill="#0a0a0a"/>
<text x="551.4" y="119.0" font-size="8.9" font-weight="bold" fill="#fff" stroke="#fff" stroke-width="0.25" text-anchor="middle" textLength="4.4" lengthAdjust="spacingAndGlyphs">8</text>
<rect x="743.0" y="11.6" width="9.0" height="8.4" fill="#0a0a0a"/>
<text x="747.5" y="19.1" font-size="8.9" font-weight="bold" fill="#fff" stroke="#fff" stroke-width="0.25" text-anchor="middle" textLength="7.2" lengthAdjust="spacingAndGlyphs">50</text>
<rect x="853.8" y="52.5" width="8.8" height="8.6" fill="#0a0a0a"/>
<text x="858.2" y="60.2" font-size="9.1" font-weight="bold" fill="#fff" stroke="#fff" stroke-width="0.25" text-anchor="middle" textLength="7.2" lengthAdjust="spacingAndGlyphs">28</text>
<rect x="871.3" y="57.1" width="8.4" height="8.6" fill="#0a0a0a"/>
<text x="875.5" y="64.8" font-size="9.1" font-weight="bold" fill="#fff" stroke="#fff" stroke-width="0.25" text-anchor="middle" textLength="4.4" lengthAdjust="spacingAndGlyphs">8</text>
<rect x="778.0" y="88.2" width="9.0" height="8.6" fill="#0a0a0a"/>
<text x="782.5" y="95.9" font-size="9.1" font-weight="bold" fill="#fff" stroke="#fff" stroke-width="0.25" text-anchor="middle" textLength="4.4" lengthAdjust="spacingAndGlyphs">8</text>
<rect x="783.0" y="101.8" width="8.7" height="8.8" fill="#0a0a0a"/>
<text x="787.4" y="109.6" font-size="9.3" font-weight="bold" fill="#fff" stroke="#fff" stroke-width="0.25" text-anchor="middle" textLength="7.2" lengthAdjust="spacingAndGlyphs">61</text>
<rect x="789.0" y="122.6" width="13.0" height="8.7" fill="#0a0a0a"/>
<text x="795.5" y="130.3" font-size="9.2" font-weight="bold" fill="#fff" stroke="#fff" stroke-width="0.25" text-anchor="middle" textLength="11.4" lengthAdjust="spacingAndGlyphs">137</text>
<rect x="858.2" y="102.6" width="8.5" height="8.6" fill="#0a0a0a"/>
<text x="862.5" y="110.3" font-size="9.1" font-weight="bold" fill="#fff" stroke="#fff" stroke-width="0.25" text-anchor="middle" textLength="4.4" lengthAdjust="spacingAndGlyphs">8</text>
<rect x="803.2" y="150.2" width="8.4" height="8.5" fill="#0a0a0a"/>
<text x="807.4" y="157.8" font-size="9.0" font-weight="bold" fill="#fff" stroke="#fff" stroke-width="0.25" text-anchor="middle" textLength="7.2" lengthAdjust="spacingAndGlyphs">61</text>
<rect x="812.8" y="174.3" width="8.1" height="8.0" fill="#0a0a0a"/>
<text x="816.8" y="181.4" font-size="8.5" font-weight="bold" fill="#fff" stroke="#fff" stroke-width="0.25" text-anchor="middle" textLength="4.4" lengthAdjust="spacingAndGlyphs">8</text>
<rect x="767.5" y="186.3" width="8.3" height="8.3" fill="#0a0a0a"/>
<text x="771.6" y="193.7" font-size="8.8" font-weight="bold" fill="#fff" stroke="#fff" stroke-width="0.25" text-anchor="middle" textLength="4.4" lengthAdjust="spacingAndGlyphs">8</text>
<rect x="967.9" y="355.0" width="9.0" height="9.3" fill="#0a0a0a"/>
<text x="972.4" y="363.3" font-size="9.9" font-weight="bold" fill="#fff" stroke="#fff" stroke-width="0.25" text-anchor="middle" textLength="7.2" lengthAdjust="spacingAndGlyphs">47</text>
<rect x="172.8" y="404.4" width="8.2" height="8.4" fill="#0a0a0a"/>
<text x="176.9" y="411.9" font-size="8.9" font-weight="bold" fill="#fff" stroke="#fff" stroke-width="0.25" text-anchor="middle" textLength="7.2" lengthAdjust="spacingAndGlyphs">33</text>
<rect x="188.3" y="402.6" width="8.5" height="8.2" fill="#0a0a0a"/>
<text x="192.6" y="409.9" font-size="8.7" font-weight="bold" fill="#fff" stroke="#fff" stroke-width="0.25" text-anchor="middle" textLength="7.2" lengthAdjust="spacingAndGlyphs">28</text>
<rect x="213.7" y="394.3" width="8.4" height="8.3" fill="#0a0a0a"/>
<text x="217.9" y="401.7" font-size="8.8" font-weight="bold" fill="#fff" stroke="#fff" stroke-width="0.25" text-anchor="middle" textLength="7.2" lengthAdjust="spacingAndGlyphs">12</text>
<rect x="249.1" y="444.7" width="8.6" height="8.2" fill="#0a0a0a"/>
<text x="253.4" y="452.0" font-size="8.7" font-weight="bold" fill="#fff" stroke="#fff" stroke-width="0.25" text-anchor="middle" textLength="7.2" lengthAdjust="spacingAndGlyphs">61</text>
<rect x="269.3" y="438.2" width="8.4" height="8.0" fill="#0a0a0a"/>
<text x="273.5" y="445.3" font-size="8.5" font-weight="bold" fill="#fff" stroke="#fff" stroke-width="0.25" text-anchor="middle" textLength="7.2" lengthAdjust="spacingAndGlyphs">13</text>
<rect x="280.2" y="384.5" width="8.6" height="8.6" fill="#0a0a0a"/>
<text x="284.5" y="392.2" font-size="9.1" font-weight="bold" fill="#fff" stroke="#fff" stroke-width="0.25" text-anchor="middle" textLength="7.2" lengthAdjust="spacingAndGlyphs">33</text>
<rect x="295.1" y="382.3" width="8.7" height="8.6" fill="#0a0a0a"/>
<text x="299.5" y="390.0" font-size="9.1" font-weight="bold" fill="#fff" stroke="#fff" stroke-width="0.25" text-anchor="middle" textLength="7.2" lengthAdjust="spacingAndGlyphs">28</text>
<rect x="320.4" y="374.0" width="8.5" height="8.3" fill="#0a0a0a"/>
<text x="324.6" y="381.4" font-size="8.8" font-weight="bold" fill="#fff" stroke="#fff" stroke-width="0.25" text-anchor="middle" textLength="7.2" lengthAdjust="spacingAndGlyphs">12</text>
<rect x="355.2" y="422.1" width="8.7" height="8.6" fill="#0a0a0a"/>
<text x="359.5" y="429.8" font-size="9.1" font-weight="bold" fill="#fff" stroke="#fff" stroke-width="0.25" text-anchor="middle" textLength="7.2" lengthAdjust="spacingAndGlyphs">61</text>
<rect x="376.0" y="415.4" width="8.5" height="8.5" fill="#0a0a0a"/>
<text x="380.2" y="423.0" font-size="9.0" font-weight="bold" fill="#fff" stroke="#fff" stroke-width="0.25" text-anchor="middle" textLength="7.2" lengthAdjust="spacingAndGlyphs">13</text>
<rect x="399.0" y="418.4" width="8.7" height="8.5" fill="#0a0a0a"/>
<text x="403.4" y="426.0" font-size="9.0" font-weight="bold" fill="#fff" stroke="#fff" stroke-width="0.25" text-anchor="middle" textLength="7.2" lengthAdjust="spacingAndGlyphs">33</text>
<rect x="327.1" y="437.4" width="8.7" height="8.8" fill="#0a0a0a"/>
<text x="331.5" y="445.2" font-size="9.3" font-weight="bold" fill="#fff" stroke="#fff" stroke-width="0.25" text-anchor="middle" textLength="7.2" lengthAdjust="spacingAndGlyphs">12</text>
<rect x="447.1" y="502.2" width="8.6" height="8.6" fill="#0a0a0a"/>
<text x="451.4" y="509.9" font-size="9.1" font-weight="bold" fill="#fff" stroke="#fff" stroke-width="0.25" text-anchor="middle" textLength="7.2" lengthAdjust="spacingAndGlyphs">12</text>
<rect x="222.4" y="524.2" width="8.6" height="8.6" fill="#0a0a0a"/>
<text x="226.7" y="531.9" font-size="9.1" font-weight="bold" fill="#fff" stroke="#fff" stroke-width="0.25" text-anchor="middle" textLength="7.2" lengthAdjust="spacingAndGlyphs">12</text>
<rect x="237.5" y="530.2" width="8.5" height="8.6" fill="#0a0a0a"/>
<text x="241.8" y="537.9" font-size="9.1" font-weight="bold" fill="#fff" stroke="#fff" stroke-width="0.25" text-anchor="middle" textLength="7.2" lengthAdjust="spacingAndGlyphs">28</text>
<rect x="253.5" y="534.3" width="8.5" height="8.2" fill="#0a0a0a"/>
<text x="257.8" y="541.6" font-size="8.7" font-weight="bold" fill="#fff" stroke="#fff" stroke-width="0.25" text-anchor="middle" textLength="7.2" lengthAdjust="spacingAndGlyphs">33</text>
<rect x="155.4" y="571.4" width="8.4" height="8.4" fill="#0a0a0a"/>
<text x="159.6" y="578.9" font-size="8.9" font-weight="bold" fill="#fff" stroke="#fff" stroke-width="0.25" text-anchor="middle" textLength="7.2" lengthAdjust="spacingAndGlyphs">61</text>
<rect x="183.3" y="574.9" width="8.6" height="8.5" fill="#0a0a0a"/>
<text x="187.6" y="582.5" font-size="9.0" font-weight="bold" fill="#fff" stroke="#fff" stroke-width="0.25" text-anchor="middle" textLength="7.2" lengthAdjust="spacingAndGlyphs">13</text>
<rect x="187.4" y="586.1" width="8.6" height="8.6" fill="#0a0a0a"/>
<text x="191.7" y="593.8" font-size="9.1" font-weight="bold" fill="#fff" stroke="#fff" stroke-width="0.25" text-anchor="middle" textLength="7.2" lengthAdjust="spacingAndGlyphs">12</text>
<rect x="283.0" y="524.3" width="9.0" height="8.4" fill="#0a0a0a"/>
<text x="287.5" y="531.8" font-size="8.9" font-weight="bold" fill="#fff" stroke="#fff" stroke-width="0.25" text-anchor="middle" textLength="7.2" lengthAdjust="spacingAndGlyphs">13</text>
<rect x="321.2" y="542.8" width="8.6" height="8.4" fill="#0a0a0a"/>
<text x="325.5" y="550.3" font-size="8.9" font-weight="bold" fill="#fff" stroke="#fff" stroke-width="0.25" text-anchor="middle" textLength="7.2" lengthAdjust="spacingAndGlyphs">12</text>
<rect x="351.3" y="548.5" width="8.5" height="8.3" fill="#0a0a0a"/>
<text x="355.6" y="555.9" font-size="8.8" font-weight="bold" fill="#fff" stroke="#fff" stroke-width="0.25" text-anchor="middle" textLength="7.2" lengthAdjust="spacingAndGlyphs">28</text>
<rect x="364.2" y="555.7" width="8.7" height="8.5" fill="#0a0a0a"/>
<text x="368.5" y="563.3" font-size="9.0" font-weight="bold" fill="#fff" stroke="#fff" stroke-width="0.25" text-anchor="middle" textLength="7.2" lengthAdjust="spacingAndGlyphs">33</text>
<rect x="264.1" y="587.2" width="8.5" height="8.4" fill="#0a0a0a"/>
<text x="268.4" y="594.7" font-size="8.9" font-weight="bold" fill="#fff" stroke="#fff" stroke-width="0.25" text-anchor="middle" textLength="7.2" lengthAdjust="spacingAndGlyphs">61</text>
<rect x="334.3" y="590.2" width="8.7" height="8.4" fill="#0a0a0a"/>
<text x="338.6" y="597.7" font-size="8.9" font-weight="bold" fill="#fff" stroke="#fff" stroke-width="0.25" text-anchor="middle" textLength="7.2" lengthAdjust="spacingAndGlyphs">13</text>
<rect x="283.4" y="671.9" width="8.3" height="9.1" fill="#0a0a0a"/>
<text x="287.5" y="680.0" font-size="9.6" font-weight="bold" fill="#fff" stroke="#fff" stroke-width="0.25" text-anchor="middle" textLength="7.2" lengthAdjust="spacingAndGlyphs">13</text>
<rect x="95.2" y="563.3" width="8.7" height="8.2" fill="#0a0a0a"/>
<text x="99.6" y="570.6" font-size="8.7" font-weight="bold" fill="#fff" stroke="#fff" stroke-width="0.25" text-anchor="middle" textLength="7.2" lengthAdjust="spacingAndGlyphs">33</text>
<rect x="41.1" y="642.3" width="8.9" height="8.6" fill="#0a0a0a"/>
<text x="45.5" y="650.0" font-size="9.1" font-weight="bold" fill="#fff" stroke="#fff" stroke-width="0.25" text-anchor="middle" textLength="7.2" lengthAdjust="spacingAndGlyphs">12</text>
<rect x="487.5" y="341.8" width="8.3" height="8.1" fill="#0a0a0a"/>
<text x="491.6" y="349.0" font-size="8.6" font-weight="bold" fill="#fff" stroke="#fff" stroke-width="0.25" text-anchor="middle" textLength="7.2" lengthAdjust="spacingAndGlyphs">33</text>
<rect x="509.5" y="347.3" width="8.7" height="8.4" fill="#0a0a0a"/>
<text x="513.9" y="354.8" font-size="8.9" font-weight="bold" fill="#fff" stroke="#fff" stroke-width="0.25" text-anchor="middle" textLength="7.2" lengthAdjust="spacingAndGlyphs">47</text>
<rect x="440.1" y="372.2" width="8.7" height="8.4" fill="#0a0a0a"/>
<text x="444.5" y="379.7" font-size="8.9" font-weight="bold" fill="#fff" stroke="#fff" stroke-width="0.25" text-anchor="middle" textLength="7.2" lengthAdjust="spacingAndGlyphs">12</text>
<rect x="15.2" y="484.4" width="8.6" height="8.2" fill="#0a0a0a"/>
<text x="19.5" y="491.7" font-size="8.7" font-weight="bold" fill="#fff" stroke="#fff" stroke-width="0.25" text-anchor="middle" textLength="7.2" lengthAdjust="spacingAndGlyphs">33</text>
<rect x="63.3" y="525.3" width="8.7" height="8.2" fill="#0a0a0a"/>
<text x="67.7" y="532.6" font-size="8.7" font-weight="bold" fill="#fff" stroke="#fff" stroke-width="0.25" text-anchor="middle" textLength="7.2" lengthAdjust="spacingAndGlyphs">12</text>
<rect x="584.2" y="363.0" width="8.4" height="8.7" fill="#0a0a0a"/>
<text x="588.4" y="370.7" font-size="9.2" font-weight="bold" fill="#fff" stroke="#fff" stroke-width="0.25" text-anchor="middle" textLength="7.2" lengthAdjust="spacingAndGlyphs">33</text>
<rect x="617.6" y="388.5" width="8.7" height="8.6" fill="#0a0a0a"/>
<text x="622.0" y="396.2" font-size="9.1" font-weight="bold" fill="#fff" stroke="#fff" stroke-width="0.25" text-anchor="middle" textLength="7.2" lengthAdjust="spacingAndGlyphs">28</text>
<rect x="630.9" y="394.1" width="8.8" height="8.9" fill="#0a0a0a"/>
<text x="635.3" y="402.0" font-size="9.4" font-weight="bold" fill="#fff" stroke="#fff" stroke-width="0.25" text-anchor="middle" textLength="7.2" lengthAdjust="spacingAndGlyphs">33</text>
<rect x="634.7" y="437.2" width="8.8" height="8.4" fill="#0a0a0a"/>
<text x="639.1" y="444.7" font-size="8.9" font-weight="bold" fill="#fff" stroke="#fff" stroke-width="0.25" text-anchor="middle" textLength="7.2" lengthAdjust="spacingAndGlyphs">33</text>
<rect x="552.1" y="447.2" width="8.6" height="8.7" fill="#0a0a0a"/>
<text x="556.4" y="454.9" font-size="9.2" font-weight="bold" fill="#fff" stroke="#fff" stroke-width="0.25" text-anchor="middle" textLength="7.2" lengthAdjust="spacingAndGlyphs">12</text>
<rect x="665.0" y="463.7" width="9.1" height="9.1" fill="#0a0a0a"/>
<text x="669.5" y="471.8" font-size="9.6" font-weight="bold" fill="#fff" stroke="#fff" stroke-width="0.25" text-anchor="middle" textLength="7.2" lengthAdjust="spacingAndGlyphs">33</text>
<rect x="526.9" y="515.2" width="9.1" height="9.1" fill="#0a0a0a"/>
<text x="531.5" y="523.3" font-size="9.6" font-weight="bold" fill="#fff" stroke="#fff" stroke-width="0.25" text-anchor="middle" textLength="7.2" lengthAdjust="spacingAndGlyphs">12</text>
<rect x="537.3" y="531.6" width="9.1" height="9.1" fill="#0a0a0a"/>
<text x="541.8" y="539.7" font-size="9.6" font-weight="bold" fill="#fff" stroke="#fff" stroke-width="0.25" text-anchor="middle" textLength="7.2" lengthAdjust="spacingAndGlyphs">33</text>
<rect x="561.0" y="526.4" width="9.2" height="9.1" fill="#0a0a0a"/>
<text x="565.6" y="534.5" font-size="9.6" font-weight="bold" fill="#fff" stroke="#fff" stroke-width="0.25" text-anchor="middle" textLength="7.2" lengthAdjust="spacingAndGlyphs">12</text>
<rect x="754.6" y="676.5" width="9.0" height="8.3" fill="#0a0a0a"/>
<text x="759.1" y="683.9" font-size="8.8" font-weight="bold" fill="#fff" stroke="#fff" stroke-width="0.25" text-anchor="middle" textLength="7.2" lengthAdjust="spacingAndGlyphs">50</text>
<rect x="776.0" y="321.0" width="8.5" height="8.0" fill="#0a0a0a"/>
<text x="780.2" y="328.1" font-size="8.5" font-weight="bold" fill="#fff" stroke="#fff" stroke-width="0.25" text-anchor="middle" textLength="7.2" lengthAdjust="spacingAndGlyphs">50</text>
<rect x="747.0" y="340.4" width="8.6" height="8.3" fill="#0a0a0a"/>
<text x="751.3" y="347.8" font-size="8.8" font-weight="bold" fill="#fff" stroke="#fff" stroke-width="0.25" text-anchor="middle" textLength="7.2" lengthAdjust="spacingAndGlyphs">50</text>
<rect x="809.7" y="355.0" width="8.9" height="8.7" fill="#0a0a0a"/>
<text x="814.2" y="362.7" font-size="9.2" font-weight="bold" fill="#fff" stroke="#fff" stroke-width="0.25" text-anchor="middle" textLength="7.2" lengthAdjust="spacingAndGlyphs">33</text>
<rect x="851.8" y="390.1" width="8.8" height="8.5" fill="#0a0a0a"/>
<text x="856.2" y="397.7" font-size="9.0" font-weight="bold" fill="#fff" stroke="#fff" stroke-width="0.25" text-anchor="middle" textLength="7.2" lengthAdjust="spacingAndGlyphs">28</text>
<rect x="874.3" y="393.7" width="8.7" height="8.5" fill="#0a0a0a"/>
<text x="878.6" y="401.3" font-size="9.0" font-weight="bold" fill="#fff" stroke="#fff" stroke-width="0.25" text-anchor="middle" textLength="7.2" lengthAdjust="spacingAndGlyphs">33</text>
<rect x="773.0" y="425.2" width="9.0" height="8.6" fill="#0a0a0a"/>
<text x="777.5" y="432.9" font-size="9.1" font-weight="bold" fill="#fff" stroke="#fff" stroke-width="0.25" text-anchor="middle" textLength="7.2" lengthAdjust="spacingAndGlyphs">13</text>
<rect x="783.0" y="441.2" width="8.7" height="8.7" fill="#0a0a0a"/>
<text x="787.4" y="448.9" font-size="9.2" font-weight="bold" fill="#fff" stroke="#fff" stroke-width="0.25" text-anchor="middle" textLength="7.2" lengthAdjust="spacingAndGlyphs">61</text>
<rect x="867.7" y="427.2" width="9.0" height="8.6" fill="#0a0a0a"/>
<text x="872.2" y="434.9" font-size="9.1" font-weight="bold" fill="#fff" stroke="#fff" stroke-width="0.25" text-anchor="middle" textLength="7.2" lengthAdjust="spacingAndGlyphs">33</text>
<rect x="866.7" y="441.2" width="8.8" height="8.7" fill="#0a0a0a"/>
<text x="871.1" y="448.9" font-size="9.2" font-weight="bold" fill="#fff" stroke="#fff" stroke-width="0.25" text-anchor="middle" textLength="7.2" lengthAdjust="spacingAndGlyphs">13</text>
<rect x="792.5" y="455.9" width="13.2" height="8.7" fill="#0a0a0a"/>
<text x="799.1" y="463.6" font-size="9.2" font-weight="bold" fill="#fff" stroke="#fff" stroke-width="0.25" text-anchor="middle" textLength="11.4" lengthAdjust="spacingAndGlyphs">137</text>
<rect x="895.1" y="467.8" width="9.1" height="9.1" fill="#0a0a0a"/>
<text x="899.7" y="475.9" font-size="9.6" font-weight="bold" fill="#fff" stroke="#fff" stroke-width="0.25" text-anchor="middle" textLength="7.2" lengthAdjust="spacingAndGlyphs">33</text>
<rect x="814.3" y="487.3" width="9.2" height="9.1" fill="#0a0a0a"/>
<text x="818.9" y="495.4" font-size="9.6" font-weight="bold" fill="#fff" stroke="#fff" stroke-width="0.25" text-anchor="middle" textLength="7.2" lengthAdjust="spacingAndGlyphs">61</text>
<rect x="816.2" y="508.2" width="9.1" height="9.1" fill="#0a0a0a"/>
<text x="820.8" y="516.3" font-size="9.6" font-weight="bold" fill="#fff" stroke="#fff" stroke-width="0.25" text-anchor="middle" textLength="7.2" lengthAdjust="spacingAndGlyphs">13</text>
<rect x="767.2" y="518.6" width="8.8" height="9.1" fill="#0a0a0a"/>
<text x="771.6" y="526.7" font-size="9.6" font-weight="bold" fill="#fff" stroke="#fff" stroke-width="0.25" text-anchor="middle" textLength="7.2" lengthAdjust="spacingAndGlyphs">13</text>
<rect x="777.1" y="530.3" width="9.4" height="9.1" fill="#0a0a0a"/>
<text x="781.8" y="538.4" font-size="9.6" font-weight="bold" fill="#fff" stroke="#fff" stroke-width="0.25" text-anchor="middle" textLength="7.2" lengthAdjust="spacingAndGlyphs">33</text>
<rect x="987.5" y="669.6" width="9.5" height="8.4" fill="#0a0a0a"/>
<text x="992.2" y="677.1" font-size="8.9" font-weight="bold" fill="#fff" stroke="#fff" stroke-width="0.25" text-anchor="middle" textLength="7.2" lengthAdjust="spacingAndGlyphs">47</text>
<line x1="80.8" y1="102.5" x2="104.2" y2="131.2" stroke="#555" stroke-width="0.5"/>
<line x1="119.9" y1="101.2" x2="131.6" y2="129.9" stroke="#555" stroke-width="0.5"/>
<line x1="159.5" y1="95.5" x2="168.0" y2="120.8" stroke="#555" stroke-width="0.5"/>
<line x1="328.0" y1="98.4" x2="311.2" y2="122.9" stroke="#555" stroke-width="0.5"/>
<line x1="358.1" y1="176.6" x2="333.4" y2="145.0" stroke="#555" stroke-width="0.5"/>
<line x1="442.7" y1="27.0" x2="457.1" y2="32.5" stroke="#555" stroke-width="0.5"/>
<line x1="431.5" y1="53.5" x2="437.6" y2="68.2" stroke="#555" stroke-width="0.5"/>
<line x1="63.6" y1="189.9" x2="48.2" y2="182.0" stroke="#555" stroke-width="0.5"/>
<line x1="73.7" y1="212.5" x2="63.8" y2="222.6" stroke="#555" stroke-width="0.5"/>
<line x1="166.7" y1="251.3" x2="182.4" y2="276.0" stroke="#555" stroke-width="0.5"/>
<line x1="141.2" y1="324.2" x2="166.8" y2="303.3" stroke="#555" stroke-width="0.5"/>
<line x1="349.0" y1="247.8" x2="330.8" y2="272.1" stroke="#555" stroke-width="0.5"/>
<line x1="418.8" y1="258.3" x2="398.5" y2="281.2" stroke="#555" stroke-width="0.5"/>
<line x1="588.3" y1="52.8" x2="569.9" y2="54.2" stroke="#555" stroke-width="0.5"/>
<line x1="767.9" y1="63.0" x2="790.1" y2="61.2" stroke="#555" stroke-width="0.5"/>
<line x1="594.2" y1="389.8" x2="576.4" y2="391.2" stroke="#555" stroke-width="0.5"/>
<line x1="774.0" y1="399.8" x2="788.1" y2="398.2" stroke="#555" stroke-width="0.5"/>
<line x1="577.0" y1="171.5" x2="620.0" y2="161.0" stroke="#555" stroke-width="0.5"/>
<line x1="606.1" y1="226.8" x2="643.5" y2="189.4" stroke="#555" stroke-width="0.5"/>
<line x1="583.4" y1="507.9" x2="631.8" y2="487.0" stroke="#555" stroke-width="0.5"/>
<line x1="612.4" y1="565.3" x2="647.5" y2="526.2" stroke="#555" stroke-width="0.5"/>
<line x1="108.7" y1="449.8" x2="118.6" y2="479.0" stroke="#555" stroke-width="0.5"/>
<line x1="125.8" y1="450.9" x2="136.8" y2="482.9" stroke="#555" stroke-width="0.5"/>
<line x1="396.5" y1="438.6" x2="415.4" y2="446.9" stroke="#555" stroke-width="0.5"/>
<line x1="427.4" y1="401.5" x2="428.0" y2="416.9" stroke="#555" stroke-width="0.5"/>
<line x1="357.6" y1="517.7" x2="343.8" y2="492.5" stroke="#555" stroke-width="0.5"/>
<line x1="104.8" y1="584.1" x2="92.5" y2="591.7" stroke="#555" stroke-width="0.5"/>
<line x1="89.7" y1="557.4" x2="84.7" y2="570.8" stroke="#555" stroke-width="0.5"/>
<line x1="207.7" y1="675.5" x2="191.5" y2="636.0" stroke="#555" stroke-width="0.5"/>
<line x1="478.8" y1="440.9" x2="444.1" y2="448.7" stroke="#555" stroke-width="0.5"/>
<line x1="24.8" y1="589.8" x2="62.5" y2="598.2" stroke="#555" stroke-width="0.5"/>
<circle cx="80.8" cy="102.5" r="4.4" fill="#fff" stroke="#bbb" stroke-width="0.5"/>
<text x="80.8" y="105.0" font-size="6.8" font-weight="bold" fill="#111" text-anchor="middle" textLength="5.8" lengthAdjust="spacingAndGlyphs">19</text>
<circle cx="119.9" cy="101.2" r="4.4" fill="#fff" stroke="#bbb" stroke-width="0.5"/>
<text x="119.9" y="103.7" font-size="6.8" font-weight="bold" fill="#111" text-anchor="middle" textLength="5.8" lengthAdjust="spacingAndGlyphs">10</text>
<circle cx="159.5" cy="95.5" r="4.4" fill="#fff" stroke="#bbb" stroke-width="0.5"/>
<text x="159.5" y="98.0" font-size="6.8" font-weight="bold" fill="#111" text-anchor="middle" textLength="5.8" lengthAdjust="spacingAndGlyphs">19</text>
<circle cx="328.0" cy="98.4" r="4.4" fill="#fff" stroke="#bbb" stroke-width="0.5"/>
<text x="328.0" y="100.9" font-size="6.8" font-weight="bold" fill="#111" text-anchor="middle" textLength="5.8" lengthAdjust="spacingAndGlyphs">14</text>
<circle cx="358.1" cy="176.6" r="4.4" fill="#fff" stroke="#bbb" stroke-width="0.5"/>
<text x="358.1" y="179.1" font-size="6.8" font-weight="bold" fill="#111" text-anchor="middle" textLength="3.0" lengthAdjust="spacingAndGlyphs">1</text>
<circle cx="442.7" cy="27.0" r="4.4" fill="#fff" stroke="#bbb" stroke-width="0.5"/>
<text x="442.7" y="29.5" font-size="6.8" font-weight="bold" fill="#111" text-anchor="middle" textLength="3.0" lengthAdjust="spacingAndGlyphs">6</text>
<circle cx="431.5" cy="53.5" r="4.4" fill="#fff" stroke="#bbb" stroke-width="0.5"/>
<text x="431.5" y="56.0" font-size="6.8" font-weight="bold" fill="#111" text-anchor="middle" textLength="3.0" lengthAdjust="spacingAndGlyphs">3</text>
<circle cx="63.6" cy="189.9" r="4.4" fill="#fff" stroke="#bbb" stroke-width="0.5"/>
<text x="63.6" y="192.4" font-size="6.8" font-weight="bold" fill="#111" text-anchor="middle" textLength="3.0" lengthAdjust="spacingAndGlyphs">5</text>
<circle cx="73.7" cy="212.5" r="4.4" fill="#fff" stroke="#bbb" stroke-width="0.5"/>
<text x="73.7" y="215.0" font-size="6.8" font-weight="bold" fill="#111" text-anchor="middle" textLength="3.0" lengthAdjust="spacingAndGlyphs">4</text>
<circle cx="166.7" cy="251.3" r="4.4" fill="#fff" stroke="#bbb" stroke-width="0.5"/>
<text x="166.7" y="253.8" font-size="6.8" font-weight="bold" fill="#111" text-anchor="middle" textLength="5.8" lengthAdjust="spacingAndGlyphs">14</text>
<circle cx="141.2" cy="324.2" r="4.4" fill="#fff" stroke="#bbb" stroke-width="0.5"/>
<text x="141.2" y="326.7" font-size="6.8" font-weight="bold" fill="#111" text-anchor="middle" textLength="3.0" lengthAdjust="spacingAndGlyphs">1</text>
<circle cx="349.0" cy="247.8" r="4.4" fill="#fff" stroke="#bbb" stroke-width="0.5"/>
<text x="349.0" y="250.3" font-size="6.8" font-weight="bold" fill="#111" text-anchor="middle" textLength="5.8" lengthAdjust="spacingAndGlyphs">19</text>
<circle cx="418.8" cy="258.3" r="4.4" fill="#fff" stroke="#bbb" stroke-width="0.5"/>
<text x="418.8" y="260.8" font-size="6.8" font-weight="bold" fill="#111" text-anchor="middle" textLength="5.8" lengthAdjust="spacingAndGlyphs">19</text>
<circle cx="588.3" cy="52.8" r="4.4" fill="#fff" stroke="#bbb" stroke-width="0.5"/>
<text x="588.3" y="55.3" font-size="6.8" font-weight="bold" fill="#111" text-anchor="middle" textLength="3.0" lengthAdjust="spacingAndGlyphs">2</text>
<circle cx="767.9" cy="63.0" r="4.4" fill="#fff" stroke="#bbb" stroke-width="0.5"/>
<text x="767.9" y="65.5" font-size="6.8" font-weight="bold" fill="#111" text-anchor="middle" textLength="3.0" lengthAdjust="spacingAndGlyphs">2</text>
<circle cx="594.2" cy="389.8" r="4.4" fill="#fff" stroke="#bbb" stroke-width="0.5"/>
<text x="594.2" y="392.3" font-size="6.8" font-weight="bold" fill="#111" text-anchor="middle" textLength="3.0" lengthAdjust="spacingAndGlyphs">2</text>
<circle cx="774.0" cy="399.8" r="4.4" fill="#fff" stroke="#bbb" stroke-width="0.5"/>
<text x="774.0" y="402.3" font-size="6.8" font-weight="bold" fill="#111" text-anchor="middle" textLength="3.0" lengthAdjust="spacingAndGlyphs">2</text>
<circle cx="577.0" cy="171.5" r="4.4" fill="#fff" stroke="#bbb" stroke-width="0.5"/>
<text x="577.0" y="174.0" font-size="6.8" font-weight="bold" fill="#111" text-anchor="middle" textLength="5.8" lengthAdjust="spacingAndGlyphs">18</text>
<circle cx="606.1" cy="226.8" r="4.4" fill="#fff" stroke="#bbb" stroke-width="0.5"/>
<text x="606.1" y="229.3" font-size="6.8" font-weight="bold" fill="#111" text-anchor="middle" textLength="5.8" lengthAdjust="spacingAndGlyphs">18</text>
<circle cx="583.4" cy="507.9" r="4.4" fill="#fff" stroke="#bbb" stroke-width="0.5"/>
<text x="583.4" y="510.4" font-size="6.8" font-weight="bold" fill="#111" text-anchor="middle" textLength="5.8" lengthAdjust="spacingAndGlyphs">18</text>
<circle cx="612.4" cy="565.3" r="4.4" fill="#fff" stroke="#bbb" stroke-width="0.5"/>
<text x="612.4" y="567.8" font-size="6.8" font-weight="bold" fill="#111" text-anchor="middle" textLength="5.8" lengthAdjust="spacingAndGlyphs">18</text>
<circle cx="108.7" cy="449.8" r="4.4" fill="#fff" stroke="#bbb" stroke-width="0.5"/>
<text x="108.7" y="452.3" font-size="6.8" font-weight="bold" fill="#111" text-anchor="middle" textLength="5.8" lengthAdjust="spacingAndGlyphs">17</text>
<circle cx="125.8" cy="450.9" r="4.4" fill="#fff" stroke="#bbb" stroke-width="0.5"/>
<text x="125.8" y="453.4" font-size="6.8" font-weight="bold" fill="#111" text-anchor="middle" textLength="5.8" lengthAdjust="spacingAndGlyphs">11</text>
<circle cx="396.5" cy="438.6" r="4.4" fill="#fff" stroke="#bbb" stroke-width="0.5"/>
<text x="396.5" y="441.1" font-size="6.8" font-weight="bold" fill="#111" text-anchor="middle" textLength="5.8" lengthAdjust="spacingAndGlyphs">12</text>
<circle cx="427.4" cy="401.5" r="4.4" fill="#fff" stroke="#bbb" stroke-width="0.5"/>
<text x="427.4" y="404.0" font-size="6.8" font-weight="bold" fill="#111" text-anchor="middle" textLength="3.0" lengthAdjust="spacingAndGlyphs">8</text>
<circle cx="357.6" cy="517.7" r="4.4" fill="#fff" stroke="#bbb" stroke-width="0.5"/>
<text x="357.6" y="520.2" font-size="6.8" font-weight="bold" fill="#111" text-anchor="middle" textLength="3.0" lengthAdjust="spacingAndGlyphs">1</text>
<circle cx="104.8" cy="584.1" r="4.4" fill="#fff" stroke="#bbb" stroke-width="0.5"/>
<text x="104.8" y="586.6" font-size="6.8" font-weight="bold" fill="#111" text-anchor="middle" textLength="5.8" lengthAdjust="spacingAndGlyphs">13</text>
<circle cx="89.7" cy="557.4" r="4.4" fill="#fff" stroke="#bbb" stroke-width="0.5"/>
<text x="89.7" y="559.9" font-size="6.8" font-weight="bold" fill="#111" text-anchor="middle" textLength="3.0" lengthAdjust="spacingAndGlyphs">8</text>
<circle cx="207.7" cy="675.5" r="4.4" fill="#fff" stroke="#bbb" stroke-width="0.5"/>
<text x="207.7" y="678.0" font-size="6.8" font-weight="bold" fill="#111" text-anchor="middle" textLength="3.0" lengthAdjust="spacingAndGlyphs">1</text>
<circle cx="485.5" cy="439.7" r="4.4" fill="#fff" stroke="#bbb" stroke-width="0.5"/>
<text x="485.5" y="442.2" font-size="6.8" font-weight="bold" fill="#111" text-anchor="middle" textLength="3.0" lengthAdjust="spacingAndGlyphs">7</text>
<text x="478.0" y="442.9" font-size="10.5" fill="#111" text-anchor="middle">(</text>
<text x="493.0" y="442.9" font-size="10.5" fill="#111" text-anchor="middle">)</text>
<circle cx="18.3" cy="589.2" r="4.4" fill="#fff" stroke="#bbb" stroke-width="0.5"/>
<text x="18.3" y="591.7" font-size="6.8" font-weight="bold" fill="#111" text-anchor="middle" textLength="3.0" lengthAdjust="spacingAndGlyphs">7</text>
<text x="10.8" y="592.4" font-size="10.5" fill="#111" text-anchor="middle">(</text>
<text x="25.8" y="592.4" font-size="10.5" fill="#111" text-anchor="middle">)</text>
</svg>
</body></html>
